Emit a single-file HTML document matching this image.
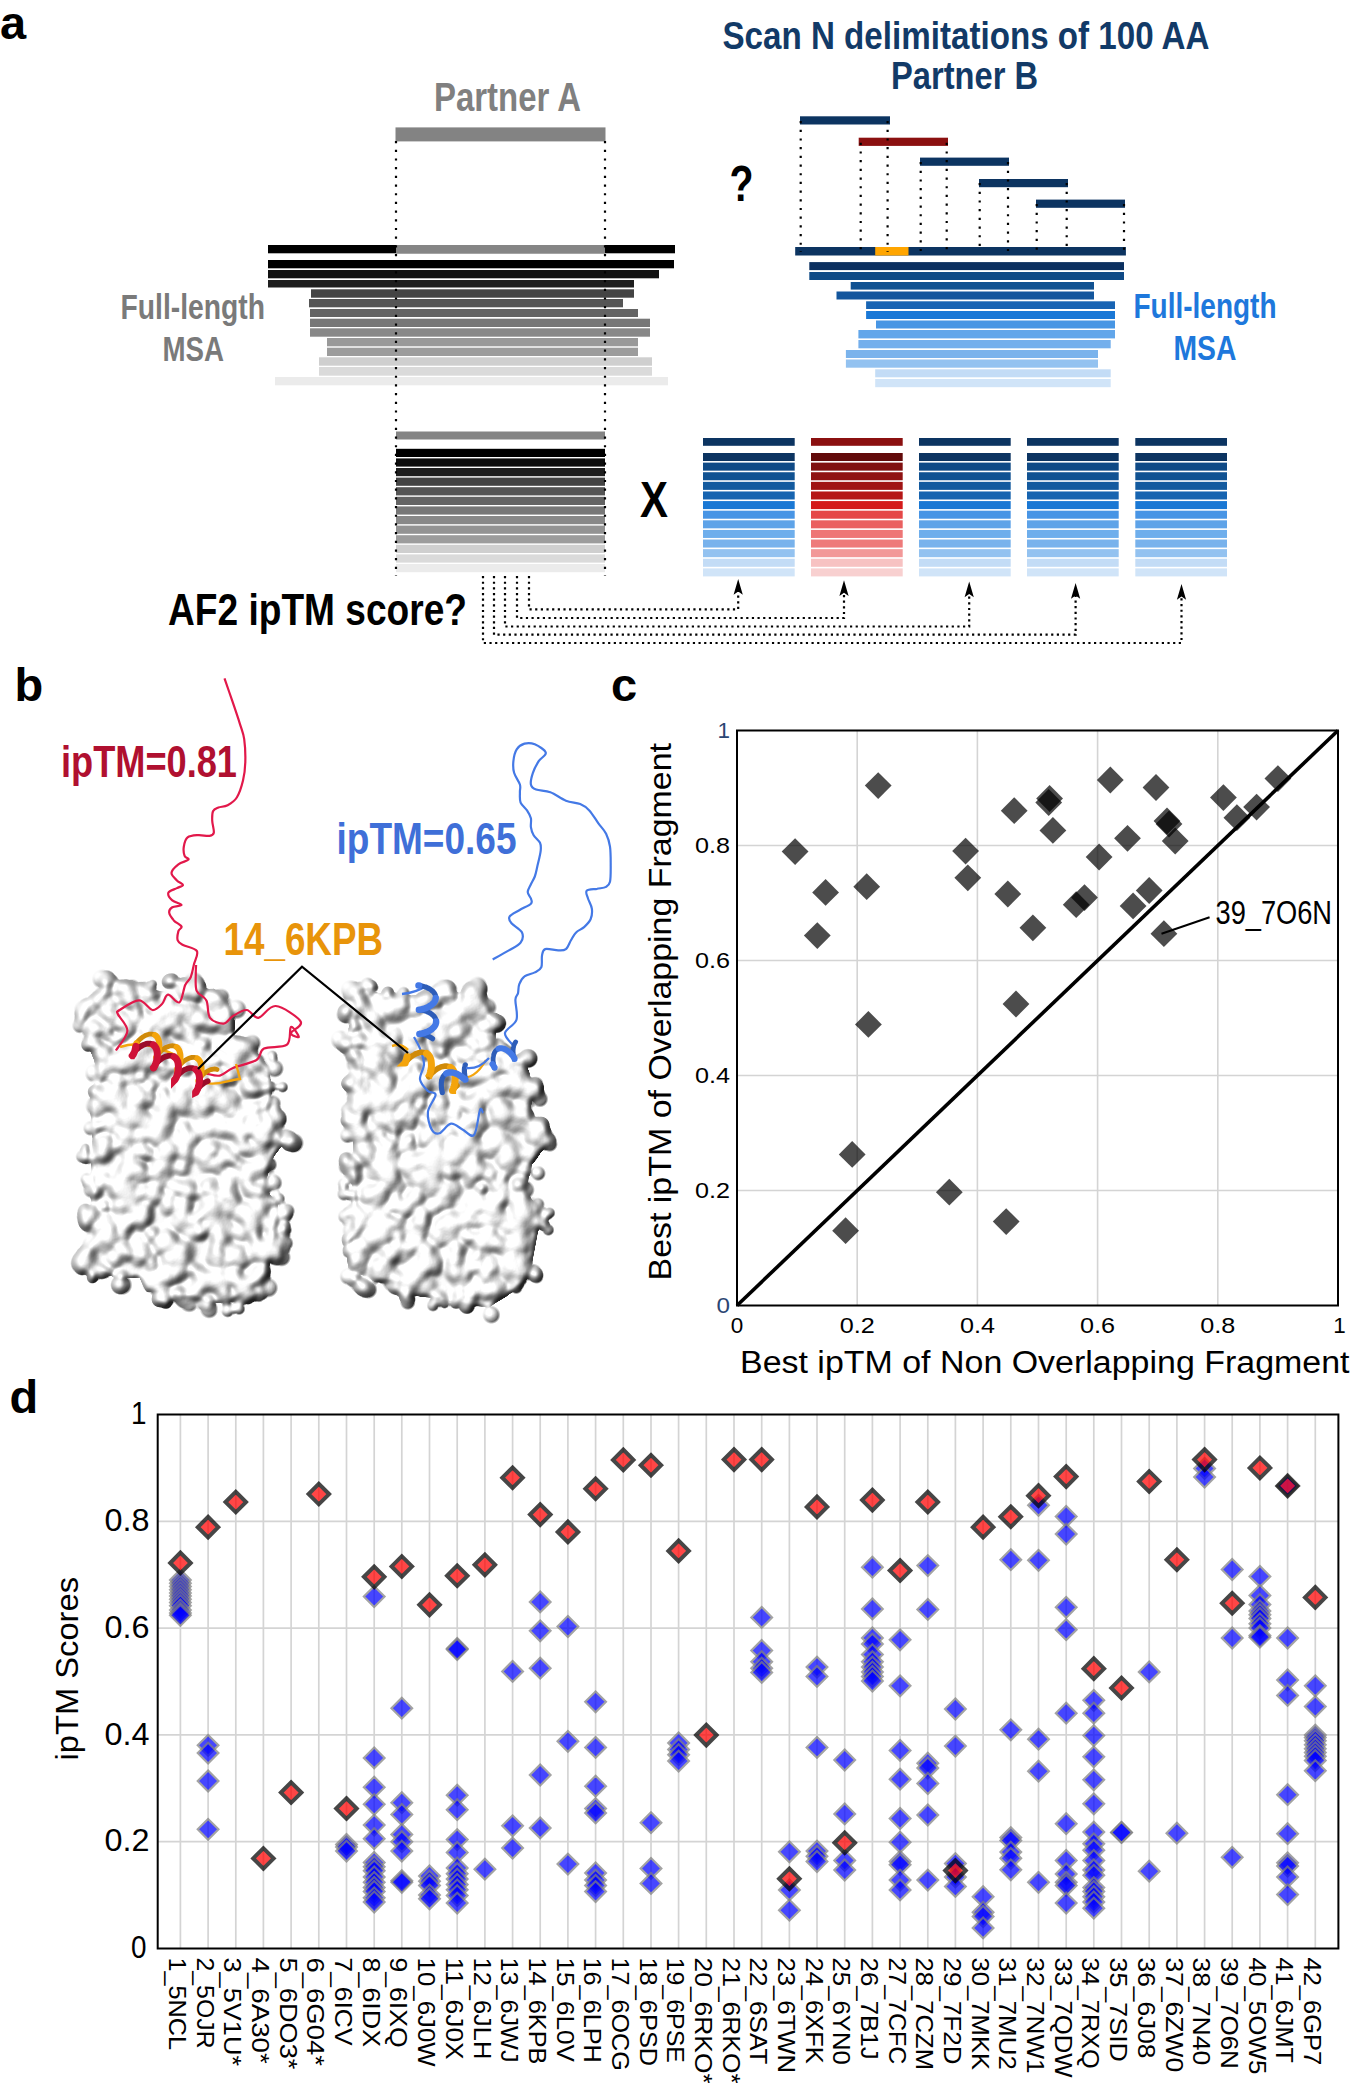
<!DOCTYPE html>
<html><head><meta charset="utf-8"><style>
html,body{margin:0;padding:0;background:#fff;overflow:hidden;}
svg{display:block;}
text{font-family:"Liberation Sans", sans-serif;}
</style></head><body>
<svg width="1350" height="2083" viewBox="0 0 1350 2083">
<rect width="1350" height="2083" fill="#fff"/>
<g font-family="Liberation Sans, sans-serif">
<text x="0" y="39" font-size="47" font-weight="bold" fill="#000">a</text>
<text x="434" y="111" font-size="40" font-weight="bold" fill="#808080" textLength="147" lengthAdjust="spacingAndGlyphs" text-anchor="start" >Partner A</text>
<rect x="395.5" y="127.4" width="210" height="14" fill="#838383"/>
<rect x="268" y="245" width="407" height="8.3" fill="#000"/>
<rect x="268" y="260" width="406" height="8.3" fill="#000"/>
<rect x="268" y="270" width="391" height="8.3" fill="#111"/>
<rect x="268" y="280" width="366" height="7.5" fill="#1e1e1e"/>
<rect x="311" y="289.3" width="323" height="8.4" fill="#444"/>
<rect x="309" y="299" width="314" height="8.3" fill="#555"/>
<rect x="310" y="309" width="328" height="8.0" fill="#646464"/>
<rect x="310" y="318.7" width="340" height="8.3" fill="#777"/>
<rect x="310" y="328.3" width="340" height="8.4" fill="#888"/>
<rect x="327" y="338" width="311" height="8.3" fill="#999"/>
<rect x="327" y="347.7" width="311" height="8.3" fill="#9c9c9c"/>
<rect x="319" y="357.3" width="333" height="8.4" fill="#cfcfcf"/>
<rect x="319" y="367" width="333" height="8.7" fill="#dadada"/>
<rect x="275" y="377" width="393" height="8.3" fill="#ebebeb"/>
<rect x="396" y="245" width="209" height="8.3" fill="#858585"/>
<text x="120.5" y="318.8" font-size="35" font-weight="bold" fill="#7a7a7a" textLength="144.5" lengthAdjust="spacingAndGlyphs" text-anchor="start" >Full-length</text>
<text x="162.5" y="360.7" font-size="35" font-weight="bold" fill="#7a7a7a" textLength="61.5" lengthAdjust="spacingAndGlyphs" text-anchor="start" >MSA</text>
<rect x="396" y="431.5" width="209" height="8" fill="#848484"/>
<rect x="396" y="448.80" width="209" height="8.20" fill="#000"/>
<rect x="396" y="458.40" width="209" height="8.20" fill="#0e0e0e"/>
<rect x="396" y="468.00" width="209" height="8.20" fill="#1f1f1f"/>
<rect x="396" y="477.60" width="209" height="8.20" fill="#444"/>
<rect x="396" y="487.20" width="209" height="8.20" fill="#555"/>
<rect x="396" y="496.80" width="209" height="8.20" fill="#646464"/>
<rect x="396" y="506.40" width="209" height="8.20" fill="#777"/>
<rect x="396" y="516.00" width="209" height="8.20" fill="#888"/>
<rect x="396" y="525.60" width="209" height="8.20" fill="#939393"/>
<rect x="396" y="535.20" width="209" height="8.20" fill="#9c9c9c"/>
<rect x="396" y="544.80" width="209" height="8.20" fill="#cfcfcf"/>
<rect x="396" y="554.40" width="209" height="8.20" fill="#dadada"/>
<rect x="396" y="564.00" width="209" height="8.20" fill="#ebebeb"/>
<line x1="396" y1="141" x2="396" y2="576" stroke="#000" stroke-width="2.2" stroke-dasharray="2.2 6.49"/>
<line x1="605" y1="141" x2="605" y2="576" stroke="#000" stroke-width="2.2" stroke-dasharray="2.2 6.49"/>
<text x="722.5" y="48.5" font-size="39" font-weight="bold" fill="#123a67" textLength="487" lengthAdjust="spacingAndGlyphs" text-anchor="start" >Scan N delimitations of 100 AA</text>
<text x="891" y="89.3" font-size="39" font-weight="bold" fill="#123a67" textLength="147" lengthAdjust="spacingAndGlyphs" text-anchor="start" >Partner B</text>
<text x="729.5" y="200.5" font-size="50" font-weight="bold" fill="#000" textLength="24" lengthAdjust="spacingAndGlyphs" text-anchor="start" >?</text>
<rect x="800" y="116.3" width="90" height="8.2" fill="#0c3461"/>
<rect x="858.7" y="137.7" width="89.3" height="8.2" fill="#8b1010"/>
<rect x="920" y="157.6" width="89" height="8.2" fill="#0c3461"/>
<rect x="979" y="179" width="89" height="8.2" fill="#0c3461"/>
<rect x="1036" y="199.6" width="89" height="8.2" fill="#0c3461"/>
<rect x="795.2" y="247" width="330.7" height="8.5" fill="#0c3461"/>
<rect x="875.2" y="247" width="33.3" height="8.5" fill="#ffa500"/>
<line x1="800.7" y1="121" x2="800.7" y2="252" stroke="#000" stroke-width="2.2" stroke-dasharray="2.2 6.49"/>
<line x1="887.6" y1="121" x2="887.6" y2="252" stroke="#000" stroke-width="2.2" stroke-dasharray="2.2 6.49"/>
<line x1="860.7" y1="142.7" x2="860.7" y2="252" stroke="#000" stroke-width="2.2" stroke-dasharray="2.2 6.49"/>
<line x1="946.7" y1="142.7" x2="946.7" y2="252" stroke="#000" stroke-width="2.2" stroke-dasharray="2.2 6.49"/>
<line x1="920.7" y1="162" x2="920.7" y2="252" stroke="#000" stroke-width="2.2" stroke-dasharray="2.2 6.49"/>
<line x1="1008" y1="162" x2="1008" y2="252" stroke="#000" stroke-width="2.2" stroke-dasharray="2.2 6.49"/>
<line x1="979.7" y1="183" x2="979.7" y2="252" stroke="#000" stroke-width="2.2" stroke-dasharray="2.2 6.49"/>
<line x1="1066.7" y1="183" x2="1066.7" y2="252" stroke="#000" stroke-width="2.2" stroke-dasharray="2.2 6.49"/>
<line x1="1036.7" y1="204" x2="1036.7" y2="252" stroke="#000" stroke-width="2.2" stroke-dasharray="2.2 6.49"/>
<line x1="1124" y1="204" x2="1124" y2="252" stroke="#000" stroke-width="2.2" stroke-dasharray="2.2 6.49"/>
<rect x="809.3" y="262.1" width="314.7" height="8.0" fill="#0b3060"/>
<rect x="809.3" y="272" width="314.7" height="8.0" fill="#0f4a86"/>
<rect x="850.7" y="282" width="243.3" height="7.6" fill="#115292"/>
<rect x="836.5" y="291.5" width="257.5" height="8.0" fill="#13569d"/>
<rect x="866.1" y="301.3" width="248.9" height="7.7" fill="#1864b3"/>
<rect x="866.1" y="311" width="248.9" height="8.0" fill="#1a78d6"/>
<rect x="876" y="320.5" width="239.0" height="8.0" fill="#4896e4"/>
<rect x="858.4" y="330" width="256.6" height="8.4" fill="#62a6ea"/>
<rect x="858.4" y="340" width="252.3" height="8.3" fill="#74afec"/>
<rect x="845.9" y="350" width="252.1" height="8.0" fill="#7ab3ec"/>
<rect x="845.9" y="359.5" width="252.1" height="8.2" fill="#93c2f0"/>
<rect x="875.2" y="369.3" width="235.5" height="8.0" fill="#c3dcf6"/>
<rect x="875.2" y="379" width="235.5" height="8.2" fill="#d0e4f8"/>
<text x="1133.5" y="318" font-size="35" font-weight="bold" fill="#1e78dc" textLength="143" lengthAdjust="spacingAndGlyphs" text-anchor="start" >Full-length</text>
<text x="1173.5" y="359.7" font-size="35" font-weight="bold" fill="#1e78dc" textLength="63" lengthAdjust="spacingAndGlyphs" text-anchor="start" >MSA</text>
<text x="640" y="517.2" font-size="50" font-weight="bold" fill="#000" textLength="28" lengthAdjust="spacingAndGlyphs" text-anchor="start" >X</text>
<rect x="703" y="438" width="91.7" height="7.8" fill="#0c3461"/>
<rect x="703" y="453.00" width="91.7" height="8.02" fill="#0c3461"/>
<rect x="703" y="462.62" width="91.7" height="8.02" fill="#0f4a86"/>
<rect x="703" y="472.23" width="91.7" height="8.02" fill="#115292"/>
<rect x="703" y="481.85" width="91.7" height="8.02" fill="#135a9f"/>
<rect x="703" y="491.46" width="91.7" height="8.02" fill="#1764b0"/>
<rect x="703" y="501.08" width="91.7" height="8.02" fill="#1a78d4"/>
<rect x="703" y="510.69" width="91.7" height="8.02" fill="#4895e5"/>
<rect x="703" y="520.31" width="91.7" height="8.02" fill="#5ea3e8"/>
<rect x="703" y="529.92" width="91.7" height="8.02" fill="#6eaeec"/>
<rect x="703" y="539.54" width="91.7" height="8.02" fill="#78b2ec"/>
<rect x="703" y="549.15" width="91.7" height="8.02" fill="#93c2f0"/>
<rect x="703" y="558.77" width="91.7" height="8.02" fill="#c3dcf6"/>
<rect x="703" y="568.38" width="91.7" height="8.02" fill="#d0e4f8"/>
<rect x="811" y="438" width="91.7" height="7.8" fill="#8b1010"/>
<rect x="811" y="453.00" width="91.7" height="8.02" fill="#620a0a"/>
<rect x="811" y="462.62" width="91.7" height="8.02" fill="#801010"/>
<rect x="811" y="472.23" width="91.7" height="8.02" fill="#8f1212"/>
<rect x="811" y="481.85" width="91.7" height="8.02" fill="#a01414"/>
<rect x="811" y="491.46" width="91.7" height="8.02" fill="#b51717"/>
<rect x="811" y="501.08" width="91.7" height="8.02" fill="#d41a1a"/>
<rect x="811" y="510.69" width="91.7" height="8.02" fill="#e54848"/>
<rect x="811" y="520.31" width="91.7" height="8.02" fill="#ea6060"/>
<rect x="811" y="529.92" width="91.7" height="8.02" fill="#ee7676"/>
<rect x="811" y="539.54" width="91.7" height="8.02" fill="#ee7a7a"/>
<rect x="811" y="549.15" width="91.7" height="8.02" fill="#f29898"/>
<rect x="811" y="558.77" width="91.7" height="8.02" fill="#f7c2c2"/>
<rect x="811" y="568.38" width="91.7" height="8.02" fill="#f8d0d0"/>
<rect x="919" y="438" width="91.7" height="7.8" fill="#0c3461"/>
<rect x="919" y="453.00" width="91.7" height="8.02" fill="#0c3461"/>
<rect x="919" y="462.62" width="91.7" height="8.02" fill="#0f4a86"/>
<rect x="919" y="472.23" width="91.7" height="8.02" fill="#115292"/>
<rect x="919" y="481.85" width="91.7" height="8.02" fill="#135a9f"/>
<rect x="919" y="491.46" width="91.7" height="8.02" fill="#1764b0"/>
<rect x="919" y="501.08" width="91.7" height="8.02" fill="#1a78d4"/>
<rect x="919" y="510.69" width="91.7" height="8.02" fill="#4895e5"/>
<rect x="919" y="520.31" width="91.7" height="8.02" fill="#5ea3e8"/>
<rect x="919" y="529.92" width="91.7" height="8.02" fill="#6eaeec"/>
<rect x="919" y="539.54" width="91.7" height="8.02" fill="#78b2ec"/>
<rect x="919" y="549.15" width="91.7" height="8.02" fill="#93c2f0"/>
<rect x="919" y="558.77" width="91.7" height="8.02" fill="#c3dcf6"/>
<rect x="919" y="568.38" width="91.7" height="8.02" fill="#d0e4f8"/>
<rect x="1027" y="438" width="91.7" height="7.8" fill="#0c3461"/>
<rect x="1027" y="453.00" width="91.7" height="8.02" fill="#0c3461"/>
<rect x="1027" y="462.62" width="91.7" height="8.02" fill="#0f4a86"/>
<rect x="1027" y="472.23" width="91.7" height="8.02" fill="#115292"/>
<rect x="1027" y="481.85" width="91.7" height="8.02" fill="#135a9f"/>
<rect x="1027" y="491.46" width="91.7" height="8.02" fill="#1764b0"/>
<rect x="1027" y="501.08" width="91.7" height="8.02" fill="#1a78d4"/>
<rect x="1027" y="510.69" width="91.7" height="8.02" fill="#4895e5"/>
<rect x="1027" y="520.31" width="91.7" height="8.02" fill="#5ea3e8"/>
<rect x="1027" y="529.92" width="91.7" height="8.02" fill="#6eaeec"/>
<rect x="1027" y="539.54" width="91.7" height="8.02" fill="#78b2ec"/>
<rect x="1027" y="549.15" width="91.7" height="8.02" fill="#93c2f0"/>
<rect x="1027" y="558.77" width="91.7" height="8.02" fill="#c3dcf6"/>
<rect x="1027" y="568.38" width="91.7" height="8.02" fill="#d0e4f8"/>
<rect x="1135.3" y="438" width="91.7" height="7.8" fill="#0c3461"/>
<rect x="1135.3" y="453.00" width="91.7" height="8.02" fill="#0c3461"/>
<rect x="1135.3" y="462.62" width="91.7" height="8.02" fill="#0f4a86"/>
<rect x="1135.3" y="472.23" width="91.7" height="8.02" fill="#115292"/>
<rect x="1135.3" y="481.85" width="91.7" height="8.02" fill="#135a9f"/>
<rect x="1135.3" y="491.46" width="91.7" height="8.02" fill="#1764b0"/>
<rect x="1135.3" y="501.08" width="91.7" height="8.02" fill="#1a78d4"/>
<rect x="1135.3" y="510.69" width="91.7" height="8.02" fill="#4895e5"/>
<rect x="1135.3" y="520.31" width="91.7" height="8.02" fill="#5ea3e8"/>
<rect x="1135.3" y="529.92" width="91.7" height="8.02" fill="#6eaeec"/>
<rect x="1135.3" y="539.54" width="91.7" height="8.02" fill="#78b2ec"/>
<rect x="1135.3" y="549.15" width="91.7" height="8.02" fill="#93c2f0"/>
<rect x="1135.3" y="558.77" width="91.7" height="8.02" fill="#c3dcf6"/>
<rect x="1135.3" y="568.38" width="91.7" height="8.02" fill="#d0e4f8"/>
<text x="168" y="625.4" font-size="45" font-weight="bold" fill="#000" textLength="299" lengthAdjust="spacingAndGlyphs" text-anchor="start" >AF2 ipTM score?</text>
<path d="M529,576 V609.4 H738.2 V591" fill="none" stroke="#000" stroke-width="2.2" stroke-dasharray="2.2 3.45"/>
<path d="M738.2,579 L742.8000000000001,594.7 L738.2,591.4 L733.6,594.7 Z" fill="#000"/>
<path d="M517,576 V618 H844 V592.3" fill="none" stroke="#000" stroke-width="2.2" stroke-dasharray="2.2 3.45"/>
<path d="M844,580.3 L848.6,596.0 L844,592.6999999999999 L839.4,596.0 Z" fill="#000"/>
<path d="M505,576 V626.5 H969.2 V593.5" fill="none" stroke="#000" stroke-width="2.2" stroke-dasharray="2.2 3.45"/>
<path d="M969.2,581.5 L973.8000000000001,597.2 L969.2,593.9 L964.6,597.2 Z" fill="#000"/>
<path d="M494,576 V634.7 H1075.6 V595" fill="none" stroke="#000" stroke-width="2.2" stroke-dasharray="2.2 3.45"/>
<path d="M1075.6,583 L1080.1999999999998,598.7 L1075.6,595.4 L1071.0,598.7 Z" fill="#000"/>
<path d="M483,576 V643 H1181.5 V596" fill="none" stroke="#000" stroke-width="2.2" stroke-dasharray="2.2 3.45"/>
<path d="M1181.5,584 L1186.1,599.7 L1181.5,596.4 L1176.9,599.7 Z" fill="#000"/>
</g>
<defs>
<radialGradient id="hgt"><stop offset="0" stop-color="#000" stop-opacity="0.55"/><stop offset="0.55" stop-color="#000" stop-opacity="0.38"/><stop offset="1" stop-color="#000" stop-opacity="0"/></radialGradient>
<filter id="surf" x="-5%" y="-5%" width="110%" height="110%" color-interpolation-filters="sRGB"><feGaussianBlur in="SourceAlpha" stdDeviation="2.2" result="ba"/><feDiffuseLighting in="ba" surfaceScale="13" diffuseConstant="1.04" lighting-color="#fff" result="lit"><feDistantLight azimuth="225" elevation="65"/></feDiffuseLighting><feComponentTransfer in="lit" result="lit2"><feFuncR type="linear" slope="0.92" intercept="0.13"/><feFuncG type="linear" slope="0.92" intercept="0.13"/><feFuncB type="linear" slope="0.92" intercept="0.13"/></feComponentTransfer><feComponentTransfer in="SourceAlpha" result="mask"><feFuncA type="linear" slope="6" intercept="-1.3"/></feComponentTransfer><feComposite in="lit2" in2="mask" operator="in"/></filter>
</defs>
<text x="14.5" y="700.5" font-size="47" font-weight="bold" fill="#000" font-family="Liberation Sans, sans-serif">b</text>
<g filter="url(#surf)">
<polygon points="94.3,994.2 108.2,986.9 137.5,992.3 161.8,990.4 189.7,988.5 214.0,988.5 227.5,1001.7 234.7,1021.4 234.7,1043.0 259.0,1054.3 268.0,1066.5 272.5,1088.2 268.0,1111.7 279.7,1133.3 283.3,1144.6 271.2,1160.5 264.4,1187.8 277.9,1203.8 277.9,1224.5 271.2,1260.2 264.4,1278.0 245.2,1293.1 227.5,1303.4 210.4,1302.0 175.9,1294.8 146.3,1291.2 139.3,1278.0 115.0,1278.0 87.1,1263.9 85.7,1251.3 94.3,1236.7 90.7,1205.7 90.7,1169.9 92.5,1133.3 90.7,1119.2 90.7,1088.2 97.9,1079.3 96.1,1066.5 85.7,1039.3 87.1,1025.2 94.3,1006.9" fill="#000" fill-opacity="0.42"/>
<circle cx="145.5" cy="1026.0" r="11.4" fill="url(#hgt)"/>
<circle cx="88.7" cy="1157.9" r="9.2" fill="url(#hgt)"/>
<circle cx="85.5" cy="1148.2" r="6.8" fill="url(#hgt)"/>
<circle cx="170.2" cy="998.2" r="7.2" fill="url(#hgt)"/>
<circle cx="168.2" cy="1257.7" r="7.4" fill="url(#hgt)"/>
<circle cx="122.8" cy="1189.3" r="13.6" fill="url(#hgt)"/>
<circle cx="202.6" cy="1110.2" r="13.8" fill="url(#hgt)"/>
<circle cx="82.9" cy="1268.5" r="8.7" fill="url(#hgt)"/>
<circle cx="104.9" cy="1014.7" r="8.8" fill="url(#hgt)"/>
<circle cx="203.6" cy="1193.3" r="9.3" fill="url(#hgt)"/>
<circle cx="196.0" cy="995.8" r="6.9" fill="url(#hgt)"/>
<circle cx="118.9" cy="1207.5" r="9.7" fill="url(#hgt)"/>
<circle cx="143.3" cy="1175.0" r="9.9" fill="url(#hgt)"/>
<circle cx="140.0" cy="1246.5" r="11.7" fill="url(#hgt)"/>
<circle cx="127.5" cy="1171.2" r="10.4" fill="url(#hgt)"/>
<circle cx="269.8" cy="1224.3" r="8.7" fill="url(#hgt)"/>
<circle cx="166.7" cy="1233.8" r="7.6" fill="url(#hgt)"/>
<circle cx="182.7" cy="987.7" r="11.5" fill="url(#hgt)"/>
<circle cx="244.9" cy="1170.7" r="13.1" fill="url(#hgt)"/>
<circle cx="143.2" cy="1212.6" r="11.0" fill="url(#hgt)"/>
<circle cx="203.2" cy="1130.6" r="12.8" fill="url(#hgt)"/>
<circle cx="285.5" cy="1136.8" r="11.5" fill="url(#hgt)"/>
<circle cx="86.1" cy="1214.7" r="11.4" fill="url(#hgt)"/>
<circle cx="136.6" cy="1106.5" r="11.5" fill="url(#hgt)"/>
<circle cx="110.3" cy="1014.4" r="6.9" fill="url(#hgt)"/>
<circle cx="128.3" cy="1108.3" r="13.0" fill="url(#hgt)"/>
<circle cx="90.6" cy="1128.2" r="10.6" fill="url(#hgt)"/>
<circle cx="271.7" cy="1255.1" r="13.0" fill="url(#hgt)"/>
<circle cx="135.2" cy="1116.6" r="9.2" fill="url(#hgt)"/>
<circle cx="106.4" cy="1034.7" r="8.2" fill="url(#hgt)"/>
<circle cx="125.0" cy="1140.5" r="10.9" fill="url(#hgt)"/>
<circle cx="166.9" cy="1100.8" r="10.7" fill="url(#hgt)"/>
<circle cx="287.4" cy="1210.9" r="10.4" fill="url(#hgt)"/>
<circle cx="211.7" cy="1206.0" r="6.9" fill="url(#hgt)"/>
<circle cx="275.3" cy="1241.6" r="13.1" fill="url(#hgt)"/>
<circle cx="252.4" cy="1108.8" r="9.5" fill="url(#hgt)"/>
<circle cx="95.8" cy="1191.7" r="7.0" fill="url(#hgt)"/>
<circle cx="87.6" cy="1045.8" r="7.7" fill="url(#hgt)"/>
<circle cx="149.1" cy="992.3" r="6.5" fill="url(#hgt)"/>
<circle cx="106.5" cy="1009.1" r="9.2" fill="url(#hgt)"/>
<circle cx="210.9" cy="1025.2" r="8.4" fill="url(#hgt)"/>
<circle cx="150.8" cy="1099.1" r="7.4" fill="url(#hgt)"/>
<circle cx="177.5" cy="1140.1" r="7.1" fill="url(#hgt)"/>
<circle cx="95.5" cy="1091.7" r="8.5" fill="url(#hgt)"/>
<circle cx="191.6" cy="1024.5" r="10.6" fill="url(#hgt)"/>
<circle cx="229.5" cy="1063.8" r="9.3" fill="url(#hgt)"/>
<circle cx="110.1" cy="1238.8" r="10.5" fill="url(#hgt)"/>
<circle cx="248.2" cy="1087.3" r="8.2" fill="url(#hgt)"/>
<circle cx="264.8" cy="1250.5" r="12.6" fill="url(#hgt)"/>
<circle cx="239.3" cy="1052.0" r="10.4" fill="url(#hgt)"/>
<circle cx="152.6" cy="984.2" r="6.7" fill="url(#hgt)"/>
<circle cx="135.4" cy="1063.1" r="11.7" fill="url(#hgt)"/>
<circle cx="122.1" cy="1052.0" r="8.0" fill="url(#hgt)"/>
<circle cx="118.5" cy="1188.2" r="13.3" fill="url(#hgt)"/>
<circle cx="262.0" cy="1138.6" r="11.4" fill="url(#hgt)"/>
<circle cx="221.4" cy="1286.1" r="12.4" fill="url(#hgt)"/>
<circle cx="241.6" cy="1138.1" r="7.8" fill="url(#hgt)"/>
<circle cx="250.4" cy="1088.3" r="12.5" fill="url(#hgt)"/>
<circle cx="163.0" cy="1298.8" r="11.9" fill="url(#hgt)"/>
<circle cx="110.8" cy="1017.8" r="7.6" fill="url(#hgt)"/>
<circle cx="276.5" cy="1250.7" r="7.6" fill="url(#hgt)"/>
<circle cx="220.7" cy="1094.4" r="10.6" fill="url(#hgt)"/>
<circle cx="101.9" cy="979.2" r="13.8" fill="url(#hgt)"/>
<circle cx="219.0" cy="1154.8" r="13.5" fill="url(#hgt)"/>
<circle cx="170.3" cy="1273.0" r="12.7" fill="url(#hgt)"/>
<circle cx="120.0" cy="1060.6" r="8.7" fill="url(#hgt)"/>
<circle cx="126.7" cy="1175.3" r="8.4" fill="url(#hgt)"/>
<circle cx="166.9" cy="1019.2" r="13.3" fill="url(#hgt)"/>
<circle cx="152.2" cy="1131.3" r="10.9" fill="url(#hgt)"/>
<circle cx="276.4" cy="1118.4" r="13.4" fill="url(#hgt)"/>
<circle cx="185.6" cy="1156.6" r="10.4" fill="url(#hgt)"/>
<circle cx="179.2" cy="1222.8" r="10.7" fill="url(#hgt)"/>
<circle cx="145.9" cy="1151.9" r="10.7" fill="url(#hgt)"/>
<circle cx="198.8" cy="1059.5" r="8.6" fill="url(#hgt)"/>
<circle cx="246.6" cy="1148.3" r="10.7" fill="url(#hgt)"/>
<circle cx="243.9" cy="1287.0" r="9.8" fill="url(#hgt)"/>
<circle cx="210.6" cy="1147.6" r="10.3" fill="url(#hgt)"/>
<circle cx="228.7" cy="1129.3" r="10.5" fill="url(#hgt)"/>
<circle cx="180.2" cy="1297.0" r="11.7" fill="url(#hgt)"/>
<circle cx="131.0" cy="1166.0" r="13.6" fill="url(#hgt)"/>
<circle cx="99.8" cy="1125.8" r="7.0" fill="url(#hgt)"/>
<circle cx="126.7" cy="999.4" r="11.5" fill="url(#hgt)"/>
<circle cx="249.3" cy="1281.7" r="7.7" fill="url(#hgt)"/>
<circle cx="234.0" cy="1200.6" r="7.6" fill="url(#hgt)"/>
<circle cx="162.2" cy="1141.3" r="13.9" fill="url(#hgt)"/>
<circle cx="169.8" cy="1151.0" r="9.0" fill="url(#hgt)"/>
<circle cx="116.6" cy="1083.5" r="11.9" fill="url(#hgt)"/>
<circle cx="171.8" cy="980.5" r="9.0" fill="url(#hgt)"/>
<circle cx="213.2" cy="1149.9" r="7.0" fill="url(#hgt)"/>
<circle cx="132.3" cy="987.9" r="12.3" fill="url(#hgt)"/>
<circle cx="133.4" cy="1018.7" r="9.7" fill="url(#hgt)"/>
<circle cx="278.0" cy="1255.0" r="8.4" fill="url(#hgt)"/>
<circle cx="201.1" cy="1214.3" r="7.2" fill="url(#hgt)"/>
<circle cx="85.4" cy="1210.1" r="9.7" fill="url(#hgt)"/>
<circle cx="215.5" cy="1249.0" r="7.1" fill="url(#hgt)"/>
<circle cx="267.0" cy="1129.8" r="9.0" fill="url(#hgt)"/>
<circle cx="197.2" cy="1291.9" r="8.5" fill="url(#hgt)"/>
<circle cx="101.6" cy="1154.9" r="8.3" fill="url(#hgt)"/>
<circle cx="97.1" cy="1029.6" r="6.9" fill="url(#hgt)"/>
<circle cx="117.9" cy="1081.2" r="8.8" fill="url(#hgt)"/>
<circle cx="243.7" cy="1073.7" r="10.3" fill="url(#hgt)"/>
<circle cx="112.5" cy="1093.2" r="6.6" fill="url(#hgt)"/>
<circle cx="237.8" cy="1163.1" r="7.9" fill="url(#hgt)"/>
<circle cx="179.5" cy="1294.6" r="7.3" fill="url(#hgt)"/>
<circle cx="257.1" cy="1122.4" r="10.2" fill="url(#hgt)"/>
<circle cx="260.7" cy="1109.0" r="10.3" fill="url(#hgt)"/>
<circle cx="227.6" cy="1311.0" r="9.1" fill="url(#hgt)"/>
<circle cx="260.2" cy="1216.5" r="11.3" fill="url(#hgt)"/>
<circle cx="163.7" cy="1093.4" r="6.9" fill="url(#hgt)"/>
<circle cx="101.7" cy="998.5" r="12.1" fill="url(#hgt)"/>
<circle cx="130.1" cy="1030.2" r="7.1" fill="url(#hgt)"/>
<circle cx="262.2" cy="1272.6" r="11.5" fill="url(#hgt)"/>
<circle cx="136.0" cy="1057.3" r="8.7" fill="url(#hgt)"/>
<circle cx="176.1" cy="1028.3" r="9.8" fill="url(#hgt)"/>
<circle cx="142.2" cy="1096.5" r="6.5" fill="url(#hgt)"/>
<circle cx="158.5" cy="1137.0" r="10.3" fill="url(#hgt)"/>
<circle cx="117.7" cy="1147.3" r="6.5" fill="url(#hgt)"/>
<circle cx="132.0" cy="1005.1" r="9.5" fill="url(#hgt)"/>
<circle cx="141.0" cy="1054.1" r="10.9" fill="url(#hgt)"/>
<circle cx="191.8" cy="1231.5" r="11.4" fill="url(#hgt)"/>
<circle cx="233.9" cy="1275.6" r="9.4" fill="url(#hgt)"/>
<circle cx="106.1" cy="1222.5" r="11.3" fill="url(#hgt)"/>
<circle cx="82.3" cy="1260.6" r="13.2" fill="url(#hgt)"/>
<circle cx="213.9" cy="1225.8" r="12.6" fill="url(#hgt)"/>
<circle cx="103.8" cy="1153.8" r="10.3" fill="url(#hgt)"/>
<circle cx="260.8" cy="1250.1" r="12.7" fill="url(#hgt)"/>
<circle cx="204.2" cy="1280.3" r="11.6" fill="url(#hgt)"/>
<circle cx="228.8" cy="1053.1" r="6.7" fill="url(#hgt)"/>
<circle cx="102.4" cy="1097.9" r="7.3" fill="url(#hgt)"/>
<circle cx="261.0" cy="1165.7" r="11.2" fill="url(#hgt)"/>
<circle cx="213.7" cy="1207.6" r="10.2" fill="url(#hgt)"/>
<circle cx="241.2" cy="1146.7" r="10.5" fill="url(#hgt)"/>
<circle cx="221.1" cy="996.9" r="12.0" fill="url(#hgt)"/>
<circle cx="129.3" cy="999.8" r="8.5" fill="url(#hgt)"/>
<circle cx="236.9" cy="1044.6" r="12.0" fill="url(#hgt)"/>
<circle cx="292.5" cy="1143.6" r="9.4" fill="url(#hgt)"/>
<circle cx="180.5" cy="1208.6" r="12.3" fill="url(#hgt)"/>
<circle cx="211.6" cy="1194.6" r="7.1" fill="url(#hgt)"/>
<circle cx="105.7" cy="1061.3" r="12.1" fill="url(#hgt)"/>
<circle cx="141.1" cy="1168.9" r="6.6" fill="url(#hgt)"/>
<circle cx="224.0" cy="1211.5" r="11.6" fill="url(#hgt)"/>
<circle cx="138.0" cy="1151.3" r="10.0" fill="url(#hgt)"/>
<circle cx="177.6" cy="1014.9" r="13.2" fill="url(#hgt)"/>
<circle cx="175.9" cy="1255.3" r="13.8" fill="url(#hgt)"/>
<circle cx="173.8" cy="1066.4" r="8.1" fill="url(#hgt)"/>
<circle cx="203.6" cy="1022.9" r="10.4" fill="url(#hgt)"/>
<circle cx="257.4" cy="1148.6" r="13.2" fill="url(#hgt)"/>
<circle cx="231.1" cy="1053.6" r="13.2" fill="url(#hgt)"/>
<circle cx="182.1" cy="982.8" r="6.5" fill="url(#hgt)"/>
<circle cx="183.3" cy="1128.8" r="8.8" fill="url(#hgt)"/>
<circle cx="104.1" cy="1092.2" r="8.9" fill="url(#hgt)"/>
<circle cx="241.8" cy="1261.9" r="7.4" fill="url(#hgt)"/>
<circle cx="281.4" cy="1218.7" r="13.3" fill="url(#hgt)"/>
<circle cx="137.8" cy="1101.9" r="9.4" fill="url(#hgt)"/>
<circle cx="153.8" cy="1121.0" r="8.6" fill="url(#hgt)"/>
<circle cx="83.3" cy="1009.2" r="12.8" fill="url(#hgt)"/>
<circle cx="128.6" cy="1065.4" r="10.3" fill="url(#hgt)"/>
<circle cx="115.2" cy="1102.2" r="13.7" fill="url(#hgt)"/>
<circle cx="271.9" cy="1252.6" r="11.2" fill="url(#hgt)"/>
<circle cx="196.3" cy="1220.9" r="6.9" fill="url(#hgt)"/>
<circle cx="237.6" cy="1128.8" r="12.1" fill="url(#hgt)"/>
<circle cx="217.8" cy="1072.4" r="6.9" fill="url(#hgt)"/>
<circle cx="178.9" cy="1092.1" r="8.7" fill="url(#hgt)"/>
<circle cx="239.1" cy="1308.9" r="8.5" fill="url(#hgt)"/>
<circle cx="220.4" cy="1077.4" r="10.7" fill="url(#hgt)"/>
<circle cx="161.4" cy="1031.6" r="7.7" fill="url(#hgt)"/>
<circle cx="119.3" cy="1284.8" r="10.2" fill="url(#hgt)"/>
<circle cx="122.0" cy="1284.9" r="14.0" fill="url(#hgt)"/>
<circle cx="173.9" cy="1022.1" r="7.9" fill="url(#hgt)"/>
<circle cx="92.9" cy="1091.5" r="7.2" fill="url(#hgt)"/>
<circle cx="126.3" cy="1062.8" r="10.8" fill="url(#hgt)"/>
<circle cx="272.6" cy="1231.2" r="9.6" fill="url(#hgt)"/>
<circle cx="165.8" cy="1153.9" r="9.3" fill="url(#hgt)"/>
<circle cx="148.7" cy="995.6" r="8.6" fill="url(#hgt)"/>
<circle cx="186.0" cy="1190.1" r="13.0" fill="url(#hgt)"/>
<circle cx="121.1" cy="1067.2" r="8.4" fill="url(#hgt)"/>
<circle cx="162.6" cy="1127.1" r="13.7" fill="url(#hgt)"/>
<circle cx="263.9" cy="1273.4" r="6.7" fill="url(#hgt)"/>
<circle cx="274.5" cy="1136.5" r="10.9" fill="url(#hgt)"/>
<circle cx="281.5" cy="1257.2" r="12.9" fill="url(#hgt)"/>
<circle cx="97.0" cy="1027.2" r="10.4" fill="url(#hgt)"/>
<circle cx="226.3" cy="1296.9" r="11.9" fill="url(#hgt)"/>
<circle cx="218.4" cy="1236.4" r="9.9" fill="url(#hgt)"/>
<circle cx="196.8" cy="987.9" r="12.4" fill="url(#hgt)"/>
<circle cx="218.0" cy="1078.4" r="7.5" fill="url(#hgt)"/>
<circle cx="129.2" cy="1192.4" r="11.7" fill="url(#hgt)"/>
<circle cx="97.7" cy="998.4" r="10.4" fill="url(#hgt)"/>
<circle cx="203.9" cy="1107.3" r="8.2" fill="url(#hgt)"/>
<circle cx="140.4" cy="1132.2" r="13.7" fill="url(#hgt)"/>
<circle cx="217.8" cy="1277.2" r="10.1" fill="url(#hgt)"/>
<circle cx="125.4" cy="1059.0" r="13.7" fill="url(#hgt)"/>
<circle cx="231.4" cy="1079.6" r="6.7" fill="url(#hgt)"/>
<circle cx="184.8" cy="1205.4" r="9.7" fill="url(#hgt)"/>
<circle cx="130.4" cy="1203.0" r="13.4" fill="url(#hgt)"/>
<circle cx="123.6" cy="986.0" r="9.0" fill="url(#hgt)"/>
<circle cx="167.3" cy="1208.2" r="8.0" fill="url(#hgt)"/>
<circle cx="252.2" cy="1227.6" r="10.3" fill="url(#hgt)"/>
<circle cx="142.7" cy="1255.3" r="8.2" fill="url(#hgt)"/>
<circle cx="122.4" cy="1234.9" r="8.7" fill="url(#hgt)"/>
<circle cx="287.2" cy="1144.2" r="7.9" fill="url(#hgt)"/>
<circle cx="122.8" cy="1117.2" r="11.5" fill="url(#hgt)"/>
<circle cx="161.2" cy="1047.3" r="13.8" fill="url(#hgt)"/>
<circle cx="104.4" cy="992.1" r="7.0" fill="url(#hgt)"/>
<circle cx="161.1" cy="1282.1" r="13.1" fill="url(#hgt)"/>
<circle cx="282.6" cy="1087.1" r="7.9" fill="url(#hgt)"/>
<circle cx="283.5" cy="1230.1" r="6.7" fill="url(#hgt)"/>
<circle cx="222.3" cy="1104.1" r="9.3" fill="url(#hgt)"/>
<circle cx="147.2" cy="1032.3" r="6.5" fill="url(#hgt)"/>
<circle cx="135.5" cy="1094.7" r="13.7" fill="url(#hgt)"/>
<circle cx="119.2" cy="1096.5" r="12.7" fill="url(#hgt)"/>
<circle cx="257.8" cy="1122.5" r="6.9" fill="url(#hgt)"/>
<circle cx="179.2" cy="1102.0" r="13.4" fill="url(#hgt)"/>
<circle cx="115.9" cy="1099.1" r="13.2" fill="url(#hgt)"/>
<circle cx="255.5" cy="1237.0" r="6.8" fill="url(#hgt)"/>
<circle cx="241.0" cy="1282.2" r="9.0" fill="url(#hgt)"/>
<circle cx="211.6" cy="1064.1" r="11.9" fill="url(#hgt)"/>
<circle cx="143.8" cy="1068.8" r="6.5" fill="url(#hgt)"/>
<circle cx="242.9" cy="1288.4" r="11.3" fill="url(#hgt)"/>
<circle cx="125.2" cy="1137.1" r="13.7" fill="url(#hgt)"/>
<circle cx="129.0" cy="1121.6" r="10.2" fill="url(#hgt)"/>
<circle cx="253.5" cy="1227.4" r="12.7" fill="url(#hgt)"/>
<circle cx="246.7" cy="1182.4" r="9.0" fill="url(#hgt)"/>
<circle cx="144.5" cy="1098.3" r="12.4" fill="url(#hgt)"/>
<circle cx="90.2" cy="1041.9" r="12.1" fill="url(#hgt)"/>
<circle cx="128.2" cy="996.5" r="6.8" fill="url(#hgt)"/>
<circle cx="197.1" cy="1085.9" r="13.9" fill="url(#hgt)"/>
<circle cx="132.2" cy="1003.1" r="7.2" fill="url(#hgt)"/>
<circle cx="184.9" cy="1217.5" r="9.9" fill="url(#hgt)"/>
<circle cx="125.2" cy="1117.2" r="11.2" fill="url(#hgt)"/>
<circle cx="224.5" cy="1230.6" r="12.9" fill="url(#hgt)"/>
<circle cx="222.3" cy="1015.8" r="12.8" fill="url(#hgt)"/>
<circle cx="138.7" cy="1168.6" r="9.3" fill="url(#hgt)"/>
<circle cx="238.9" cy="1042.6" r="8.4" fill="url(#hgt)"/>
<circle cx="127.7" cy="1026.8" r="13.1" fill="url(#hgt)"/>
<circle cx="202.9" cy="1086.1" r="9.5" fill="url(#hgt)"/>
<circle cx="124.6" cy="1251.4" r="11.4" fill="url(#hgt)"/>
<circle cx="179.5" cy="1255.0" r="12.8" fill="url(#hgt)"/>
<circle cx="138.7" cy="1015.2" r="7.9" fill="url(#hgt)"/>
<circle cx="267.8" cy="1128.2" r="8.4" fill="url(#hgt)"/>
<circle cx="247.9" cy="1298.4" r="7.3" fill="url(#hgt)"/>
<circle cx="206.9" cy="1186.8" r="8.1" fill="url(#hgt)"/>
<circle cx="155.6" cy="1022.7" r="8.0" fill="url(#hgt)"/>
<circle cx="129.9" cy="1179.7" r="11.4" fill="url(#hgt)"/>
<circle cx="146.2" cy="1206.8" r="7.9" fill="url(#hgt)"/>
<circle cx="142.8" cy="1044.0" r="12.5" fill="url(#hgt)"/>
<circle cx="196.0" cy="996.0" r="7.3" fill="url(#hgt)"/>
<circle cx="161.6" cy="1162.8" r="11.3" fill="url(#hgt)"/>
<circle cx="93.0" cy="1030.4" r="11.7" fill="url(#hgt)"/>
<circle cx="164.8" cy="1071.4" r="8.8" fill="url(#hgt)"/>
<circle cx="200.2" cy="1096.7" r="9.6" fill="url(#hgt)"/>
<circle cx="154.5" cy="1041.9" r="12.0" fill="url(#hgt)"/>
<circle cx="275.8" cy="1119.5" r="12.7" fill="url(#hgt)"/>
<circle cx="164.0" cy="1276.8" r="10.0" fill="url(#hgt)"/>
<circle cx="109.1" cy="979.4" r="10.6" fill="url(#hgt)"/>
<circle cx="216.9" cy="1286.1" r="7.2" fill="url(#hgt)"/>
<circle cx="212.8" cy="1101.4" r="10.3" fill="url(#hgt)"/>
<circle cx="105.3" cy="1071.4" r="10.4" fill="url(#hgt)"/>
<circle cx="183.1" cy="1250.1" r="13.8" fill="url(#hgt)"/>
<circle cx="116.9" cy="1017.7" r="13.6" fill="url(#hgt)"/>
<circle cx="292.5" cy="1139.7" r="6.9" fill="url(#hgt)"/>
<circle cx="249.7" cy="1050.4" r="9.5" fill="url(#hgt)"/>
<circle cx="263.3" cy="1258.5" r="7.9" fill="url(#hgt)"/>
<circle cx="121.6" cy="1111.3" r="10.4" fill="url(#hgt)"/>
<circle cx="158.9" cy="1016.5" r="8.4" fill="url(#hgt)"/>
<circle cx="235.9" cy="1281.8" r="6.8" fill="url(#hgt)"/>
<circle cx="199.3" cy="1233.9" r="6.8" fill="url(#hgt)"/>
<circle cx="207.7" cy="1162.8" r="11.2" fill="url(#hgt)"/>
<circle cx="141.5" cy="1118.3" r="10.9" fill="url(#hgt)"/>
<circle cx="168.4" cy="1200.1" r="9.9" fill="url(#hgt)"/>
<circle cx="171.3" cy="982.3" r="11.1" fill="url(#hgt)"/>
<circle cx="182.8" cy="1054.9" r="12.2" fill="url(#hgt)"/>
<circle cx="248.4" cy="1131.4" r="7.8" fill="url(#hgt)"/>
<circle cx="179.2" cy="1011.0" r="7.5" fill="url(#hgt)"/>
<circle cx="169.5" cy="1005.7" r="9.8" fill="url(#hgt)"/>
<circle cx="187.5" cy="988.3" r="11.3" fill="url(#hgt)"/>
<circle cx="91.0" cy="1225.7" r="12.3" fill="url(#hgt)"/>
<circle cx="187.8" cy="992.9" r="10.3" fill="url(#hgt)"/>
<circle cx="157.6" cy="1300.2" r="7.5" fill="url(#hgt)"/>
<circle cx="237.6" cy="1253.6" r="8.0" fill="url(#hgt)"/>
<circle cx="293.9" cy="1142.9" r="13.7" fill="url(#hgt)"/>
<circle cx="250.3" cy="1293.2" r="7.0" fill="url(#hgt)"/>
<circle cx="151.6" cy="1233.4" r="7.7" fill="url(#hgt)"/>
<circle cx="274.7" cy="1068.5" r="12.6" fill="url(#hgt)"/>
<circle cx="104.8" cy="1146.4" r="13.4" fill="url(#hgt)"/>
<circle cx="119.4" cy="1064.4" r="10.3" fill="url(#hgt)"/>
<circle cx="144.4" cy="986.9" r="7.9" fill="url(#hgt)"/>
<circle cx="225.7" cy="1281.2" r="7.8" fill="url(#hgt)"/>
<circle cx="192.1" cy="1192.4" r="9.2" fill="url(#hgt)"/>
<circle cx="269.3" cy="1164.6" r="10.9" fill="url(#hgt)"/>
<circle cx="161.3" cy="1247.7" r="8.5" fill="url(#hgt)"/>
<circle cx="153.7" cy="1236.3" r="9.8" fill="url(#hgt)"/>
<circle cx="112.3" cy="1229.1" r="6.9" fill="url(#hgt)"/>
<circle cx="257.4" cy="1061.2" r="11.3" fill="url(#hgt)"/>
<circle cx="222.1" cy="1081.4" r="6.5" fill="url(#hgt)"/>
<circle cx="80.0" cy="1025.5" r="11.1" fill="url(#hgt)"/>
<circle cx="169.9" cy="1150.0" r="13.2" fill="url(#hgt)"/>
<circle cx="102.2" cy="1052.2" r="11.4" fill="url(#hgt)"/>
<circle cx="152.5" cy="1010.8" r="9.2" fill="url(#hgt)"/>
<circle cx="123.0" cy="1174.3" r="10.9" fill="url(#hgt)"/>
<circle cx="118.5" cy="1188.1" r="10.1" fill="url(#hgt)"/>
<circle cx="127.4" cy="1025.5" r="7.2" fill="url(#hgt)"/>
<circle cx="216.4" cy="1272.9" r="12.4" fill="url(#hgt)"/>
<circle cx="163.1" cy="1064.9" r="6.6" fill="url(#hgt)"/>
<circle cx="217.9" cy="1167.0" r="9.1" fill="url(#hgt)"/>
<circle cx="218.0" cy="1126.4" r="13.5" fill="url(#hgt)"/>
<circle cx="237.9" cy="1059.5" r="13.3" fill="url(#hgt)"/>
<circle cx="82.3" cy="1156.5" r="9.5" fill="url(#hgt)"/>
<circle cx="126.0" cy="994.3" r="12.3" fill="url(#hgt)"/>
<circle cx="117.4" cy="1182.7" r="10.3" fill="url(#hgt)"/>
<circle cx="217.1" cy="1253.0" r="7.8" fill="url(#hgt)"/>
<circle cx="142.2" cy="1077.2" r="6.9" fill="url(#hgt)"/>
<circle cx="273.0" cy="1242.6" r="11.9" fill="url(#hgt)"/>
<circle cx="240.5" cy="1133.7" r="12.1" fill="url(#hgt)"/>
<circle cx="174.5" cy="1051.7" r="7.3" fill="url(#hgt)"/>
<circle cx="124.8" cy="987.6" r="9.0" fill="url(#hgt)"/>
<circle cx="241.5" cy="1212.5" r="12.8" fill="url(#hgt)"/>
<circle cx="233.0" cy="1065.5" r="10.7" fill="url(#hgt)"/>
<circle cx="170.8" cy="1244.5" r="10.4" fill="url(#hgt)"/>
<circle cx="132.3" cy="1194.3" r="13.7" fill="url(#hgt)"/>
<circle cx="121.4" cy="1275.9" r="6.6" fill="url(#hgt)"/>
<circle cx="131.1" cy="1055.2" r="12.1" fill="url(#hgt)"/>
<circle cx="285.5" cy="1230.0" r="9.0" fill="url(#hgt)"/>
<circle cx="271.0" cy="1086.9" r="8.3" fill="url(#hgt)"/>
<circle cx="228.7" cy="1202.3" r="13.8" fill="url(#hgt)"/>
<circle cx="178.3" cy="1262.1" r="11.7" fill="url(#hgt)"/>
<circle cx="265.9" cy="1124.1" r="11.9" fill="url(#hgt)"/>
<circle cx="201.1" cy="1079.8" r="8.1" fill="url(#hgt)"/>
<circle cx="212.9" cy="1001.0" r="13.3" fill="url(#hgt)"/>
<circle cx="105.0" cy="983.5" r="7.3" fill="url(#hgt)"/>
<circle cx="104.4" cy="984.1" r="6.8" fill="url(#hgt)"/>
<circle cx="228.7" cy="1191.5" r="11.7" fill="url(#hgt)"/>
<circle cx="205.6" cy="1098.8" r="12.6" fill="url(#hgt)"/>
<circle cx="257.3" cy="1279.7" r="7.0" fill="url(#hgt)"/>
<circle cx="268.2" cy="1287.7" r="13.6" fill="url(#hgt)"/>
<circle cx="96.6" cy="1044.8" r="7.3" fill="url(#hgt)"/>
<circle cx="80.2" cy="1264.8" r="12.6" fill="url(#hgt)"/>
<circle cx="215.5" cy="1257.0" r="11.2" fill="url(#hgt)"/>
<circle cx="137.2" cy="1008.5" r="7.2" fill="url(#hgt)"/>
<circle cx="243.3" cy="1044.6" r="8.9" fill="url(#hgt)"/>
<circle cx="168.0" cy="981.5" r="8.4" fill="url(#hgt)"/>
<circle cx="136.2" cy="1219.6" r="9.3" fill="url(#hgt)"/>
<circle cx="186.0" cy="1266.1" r="11.1" fill="url(#hgt)"/>
<circle cx="170.9" cy="1239.2" r="9.1" fill="url(#hgt)"/>
<circle cx="231.4" cy="1158.6" r="8.1" fill="url(#hgt)"/>
<circle cx="183.3" cy="1247.4" r="7.9" fill="url(#hgt)"/>
<circle cx="184.0" cy="1093.3" r="12.7" fill="url(#hgt)"/>
<circle cx="136.4" cy="1047.9" r="11.7" fill="url(#hgt)"/>
<circle cx="184.8" cy="1012.0" r="11.3" fill="url(#hgt)"/>
<circle cx="90.6" cy="1244.3" r="11.7" fill="url(#hgt)"/>
<circle cx="249.9" cy="1189.5" r="9.2" fill="url(#hgt)"/>
<circle cx="162.9" cy="1109.5" r="13.2" fill="url(#hgt)"/>
<circle cx="91.8" cy="1278.8" r="6.7" fill="url(#hgt)"/>
<circle cx="118.9" cy="1064.5" r="13.3" fill="url(#hgt)"/>
<circle cx="185.5" cy="1104.3" r="13.1" fill="url(#hgt)"/>
<circle cx="125.1" cy="1132.3" r="10.5" fill="url(#hgt)"/>
<circle cx="242.6" cy="1232.3" r="11.3" fill="url(#hgt)"/>
<circle cx="151.0" cy="1086.2" r="7.7" fill="url(#hgt)"/>
<circle cx="262.6" cy="1201.2" r="12.1" fill="url(#hgt)"/>
<circle cx="110.7" cy="1124.7" r="12.3" fill="url(#hgt)"/>
<circle cx="203.1" cy="1017.5" r="10.0" fill="url(#hgt)"/>
<circle cx="272.1" cy="1055.8" r="7.9" fill="url(#hgt)"/>
<circle cx="140.4" cy="1215.3" r="12.8" fill="url(#hgt)"/>
<circle cx="107.3" cy="1027.8" r="8.4" fill="url(#hgt)"/>
<circle cx="146.1" cy="1153.3" r="7.7" fill="url(#hgt)"/>
<circle cx="146.4" cy="1039.2" r="13.8" fill="url(#hgt)"/>
<circle cx="236.8" cy="1009.2" r="13.7" fill="url(#hgt)"/>
<circle cx="95.3" cy="1106.0" r="13.9" fill="url(#hgt)"/>
<circle cx="251.7" cy="1225.6" r="9.8" fill="url(#hgt)"/>
<circle cx="116.7" cy="1192.9" r="7.3" fill="url(#hgt)"/>
<circle cx="119.0" cy="1107.4" r="6.8" fill="url(#hgt)"/>
<circle cx="162.4" cy="1245.4" r="11.7" fill="url(#hgt)"/>
<circle cx="185.3" cy="1191.0" r="10.0" fill="url(#hgt)"/>
<circle cx="104.4" cy="1181.2" r="9.5" fill="url(#hgt)"/>
<circle cx="239.6" cy="1285.5" r="9.7" fill="url(#hgt)"/>
<circle cx="201.9" cy="1231.0" r="9.7" fill="url(#hgt)"/>
<circle cx="124.0" cy="1221.8" r="13.1" fill="url(#hgt)"/>
<circle cx="247.0" cy="1214.2" r="12.9" fill="url(#hgt)"/>
<circle cx="225.7" cy="1194.2" r="9.9" fill="url(#hgt)"/>
<circle cx="143.0" cy="1189.6" r="7.2" fill="url(#hgt)"/>
<circle cx="167.1" cy="1242.4" r="11.8" fill="url(#hgt)"/>
<circle cx="214.4" cy="1060.0" r="9.7" fill="url(#hgt)"/>
<circle cx="175.1" cy="1187.3" r="9.6" fill="url(#hgt)"/>
<circle cx="224.7" cy="1293.1" r="7.9" fill="url(#hgt)"/>
<circle cx="220.1" cy="1241.0" r="9.4" fill="url(#hgt)"/>
<circle cx="108.7" cy="1242.2" r="13.6" fill="url(#hgt)"/>
<circle cx="189.5" cy="1008.9" r="10.8" fill="url(#hgt)"/>
<circle cx="194.5" cy="1220.1" r="10.3" fill="url(#hgt)"/>
<circle cx="216.6" cy="1258.4" r="10.4" fill="url(#hgt)"/>
<circle cx="165.0" cy="1299.2" r="8.1" fill="url(#hgt)"/>
<circle cx="226.8" cy="1108.8" r="12.2" fill="url(#hgt)"/>
<circle cx="152.6" cy="993.7" r="8.6" fill="url(#hgt)"/>
<circle cx="166.8" cy="1118.4" r="11.7" fill="url(#hgt)"/>
<circle cx="151.8" cy="1065.2" r="8.2" fill="url(#hgt)"/>
<circle cx="239.7" cy="1296.4" r="10.5" fill="url(#hgt)"/>
<circle cx="121.8" cy="1249.0" r="9.4" fill="url(#hgt)"/>
<circle cx="120.2" cy="1018.6" r="12.3" fill="url(#hgt)"/>
<circle cx="255.0" cy="1191.7" r="10.0" fill="url(#hgt)"/>
<circle cx="199.2" cy="1051.7" r="13.7" fill="url(#hgt)"/>
<circle cx="152.1" cy="1193.2" r="12.6" fill="url(#hgt)"/>
<circle cx="256.5" cy="1134.7" r="8.7" fill="url(#hgt)"/>
<circle cx="196.1" cy="1017.2" r="12.8" fill="url(#hgt)"/>
<circle cx="152.4" cy="1265.8" r="8.5" fill="url(#hgt)"/>
<circle cx="157.3" cy="1061.2" r="9.7" fill="url(#hgt)"/>
<circle cx="235.2" cy="1070.7" r="8.3" fill="url(#hgt)"/>
<circle cx="140.5" cy="1138.6" r="9.7" fill="url(#hgt)"/>
<circle cx="216.2" cy="1200.2" r="9.2" fill="url(#hgt)"/>
<circle cx="85.3" cy="1258.0" r="13.3" fill="url(#hgt)"/>
<circle cx="259.9" cy="1191.3" r="6.6" fill="url(#hgt)"/>
<circle cx="220.4" cy="1060.0" r="7.3" fill="url(#hgt)"/>
<circle cx="104.6" cy="1054.4" r="12.3" fill="url(#hgt)"/>
<circle cx="150.6" cy="1026.6" r="13.3" fill="url(#hgt)"/>
<circle cx="273.4" cy="1182.8" r="12.4" fill="url(#hgt)"/>
<circle cx="223.2" cy="1280.6" r="12.4" fill="url(#hgt)"/>
<circle cx="228.7" cy="1156.2" r="12.1" fill="url(#hgt)"/>
<circle cx="171.3" cy="1276.8" r="10.7" fill="url(#hgt)"/>
<circle cx="132.1" cy="1054.6" r="7.5" fill="url(#hgt)"/>
<circle cx="183.6" cy="994.3" r="10.0" fill="url(#hgt)"/>
<circle cx="105.0" cy="1142.7" r="10.2" fill="url(#hgt)"/>
<circle cx="194.1" cy="1270.0" r="6.5" fill="url(#hgt)"/>
<circle cx="262.1" cy="1134.7" r="10.7" fill="url(#hgt)"/>
<circle cx="222.5" cy="1262.4" r="9.3" fill="url(#hgt)"/>
<circle cx="166.9" cy="1303.5" r="7.1" fill="url(#hgt)"/>
<circle cx="216.1" cy="1192.3" r="6.7" fill="url(#hgt)"/>
<circle cx="209.9" cy="1208.2" r="13.5" fill="url(#hgt)"/>
<circle cx="187.6" cy="1140.4" r="13.2" fill="url(#hgt)"/>
<circle cx="213.5" cy="1090.3" r="13.0" fill="url(#hgt)"/>
<circle cx="155.0" cy="1136.9" r="10.4" fill="url(#hgt)"/>
<circle cx="246.2" cy="1046.5" r="9.8" fill="url(#hgt)"/>
<circle cx="167.7" cy="1164.2" r="12.7" fill="url(#hgt)"/>
<circle cx="138.5" cy="1258.0" r="9.5" fill="url(#hgt)"/>
<circle cx="186.0" cy="1067.4" r="10.3" fill="url(#hgt)"/>
<circle cx="251.1" cy="1087.7" r="8.9" fill="url(#hgt)"/>
<circle cx="139.9" cy="1175.3" r="11.3" fill="url(#hgt)"/>
<circle cx="235.4" cy="1277.8" r="10.6" fill="url(#hgt)"/>
<circle cx="220.8" cy="1244.7" r="13.3" fill="url(#hgt)"/>
<circle cx="210.4" cy="1185.6" r="11.2" fill="url(#hgt)"/>
<circle cx="229.5" cy="1178.7" r="11.6" fill="url(#hgt)"/>
<circle cx="120.3" cy="1202.9" r="9.9" fill="url(#hgt)"/>
<circle cx="113.3" cy="987.0" r="12.3" fill="url(#hgt)"/>
<circle cx="278.6" cy="1199.0" r="9.3" fill="url(#hgt)"/>
<circle cx="258.0" cy="1243.8" r="10.7" fill="url(#hgt)"/>
<circle cx="130.6" cy="1077.8" r="9.7" fill="url(#hgt)"/>
<circle cx="144.2" cy="1121.9" r="11.3" fill="url(#hgt)"/>
<circle cx="200.4" cy="987.8" r="7.4" fill="url(#hgt)"/>
<circle cx="255.2" cy="1171.5" r="13.4" fill="url(#hgt)"/>
<circle cx="159.7" cy="1177.2" r="13.5" fill="url(#hgt)"/>
<circle cx="165.4" cy="1009.3" r="11.3" fill="url(#hgt)"/>
<circle cx="120.3" cy="1026.3" r="6.6" fill="url(#hgt)"/>
<circle cx="92.3" cy="1272.3" r="7.5" fill="url(#hgt)"/>
<circle cx="127.1" cy="1225.7" r="7.9" fill="url(#hgt)"/>
<circle cx="233.4" cy="1267.5" r="12.0" fill="url(#hgt)"/>
<circle cx="91.4" cy="1189.7" r="11.8" fill="url(#hgt)"/>
<circle cx="176.3" cy="1293.8" r="8.4" fill="url(#hgt)"/>
<circle cx="219.2" cy="1254.4" r="7.1" fill="url(#hgt)"/>
<circle cx="142.6" cy="1224.3" r="7.7" fill="url(#hgt)"/>
<circle cx="266.6" cy="1141.0" r="6.9" fill="url(#hgt)"/>
<circle cx="155.3" cy="1171.3" r="9.8" fill="url(#hgt)"/>
<circle cx="225.1" cy="1024.0" r="12.5" fill="url(#hgt)"/>
<circle cx="154.4" cy="1195.3" r="11.2" fill="url(#hgt)"/>
<circle cx="166.7" cy="1106.5" r="12.4" fill="url(#hgt)"/>
<circle cx="285.6" cy="1243.2" r="10.8" fill="url(#hgt)"/>
<circle cx="138.4" cy="995.1" r="13.8" fill="url(#hgt)"/>
<circle cx="231.1" cy="1257.9" r="9.0" fill="url(#hgt)"/>
<circle cx="209.1" cy="1309.3" r="12.7" fill="url(#hgt)"/>
<circle cx="208.0" cy="1080.1" r="9.7" fill="url(#hgt)"/>
<circle cx="272.8" cy="1103.4" r="11.6" fill="url(#hgt)"/>
<circle cx="208.2" cy="1281.4" r="12.6" fill="url(#hgt)"/>
<circle cx="131.7" cy="1119.1" r="10.9" fill="url(#hgt)"/>
<circle cx="256.5" cy="1278.4" r="6.8" fill="url(#hgt)"/>
<circle cx="260.4" cy="1252.5" r="13.0" fill="url(#hgt)"/>
<circle cx="201.4" cy="1068.1" r="12.9" fill="url(#hgt)"/>
<circle cx="254.5" cy="1208.9" r="13.4" fill="url(#hgt)"/>
<circle cx="150.7" cy="1003.5" r="10.7" fill="url(#hgt)"/>
<circle cx="252.3" cy="1043.0" r="12.1" fill="url(#hgt)"/>
<circle cx="209.3" cy="1206.5" r="10.0" fill="url(#hgt)"/>
<circle cx="119.0" cy="1061.6" r="12.1" fill="url(#hgt)"/>
<circle cx="251.0" cy="1131.8" r="7.2" fill="url(#hgt)"/>
<circle cx="254.4" cy="1238.9" r="8.2" fill="url(#hgt)"/>
<circle cx="203.2" cy="1281.7" r="13.1" fill="url(#hgt)"/>
<circle cx="190.1" cy="1137.6" r="10.9" fill="url(#hgt)"/>
<circle cx="115.1" cy="1040.2" r="7.9" fill="url(#hgt)"/>
<circle cx="230.6" cy="1098.6" r="10.7" fill="url(#hgt)"/>
<circle cx="163.2" cy="1151.6" r="7.6" fill="url(#hgt)"/>
<circle cx="156.8" cy="1010.7" r="11.2" fill="url(#hgt)"/>
<circle cx="207.1" cy="1092.5" r="10.4" fill="url(#hgt)"/>
<circle cx="182.1" cy="1168.7" r="8.5" fill="url(#hgt)"/>
<circle cx="248.2" cy="1120.3" r="13.6" fill="url(#hgt)"/>
<circle cx="245.5" cy="1254.9" r="13.7" fill="url(#hgt)"/>
<circle cx="129.7" cy="987.3" r="8.0" fill="url(#hgt)"/>
<circle cx="113.2" cy="1003.0" r="6.9" fill="url(#hgt)"/>
<circle cx="198.1" cy="1272.7" r="9.9" fill="url(#hgt)"/>
<circle cx="86.9" cy="1179.3" r="9.5" fill="url(#hgt)"/>
<circle cx="130.4" cy="1167.7" r="11.3" fill="url(#hgt)"/>
<circle cx="161.1" cy="1127.9" r="7.7" fill="url(#hgt)"/>
<circle cx="122.4" cy="987.5" r="8.4" fill="url(#hgt)"/>
<circle cx="151.8" cy="1283.7" r="13.3" fill="url(#hgt)"/>
<circle cx="249.8" cy="1217.5" r="11.4" fill="url(#hgt)"/>
<circle cx="105.1" cy="1233.0" r="13.5" fill="url(#hgt)"/>
<circle cx="225.1" cy="1076.7" r="10.9" fill="url(#hgt)"/>
<circle cx="145.5" cy="1062.4" r="7.4" fill="url(#hgt)"/>
<circle cx="181.0" cy="1032.1" r="8.3" fill="url(#hgt)"/>
<circle cx="104.7" cy="1206.5" r="6.6" fill="url(#hgt)"/>
<circle cx="234.2" cy="1041.2" r="6.8" fill="url(#hgt)"/>
<circle cx="173.3" cy="1007.5" r="13.5" fill="url(#hgt)"/>
<circle cx="262.4" cy="1189.6" r="9.9" fill="url(#hgt)"/>
<circle cx="149.1" cy="1256.4" r="10.1" fill="url(#hgt)"/>
<circle cx="214.1" cy="1023.2" r="8.2" fill="url(#hgt)"/>
<circle cx="85.2" cy="1218.9" r="10.7" fill="url(#hgt)"/>
<circle cx="105.0" cy="1272.7" r="8.5" fill="url(#hgt)"/>
<circle cx="165.3" cy="1027.7" r="8.5" fill="url(#hgt)"/>
<circle cx="261.8" cy="1088.9" r="7.8" fill="url(#hgt)"/>
<circle cx="183.2" cy="1083.3" r="13.3" fill="url(#hgt)"/>
<circle cx="223.2" cy="1046.7" r="10.1" fill="url(#hgt)"/>
<circle cx="137.0" cy="1062.6" r="8.0" fill="url(#hgt)"/>
<circle cx="94.4" cy="1073.5" r="13.2" fill="url(#hgt)"/>
<circle cx="85.4" cy="1223.3" r="8.7" fill="url(#hgt)"/>
<circle cx="254.5" cy="1091.1" r="7.6" fill="url(#hgt)"/>
<circle cx="191.2" cy="1038.0" r="9.8" fill="url(#hgt)"/>
<circle cx="201.3" cy="1021.6" r="7.9" fill="url(#hgt)"/>
<circle cx="246.2" cy="1218.2" r="8.0" fill="url(#hgt)"/>
<circle cx="90.3" cy="1004.3" r="11.1" fill="url(#hgt)"/>
<circle cx="184.2" cy="1068.2" r="8.0" fill="url(#hgt)"/>
<circle cx="210.6" cy="1216.8" r="12.6" fill="url(#hgt)"/>
<circle cx="203.9" cy="1043.6" r="7.0" fill="url(#hgt)"/>
<circle cx="237.7" cy="1114.2" r="11.9" fill="url(#hgt)"/>
<circle cx="84.9" cy="1252.1" r="9.0" fill="url(#hgt)"/>
<circle cx="262.3" cy="1270.6" r="10.2" fill="url(#hgt)"/>
<circle cx="179.9" cy="1273.1" r="8.5" fill="url(#hgt)"/>
<circle cx="114.4" cy="1259.3" r="9.3" fill="url(#hgt)"/>
<circle cx="109.3" cy="1101.5" r="11.0" fill="url(#hgt)"/>
<circle cx="173.0" cy="1151.0" r="7.4" fill="url(#hgt)"/>
<circle cx="233.6" cy="1254.1" r="13.0" fill="url(#hgt)"/>
<circle cx="144.8" cy="1218.0" r="9.4" fill="url(#hgt)"/>
<circle cx="184.0" cy="1150.2" r="10.5" fill="url(#hgt)"/>
<circle cx="193.6" cy="981.4" r="13.8" fill="url(#hgt)"/>
<circle cx="122.9" cy="1036.8" r="7.3" fill="url(#hgt)"/>
<circle cx="128.9" cy="1254.3" r="6.7" fill="url(#hgt)"/>
<circle cx="94.2" cy="1213.8" r="8.0" fill="url(#hgt)"/>
<circle cx="202.5" cy="1153.5" r="11.8" fill="url(#hgt)"/>
<circle cx="95.6" cy="1272.3" r="11.9" fill="url(#hgt)"/>
<circle cx="82.6" cy="1016.5" r="10.2" fill="url(#hgt)"/>
<circle cx="185.4" cy="1070.1" r="7.4" fill="url(#hgt)"/>
<circle cx="163.9" cy="1021.2" r="10.9" fill="url(#hgt)"/>
<circle cx="201.6" cy="1230.2" r="7.7" fill="url(#hgt)"/>
<circle cx="258.7" cy="1295.6" r="9.4" fill="url(#hgt)"/>
<circle cx="167.3" cy="1262.1" r="10.4" fill="url(#hgt)"/>
<circle cx="161.7" cy="1296.9" r="12.3" fill="url(#hgt)"/>
<circle cx="148.8" cy="1056.7" r="9.0" fill="url(#hgt)"/>
<circle cx="253.9" cy="1287.1" r="12.6" fill="url(#hgt)"/>
<circle cx="189.1" cy="1302.6" r="13.5" fill="url(#hgt)"/>
<circle cx="128.6" cy="1119.0" r="11.2" fill="url(#hgt)"/>
<circle cx="154.6" cy="1156.2" r="7.0" fill="url(#hgt)"/>
<circle cx="170.1" cy="1147.3" r="6.7" fill="url(#hgt)"/>
<circle cx="247.6" cy="1295.4" r="11.2" fill="url(#hgt)"/>
<circle cx="255.0" cy="1277.4" r="13.1" fill="url(#hgt)"/>
<circle cx="132.4" cy="1206.8" r="8.6" fill="url(#hgt)"/>
<circle cx="194.7" cy="1291.1" r="11.2" fill="url(#hgt)"/>
<circle cx="128.9" cy="1152.6" r="9.8" fill="url(#hgt)"/>
<circle cx="141.3" cy="1196.2" r="7.4" fill="url(#hgt)"/>
<circle cx="206.5" cy="1302.0" r="10.4" fill="url(#hgt)"/>
</g>
<g filter="url(#surf)">
<polygon points="355.3,998.2 369.2,990.9 398.5,996.3 422.8,994.4 450.7,992.5 475.0,992.5 488.5,1005.7 495.7,1025.4 495.7,1047.0 520.0,1058.3 529.0,1070.5 533.5,1092.2 529.0,1115.7 540.7,1137.3 544.3,1148.6 532.2,1164.5 525.4,1191.8 538.9,1207.8 538.9,1228.5 532.2,1264.2 525.4,1282.0 506.2,1297.1 488.5,1307.4 471.4,1306.0 436.9,1298.8 407.3,1295.2 400.3,1282.0 376.0,1282.0 348.1,1267.9 346.7,1255.3 355.3,1240.7 351.7,1209.7 351.7,1173.9 353.5,1137.3 351.7,1123.2 351.7,1092.2 358.9,1083.3 357.1,1070.5 346.7,1043.3 348.1,1029.2 355.3,1010.9" fill="#000" fill-opacity="0.42"/>
<circle cx="435.5" cy="1170.1" r="13.4" fill="url(#hgt)"/>
<circle cx="438.5" cy="1152.3" r="10.9" fill="url(#hgt)"/>
<circle cx="375.1" cy="1153.7" r="11.2" fill="url(#hgt)"/>
<circle cx="401.8" cy="1009.4" r="12.6" fill="url(#hgt)"/>
<circle cx="480.9" cy="1189.3" r="7.7" fill="url(#hgt)"/>
<circle cx="346.8" cy="1043.5" r="8.3" fill="url(#hgt)"/>
<circle cx="432.8" cy="1267.0" r="10.4" fill="url(#hgt)"/>
<circle cx="477.8" cy="1149.6" r="11.5" fill="url(#hgt)"/>
<circle cx="436.6" cy="1073.6" r="14.0" fill="url(#hgt)"/>
<circle cx="493.1" cy="1086.3" r="8.2" fill="url(#hgt)"/>
<circle cx="398.6" cy="1002.4" r="12.2" fill="url(#hgt)"/>
<circle cx="423.7" cy="1268.4" r="9.4" fill="url(#hgt)"/>
<circle cx="538.8" cy="1139.4" r="13.9" fill="url(#hgt)"/>
<circle cx="423.1" cy="1003.3" r="11.2" fill="url(#hgt)"/>
<circle cx="509.0" cy="1070.8" r="7.2" fill="url(#hgt)"/>
<circle cx="389.0" cy="1012.9" r="6.9" fill="url(#hgt)"/>
<circle cx="459.6" cy="1131.6" r="7.9" fill="url(#hgt)"/>
<circle cx="498.5" cy="1023.2" r="11.3" fill="url(#hgt)"/>
<circle cx="359.7" cy="1122.5" r="8.1" fill="url(#hgt)"/>
<circle cx="514.6" cy="1082.5" r="13.1" fill="url(#hgt)"/>
<circle cx="380.9" cy="1113.4" r="12.9" fill="url(#hgt)"/>
<circle cx="478.2" cy="1012.7" r="13.9" fill="url(#hgt)"/>
<circle cx="381.5" cy="1066.8" r="12.3" fill="url(#hgt)"/>
<circle cx="407.6" cy="1079.9" r="7.1" fill="url(#hgt)"/>
<circle cx="353.7" cy="1178.0" r="8.3" fill="url(#hgt)"/>
<circle cx="469.0" cy="1105.7" r="9.9" fill="url(#hgt)"/>
<circle cx="549.8" cy="1144.1" r="10.8" fill="url(#hgt)"/>
<circle cx="368.2" cy="1289.6" r="12.6" fill="url(#hgt)"/>
<circle cx="389.7" cy="1043.3" r="12.0" fill="url(#hgt)"/>
<circle cx="469.6" cy="1122.7" r="7.3" fill="url(#hgt)"/>
<circle cx="387.2" cy="1219.8" r="8.4" fill="url(#hgt)"/>
<circle cx="519.2" cy="1182.7" r="8.7" fill="url(#hgt)"/>
<circle cx="373.0" cy="1225.2" r="7.0" fill="url(#hgt)"/>
<circle cx="384.9" cy="1170.0" r="12.9" fill="url(#hgt)"/>
<circle cx="472.0" cy="1074.3" r="13.4" fill="url(#hgt)"/>
<circle cx="394.1" cy="1131.0" r="7.0" fill="url(#hgt)"/>
<circle cx="373.2" cy="1104.7" r="10.8" fill="url(#hgt)"/>
<circle cx="363.1" cy="1102.4" r="13.2" fill="url(#hgt)"/>
<circle cx="489.3" cy="1178.6" r="7.6" fill="url(#hgt)"/>
<circle cx="538.7" cy="1218.5" r="13.7" fill="url(#hgt)"/>
<circle cx="442.2" cy="1228.6" r="8.9" fill="url(#hgt)"/>
<circle cx="456.6" cy="1230.9" r="13.3" fill="url(#hgt)"/>
<circle cx="499.7" cy="1219.5" r="12.4" fill="url(#hgt)"/>
<circle cx="539.8" cy="1098.9" r="11.6" fill="url(#hgt)"/>
<circle cx="536.6" cy="1276.8" r="9.6" fill="url(#hgt)"/>
<circle cx="511.7" cy="1274.2" r="10.8" fill="url(#hgt)"/>
<circle cx="474.4" cy="1109.3" r="10.9" fill="url(#hgt)"/>
<circle cx="470.8" cy="1005.8" r="11.3" fill="url(#hgt)"/>
<circle cx="497.7" cy="1111.4" r="12.0" fill="url(#hgt)"/>
<circle cx="464.5" cy="1129.3" r="12.8" fill="url(#hgt)"/>
<circle cx="352.3" cy="1235.4" r="6.7" fill="url(#hgt)"/>
<circle cx="469.0" cy="1143.1" r="8.2" fill="url(#hgt)"/>
<circle cx="490.9" cy="1148.7" r="11.1" fill="url(#hgt)"/>
<circle cx="486.4" cy="1047.7" r="7.8" fill="url(#hgt)"/>
<circle cx="537.7" cy="1204.5" r="9.8" fill="url(#hgt)"/>
<circle cx="534.6" cy="1090.3" r="11.5" fill="url(#hgt)"/>
<circle cx="378.2" cy="1126.0" r="12.5" fill="url(#hgt)"/>
<circle cx="420.1" cy="1178.1" r="8.9" fill="url(#hgt)"/>
<circle cx="364.1" cy="1148.4" r="12.8" fill="url(#hgt)"/>
<circle cx="524.9" cy="1222.0" r="13.6" fill="url(#hgt)"/>
<circle cx="395.8" cy="1036.3" r="9.9" fill="url(#hgt)"/>
<circle cx="395.5" cy="1051.7" r="9.6" fill="url(#hgt)"/>
<circle cx="474.6" cy="1147.6" r="8.9" fill="url(#hgt)"/>
<circle cx="435.5" cy="1003.9" r="6.7" fill="url(#hgt)"/>
<circle cx="493.3" cy="1173.8" r="8.8" fill="url(#hgt)"/>
<circle cx="364.1" cy="1134.2" r="6.7" fill="url(#hgt)"/>
<circle cx="520.6" cy="1059.7" r="7.6" fill="url(#hgt)"/>
<circle cx="344.0" cy="1193.9" r="9.8" fill="url(#hgt)"/>
<circle cx="475.5" cy="1202.8" r="12.6" fill="url(#hgt)"/>
<circle cx="549.6" cy="1212.9" r="8.0" fill="url(#hgt)"/>
<circle cx="440.6" cy="1039.5" r="6.6" fill="url(#hgt)"/>
<circle cx="439.9" cy="1223.0" r="7.8" fill="url(#hgt)"/>
<circle cx="394.8" cy="1096.8" r="11.7" fill="url(#hgt)"/>
<circle cx="450.8" cy="1188.9" r="12.2" fill="url(#hgt)"/>
<circle cx="422.2" cy="1249.7" r="13.3" fill="url(#hgt)"/>
<circle cx="496.4" cy="1022.8" r="9.9" fill="url(#hgt)"/>
<circle cx="474.5" cy="1290.1" r="9.3" fill="url(#hgt)"/>
<circle cx="461.7" cy="1279.6" r="12.5" fill="url(#hgt)"/>
<circle cx="546.4" cy="1137.2" r="11.4" fill="url(#hgt)"/>
<circle cx="379.6" cy="1225.7" r="12.6" fill="url(#hgt)"/>
<circle cx="478.1" cy="1224.2" r="8.1" fill="url(#hgt)"/>
<circle cx="511.8" cy="1088.1" r="13.3" fill="url(#hgt)"/>
<circle cx="526.5" cy="1097.7" r="7.1" fill="url(#hgt)"/>
<circle cx="432.9" cy="1166.9" r="12.3" fill="url(#hgt)"/>
<circle cx="443.4" cy="988.0" r="12.6" fill="url(#hgt)"/>
<circle cx="347.9" cy="1252.4" r="7.8" fill="url(#hgt)"/>
<circle cx="409.0" cy="1248.3" r="7.6" fill="url(#hgt)"/>
<circle cx="366.9" cy="1155.3" r="11.9" fill="url(#hgt)"/>
<circle cx="522.9" cy="1214.5" r="13.6" fill="url(#hgt)"/>
<circle cx="444.5" cy="1303.6" r="7.1" fill="url(#hgt)"/>
<circle cx="383.4" cy="1158.8" r="8.7" fill="url(#hgt)"/>
<circle cx="497.8" cy="1197.2" r="10.4" fill="url(#hgt)"/>
<circle cx="523.7" cy="1170.2" r="8.8" fill="url(#hgt)"/>
<circle cx="419.4" cy="1268.0" r="13.3" fill="url(#hgt)"/>
<circle cx="380.4" cy="1269.9" r="13.8" fill="url(#hgt)"/>
<circle cx="451.7" cy="1174.7" r="8.0" fill="url(#hgt)"/>
<circle cx="454.3" cy="1150.7" r="11.0" fill="url(#hgt)"/>
<circle cx="449.8" cy="1115.6" r="12.5" fill="url(#hgt)"/>
<circle cx="460.4" cy="1146.6" r="11.7" fill="url(#hgt)"/>
<circle cx="348.3" cy="1162.9" r="9.6" fill="url(#hgt)"/>
<circle cx="394.1" cy="1140.5" r="7.5" fill="url(#hgt)"/>
<circle cx="431.2" cy="1257.8" r="13.3" fill="url(#hgt)"/>
<circle cx="440.9" cy="1087.0" r="7.9" fill="url(#hgt)"/>
<circle cx="472.8" cy="1295.4" r="7.5" fill="url(#hgt)"/>
<circle cx="377.2" cy="1056.2" r="11.7" fill="url(#hgt)"/>
<circle cx="406.1" cy="1100.1" r="11.1" fill="url(#hgt)"/>
<circle cx="357.1" cy="1228.8" r="7.4" fill="url(#hgt)"/>
<circle cx="448.6" cy="1064.2" r="8.0" fill="url(#hgt)"/>
<circle cx="453.0" cy="1128.0" r="9.3" fill="url(#hgt)"/>
<circle cx="426.7" cy="1159.7" r="7.7" fill="url(#hgt)"/>
<circle cx="379.5" cy="1194.7" r="11.3" fill="url(#hgt)"/>
<circle cx="452.9" cy="1270.0" r="11.1" fill="url(#hgt)"/>
<circle cx="526.7" cy="1058.0" r="12.1" fill="url(#hgt)"/>
<circle cx="516.3" cy="1287.6" r="8.9" fill="url(#hgt)"/>
<circle cx="404.5" cy="1294.5" r="8.1" fill="url(#hgt)"/>
<circle cx="363.6" cy="1060.3" r="11.9" fill="url(#hgt)"/>
<circle cx="391.9" cy="1011.5" r="12.7" fill="url(#hgt)"/>
<circle cx="428.5" cy="1249.0" r="7.4" fill="url(#hgt)"/>
<circle cx="424.3" cy="1213.1" r="6.6" fill="url(#hgt)"/>
<circle cx="378.7" cy="1212.2" r="13.3" fill="url(#hgt)"/>
<circle cx="447.5" cy="1238.1" r="10.3" fill="url(#hgt)"/>
<circle cx="488.1" cy="1043.1" r="7.0" fill="url(#hgt)"/>
<circle cx="357.4" cy="991.1" r="10.6" fill="url(#hgt)"/>
<circle cx="449.5" cy="1173.2" r="7.6" fill="url(#hgt)"/>
<circle cx="375.0" cy="1048.2" r="12.8" fill="url(#hgt)"/>
<circle cx="354.9" cy="999.5" r="13.6" fill="url(#hgt)"/>
<circle cx="437.6" cy="1240.4" r="9.0" fill="url(#hgt)"/>
<circle cx="438.7" cy="1154.9" r="9.7" fill="url(#hgt)"/>
<circle cx="491.6" cy="1267.6" r="7.9" fill="url(#hgt)"/>
<circle cx="435.8" cy="1231.7" r="9.5" fill="url(#hgt)"/>
<circle cx="377.4" cy="1034.9" r="10.3" fill="url(#hgt)"/>
<circle cx="514.3" cy="1219.8" r="13.0" fill="url(#hgt)"/>
<circle cx="475.4" cy="1116.9" r="11.0" fill="url(#hgt)"/>
<circle cx="515.0" cy="1066.8" r="13.3" fill="url(#hgt)"/>
<circle cx="501.3" cy="1244.9" r="12.6" fill="url(#hgt)"/>
<circle cx="424.9" cy="1285.5" r="13.1" fill="url(#hgt)"/>
<circle cx="490.1" cy="1241.2" r="12.2" fill="url(#hgt)"/>
<circle cx="424.9" cy="1225.9" r="7.0" fill="url(#hgt)"/>
<circle cx="410.5" cy="1139.0" r="6.6" fill="url(#hgt)"/>
<circle cx="413.6" cy="1197.2" r="11.2" fill="url(#hgt)"/>
<circle cx="483.7" cy="1094.1" r="11.4" fill="url(#hgt)"/>
<circle cx="461.9" cy="1161.0" r="9.4" fill="url(#hgt)"/>
<circle cx="491.6" cy="1239.3" r="13.9" fill="url(#hgt)"/>
<circle cx="500.1" cy="1066.2" r="9.5" fill="url(#hgt)"/>
<circle cx="344.8" cy="1045.3" r="9.3" fill="url(#hgt)"/>
<circle cx="355.6" cy="1064.3" r="13.3" fill="url(#hgt)"/>
<circle cx="457.5" cy="1152.3" r="13.8" fill="url(#hgt)"/>
<circle cx="477.3" cy="1255.7" r="7.1" fill="url(#hgt)"/>
<circle cx="468.2" cy="1238.5" r="6.8" fill="url(#hgt)"/>
<circle cx="439.8" cy="1036.3" r="10.2" fill="url(#hgt)"/>
<circle cx="471.3" cy="998.4" r="13.6" fill="url(#hgt)"/>
<circle cx="428.3" cy="1158.8" r="11.0" fill="url(#hgt)"/>
<circle cx="415.9" cy="1076.2" r="11.4" fill="url(#hgt)"/>
<circle cx="459.9" cy="1075.5" r="11.9" fill="url(#hgt)"/>
<circle cx="388.7" cy="993.0" r="7.7" fill="url(#hgt)"/>
<circle cx="503.6" cy="1111.9" r="13.2" fill="url(#hgt)"/>
<circle cx="430.3" cy="1142.0" r="13.8" fill="url(#hgt)"/>
<circle cx="388.4" cy="1157.7" r="13.5" fill="url(#hgt)"/>
<circle cx="496.4" cy="1138.8" r="13.8" fill="url(#hgt)"/>
<circle cx="517.6" cy="1185.2" r="7.4" fill="url(#hgt)"/>
<circle cx="474.2" cy="1134.5" r="8.0" fill="url(#hgt)"/>
<circle cx="345.1" cy="1159.3" r="7.4" fill="url(#hgt)"/>
<circle cx="433.3" cy="1207.2" r="9.9" fill="url(#hgt)"/>
<circle cx="392.5" cy="1177.8" r="9.6" fill="url(#hgt)"/>
<circle cx="508.9" cy="1160.2" r="14.0" fill="url(#hgt)"/>
<circle cx="548.3" cy="1229.9" r="8.3" fill="url(#hgt)"/>
<circle cx="359.1" cy="1284.2" r="12.4" fill="url(#hgt)"/>
<circle cx="474.4" cy="1101.4" r="8.5" fill="url(#hgt)"/>
<circle cx="487.9" cy="1171.9" r="10.9" fill="url(#hgt)"/>
<circle cx="476.2" cy="1236.5" r="7.9" fill="url(#hgt)"/>
<circle cx="394.5" cy="1124.0" r="11.2" fill="url(#hgt)"/>
<circle cx="356.5" cy="1163.9" r="7.0" fill="url(#hgt)"/>
<circle cx="352.9" cy="1210.1" r="10.6" fill="url(#hgt)"/>
<circle cx="475.8" cy="1106.2" r="10.1" fill="url(#hgt)"/>
<circle cx="380.9" cy="1096.1" r="12.1" fill="url(#hgt)"/>
<circle cx="360.4" cy="1255.6" r="11.2" fill="url(#hgt)"/>
<circle cx="506.8" cy="1051.4" r="9.7" fill="url(#hgt)"/>
<circle cx="391.6" cy="1255.8" r="9.3" fill="url(#hgt)"/>
<circle cx="406.8" cy="1166.3" r="12.1" fill="url(#hgt)"/>
<circle cx="541.1" cy="1124.9" r="9.3" fill="url(#hgt)"/>
<circle cx="355.3" cy="1278.2" r="7.1" fill="url(#hgt)"/>
<circle cx="352.1" cy="1171.7" r="10.1" fill="url(#hgt)"/>
<circle cx="488.0" cy="1080.7" r="12.3" fill="url(#hgt)"/>
<circle cx="350.6" cy="1051.4" r="11.5" fill="url(#hgt)"/>
<circle cx="351.8" cy="1082.4" r="11.9" fill="url(#hgt)"/>
<circle cx="490.0" cy="1075.3" r="7.6" fill="url(#hgt)"/>
<circle cx="414.1" cy="1227.1" r="9.2" fill="url(#hgt)"/>
<circle cx="359.9" cy="1221.4" r="10.8" fill="url(#hgt)"/>
<circle cx="539.5" cy="1128.4" r="12.5" fill="url(#hgt)"/>
<circle cx="402.2" cy="1087.1" r="9.5" fill="url(#hgt)"/>
<circle cx="389.4" cy="1102.3" r="9.2" fill="url(#hgt)"/>
<circle cx="415.4" cy="1113.9" r="9.4" fill="url(#hgt)"/>
<circle cx="377.4" cy="1171.5" r="12.5" fill="url(#hgt)"/>
<circle cx="455.4" cy="1264.9" r="10.7" fill="url(#hgt)"/>
<circle cx="373.2" cy="1238.4" r="13.1" fill="url(#hgt)"/>
<circle cx="449.7" cy="1164.8" r="10.8" fill="url(#hgt)"/>
<circle cx="456.8" cy="1248.4" r="7.1" fill="url(#hgt)"/>
<circle cx="351.8" cy="1230.9" r="13.2" fill="url(#hgt)"/>
<circle cx="352.5" cy="1195.6" r="7.6" fill="url(#hgt)"/>
<circle cx="501.7" cy="1200.7" r="8.3" fill="url(#hgt)"/>
<circle cx="383.1" cy="1240.6" r="10.4" fill="url(#hgt)"/>
<circle cx="505.9" cy="1113.5" r="9.0" fill="url(#hgt)"/>
<circle cx="444.8" cy="1162.4" r="11.9" fill="url(#hgt)"/>
<circle cx="493.2" cy="1291.9" r="9.6" fill="url(#hgt)"/>
<circle cx="519.8" cy="1206.8" r="12.9" fill="url(#hgt)"/>
<circle cx="515.2" cy="1264.1" r="13.2" fill="url(#hgt)"/>
<circle cx="451.6" cy="1221.6" r="12.5" fill="url(#hgt)"/>
<circle cx="428.5" cy="1122.4" r="7.6" fill="url(#hgt)"/>
<circle cx="418.1" cy="1035.8" r="8.0" fill="url(#hgt)"/>
<circle cx="429.3" cy="1078.4" r="13.8" fill="url(#hgt)"/>
<circle cx="346.8" cy="1084.0" r="7.4" fill="url(#hgt)"/>
<circle cx="479.6" cy="1244.2" r="7.8" fill="url(#hgt)"/>
<circle cx="347.5" cy="1135.5" r="10.9" fill="url(#hgt)"/>
<circle cx="357.9" cy="1041.5" r="8.1" fill="url(#hgt)"/>
<circle cx="386.5" cy="1224.1" r="11.0" fill="url(#hgt)"/>
<circle cx="383.9" cy="1041.7" r="8.6" fill="url(#hgt)"/>
<circle cx="372.3" cy="1237.9" r="8.8" fill="url(#hgt)"/>
<circle cx="457.1" cy="1258.3" r="10.1" fill="url(#hgt)"/>
<circle cx="392.2" cy="1282.4" r="13.4" fill="url(#hgt)"/>
<circle cx="410.6" cy="1165.9" r="13.7" fill="url(#hgt)"/>
<circle cx="442.3" cy="1054.0" r="6.9" fill="url(#hgt)"/>
<circle cx="420.3" cy="1159.1" r="10.4" fill="url(#hgt)"/>
<circle cx="481.7" cy="1059.7" r="6.6" fill="url(#hgt)"/>
<circle cx="440.0" cy="1105.6" r="12.5" fill="url(#hgt)"/>
<circle cx="494.3" cy="1186.0" r="7.7" fill="url(#hgt)"/>
<circle cx="368.8" cy="1088.6" r="8.4" fill="url(#hgt)"/>
<circle cx="529.5" cy="1155.2" r="11.3" fill="url(#hgt)"/>
<circle cx="454.0" cy="1029.9" r="12.3" fill="url(#hgt)"/>
<circle cx="524.3" cy="1260.0" r="7.1" fill="url(#hgt)"/>
<circle cx="394.3" cy="1223.9" r="7.2" fill="url(#hgt)"/>
<circle cx="441.7" cy="1138.9" r="13.7" fill="url(#hgt)"/>
<circle cx="465.7" cy="1272.1" r="8.8" fill="url(#hgt)"/>
<circle cx="511.5" cy="1121.2" r="13.4" fill="url(#hgt)"/>
<circle cx="353.9" cy="1261.5" r="8.1" fill="url(#hgt)"/>
<circle cx="456.0" cy="1158.4" r="7.7" fill="url(#hgt)"/>
<circle cx="521.1" cy="1085.0" r="8.8" fill="url(#hgt)"/>
<circle cx="350.6" cy="1083.1" r="10.0" fill="url(#hgt)"/>
<circle cx="494.7" cy="1101.6" r="11.7" fill="url(#hgt)"/>
<circle cx="357.3" cy="1113.4" r="10.0" fill="url(#hgt)"/>
<circle cx="418.5" cy="1221.6" r="8.3" fill="url(#hgt)"/>
<circle cx="460.7" cy="1135.3" r="6.6" fill="url(#hgt)"/>
<circle cx="380.0" cy="1189.4" r="8.7" fill="url(#hgt)"/>
<circle cx="418.2" cy="1163.3" r="8.7" fill="url(#hgt)"/>
<circle cx="409.5" cy="1112.7" r="11.5" fill="url(#hgt)"/>
<circle cx="391.3" cy="1046.8" r="12.0" fill="url(#hgt)"/>
<circle cx="407.7" cy="1302.2" r="10.7" fill="url(#hgt)"/>
<circle cx="496.7" cy="1092.0" r="12.7" fill="url(#hgt)"/>
<circle cx="354.2" cy="1026.6" r="7.2" fill="url(#hgt)"/>
<circle cx="486.3" cy="1221.0" r="7.8" fill="url(#hgt)"/>
<circle cx="424.2" cy="1265.1" r="10.9" fill="url(#hgt)"/>
<circle cx="353.7" cy="1055.9" r="7.7" fill="url(#hgt)"/>
<circle cx="361.4" cy="1117.7" r="7.0" fill="url(#hgt)"/>
<circle cx="541.1" cy="1124.6" r="10.3" fill="url(#hgt)"/>
<circle cx="479.4" cy="1241.1" r="12.7" fill="url(#hgt)"/>
<circle cx="420.5" cy="1091.9" r="9.6" fill="url(#hgt)"/>
<circle cx="491.3" cy="1314.8" r="12.4" fill="url(#hgt)"/>
<circle cx="482.3" cy="1186.9" r="6.6" fill="url(#hgt)"/>
<circle cx="408.1" cy="1095.6" r="11.4" fill="url(#hgt)"/>
<circle cx="357.4" cy="1107.7" r="10.3" fill="url(#hgt)"/>
<circle cx="511.3" cy="1261.1" r="11.1" fill="url(#hgt)"/>
<circle cx="369.1" cy="1241.0" r="13.3" fill="url(#hgt)"/>
<circle cx="457.1" cy="1099.1" r="10.3" fill="url(#hgt)"/>
<circle cx="365.4" cy="1222.8" r="13.9" fill="url(#hgt)"/>
<circle cx="449.8" cy="1223.5" r="12.8" fill="url(#hgt)"/>
<circle cx="474.9" cy="1046.1" r="7.1" fill="url(#hgt)"/>
<circle cx="388.6" cy="1175.9" r="11.7" fill="url(#hgt)"/>
<circle cx="407.7" cy="1296.7" r="9.2" fill="url(#hgt)"/>
<circle cx="437.9" cy="1020.8" r="13.8" fill="url(#hgt)"/>
<circle cx="364.0" cy="1288.1" r="10.6" fill="url(#hgt)"/>
<circle cx="459.9" cy="1170.3" r="8.5" fill="url(#hgt)"/>
<circle cx="517.8" cy="1184.4" r="7.4" fill="url(#hgt)"/>
<circle cx="519.4" cy="1077.2" r="13.2" fill="url(#hgt)"/>
<circle cx="387.7" cy="1174.9" r="12.7" fill="url(#hgt)"/>
<circle cx="375.3" cy="1166.1" r="7.1" fill="url(#hgt)"/>
<circle cx="340.6" cy="1040.0" r="13.9" fill="url(#hgt)"/>
<circle cx="402.8" cy="1208.3" r="12.0" fill="url(#hgt)"/>
<circle cx="419.5" cy="1181.1" r="12.5" fill="url(#hgt)"/>
<circle cx="439.0" cy="1027.3" r="9.4" fill="url(#hgt)"/>
<circle cx="461.9" cy="1037.8" r="10.4" fill="url(#hgt)"/>
<circle cx="392.9" cy="1173.0" r="9.0" fill="url(#hgt)"/>
<circle cx="478.2" cy="991.3" r="11.5" fill="url(#hgt)"/>
<circle cx="468.8" cy="1139.3" r="9.6" fill="url(#hgt)"/>
<circle cx="474.1" cy="1214.5" r="12.2" fill="url(#hgt)"/>
<circle cx="503.0" cy="1144.8" r="14.0" fill="url(#hgt)"/>
<circle cx="522.5" cy="1271.3" r="9.6" fill="url(#hgt)"/>
<circle cx="431.3" cy="1172.3" r="13.3" fill="url(#hgt)"/>
<circle cx="452.1" cy="1158.2" r="9.7" fill="url(#hgt)"/>
<circle cx="537.4" cy="1088.2" r="6.9" fill="url(#hgt)"/>
<circle cx="497.1" cy="1286.8" r="12.0" fill="url(#hgt)"/>
<circle cx="468.2" cy="1236.0" r="8.8" fill="url(#hgt)"/>
<circle cx="467.3" cy="1002.2" r="7.4" fill="url(#hgt)"/>
<circle cx="434.2" cy="1150.6" r="9.5" fill="url(#hgt)"/>
<circle cx="345.1" cy="1216.4" r="10.4" fill="url(#hgt)"/>
<circle cx="387.4" cy="1083.3" r="9.5" fill="url(#hgt)"/>
<circle cx="386.6" cy="1001.8" r="13.3" fill="url(#hgt)"/>
<circle cx="528.9" cy="1122.7" r="12.5" fill="url(#hgt)"/>
<circle cx="383.4" cy="1234.2" r="10.8" fill="url(#hgt)"/>
<circle cx="454.7" cy="1304.2" r="6.5" fill="url(#hgt)"/>
<circle cx="388.4" cy="1080.9" r="8.9" fill="url(#hgt)"/>
<circle cx="517.4" cy="1114.4" r="9.2" fill="url(#hgt)"/>
<circle cx="465.5" cy="994.0" r="6.7" fill="url(#hgt)"/>
<circle cx="536.1" cy="1083.8" r="10.2" fill="url(#hgt)"/>
<circle cx="440.0" cy="1049.1" r="8.7" fill="url(#hgt)"/>
<circle cx="377.5" cy="1265.5" r="9.2" fill="url(#hgt)"/>
<circle cx="440.0" cy="1037.2" r="13.1" fill="url(#hgt)"/>
<circle cx="476.1" cy="1043.9" r="13.1" fill="url(#hgt)"/>
<circle cx="344.7" cy="1014.7" r="11.9" fill="url(#hgt)"/>
<circle cx="404.0" cy="1286.8" r="13.0" fill="url(#hgt)"/>
<circle cx="494.3" cy="1024.5" r="11.7" fill="url(#hgt)"/>
<circle cx="545.0" cy="1130.9" r="7.1" fill="url(#hgt)"/>
<circle cx="383.8" cy="1083.6" r="11.8" fill="url(#hgt)"/>
<circle cx="377.7" cy="1040.3" r="8.3" fill="url(#hgt)"/>
<circle cx="483.3" cy="1249.2" r="9.3" fill="url(#hgt)"/>
<circle cx="482.7" cy="1281.4" r="10.9" fill="url(#hgt)"/>
<circle cx="385.1" cy="1081.4" r="13.5" fill="url(#hgt)"/>
<circle cx="483.9" cy="1073.2" r="11.3" fill="url(#hgt)"/>
<circle cx="432.7" cy="1159.3" r="10.5" fill="url(#hgt)"/>
<circle cx="343.6" cy="1183.8" r="8.6" fill="url(#hgt)"/>
<circle cx="390.0" cy="1253.6" r="7.2" fill="url(#hgt)"/>
<circle cx="397.7" cy="1237.3" r="8.3" fill="url(#hgt)"/>
<circle cx="396.4" cy="1166.1" r="7.9" fill="url(#hgt)"/>
<circle cx="502.7" cy="1110.1" r="13.5" fill="url(#hgt)"/>
<circle cx="446.2" cy="1040.0" r="10.7" fill="url(#hgt)"/>
<circle cx="478.9" cy="1101.5" r="11.4" fill="url(#hgt)"/>
<circle cx="510.0" cy="1155.4" r="10.3" fill="url(#hgt)"/>
<circle cx="524.1" cy="1212.8" r="10.4" fill="url(#hgt)"/>
<circle cx="470.6" cy="1059.0" r="9.8" fill="url(#hgt)"/>
<circle cx="507.8" cy="1247.9" r="12.4" fill="url(#hgt)"/>
<circle cx="386.6" cy="1145.9" r="8.2" fill="url(#hgt)"/>
<circle cx="464.3" cy="1149.3" r="6.8" fill="url(#hgt)"/>
<circle cx="468.0" cy="1223.2" r="10.8" fill="url(#hgt)"/>
<circle cx="367.6" cy="984.4" r="10.2" fill="url(#hgt)"/>
<circle cx="431.5" cy="1129.7" r="8.5" fill="url(#hgt)"/>
<circle cx="538.1" cy="1173.3" r="10.6" fill="url(#hgt)"/>
<circle cx="512.0" cy="1059.9" r="7.6" fill="url(#hgt)"/>
<circle cx="403.6" cy="992.8" r="8.9" fill="url(#hgt)"/>
<circle cx="473.5" cy="1158.4" r="8.5" fill="url(#hgt)"/>
<circle cx="466.2" cy="1008.6" r="12.7" fill="url(#hgt)"/>
<circle cx="372.1" cy="1065.6" r="7.7" fill="url(#hgt)"/>
<circle cx="489.2" cy="1263.1" r="12.4" fill="url(#hgt)"/>
<circle cx="347.2" cy="1119.0" r="9.2" fill="url(#hgt)"/>
<circle cx="366.0" cy="1134.3" r="12.1" fill="url(#hgt)"/>
<circle cx="422.0" cy="1080.4" r="9.7" fill="url(#hgt)"/>
<circle cx="350.7" cy="990.0" r="14.0" fill="url(#hgt)"/>
<circle cx="505.6" cy="1229.9" r="8.2" fill="url(#hgt)"/>
<circle cx="390.5" cy="1167.4" r="8.3" fill="url(#hgt)"/>
<circle cx="437.5" cy="1297.9" r="9.2" fill="url(#hgt)"/>
<circle cx="471.2" cy="991.9" r="9.5" fill="url(#hgt)"/>
<circle cx="480.0" cy="998.4" r="9.1" fill="url(#hgt)"/>
<circle cx="490.1" cy="1274.5" r="10.9" fill="url(#hgt)"/>
<circle cx="533.4" cy="1136.8" r="9.4" fill="url(#hgt)"/>
<circle cx="523.6" cy="1108.9" r="12.4" fill="url(#hgt)"/>
<circle cx="382.0" cy="1097.4" r="7.9" fill="url(#hgt)"/>
<circle cx="457.4" cy="1034.5" r="8.0" fill="url(#hgt)"/>
<circle cx="381.8" cy="1138.6" r="8.8" fill="url(#hgt)"/>
<circle cx="486.6" cy="1274.0" r="8.0" fill="url(#hgt)"/>
<circle cx="419.8" cy="1003.2" r="11.7" fill="url(#hgt)"/>
<circle cx="415.3" cy="1072.4" r="6.6" fill="url(#hgt)"/>
<circle cx="374.5" cy="1068.2" r="9.4" fill="url(#hgt)"/>
<circle cx="541.8" cy="1223.4" r="8.5" fill="url(#hgt)"/>
<circle cx="414.9" cy="1030.9" r="13.5" fill="url(#hgt)"/>
<circle cx="414.6" cy="1240.7" r="11.9" fill="url(#hgt)"/>
<circle cx="406.1" cy="1110.0" r="7.1" fill="url(#hgt)"/>
<circle cx="532.5" cy="1089.8" r="12.3" fill="url(#hgt)"/>
<circle cx="450.6" cy="997.1" r="9.5" fill="url(#hgt)"/>
<circle cx="387.2" cy="992.3" r="7.6" fill="url(#hgt)"/>
<circle cx="467.7" cy="989.2" r="8.8" fill="url(#hgt)"/>
<circle cx="429.1" cy="1164.7" r="7.5" fill="url(#hgt)"/>
<circle cx="492.8" cy="1067.5" r="11.9" fill="url(#hgt)"/>
<circle cx="483.7" cy="1028.7" r="8.0" fill="url(#hgt)"/>
<circle cx="396.6" cy="1222.6" r="9.5" fill="url(#hgt)"/>
<circle cx="420.6" cy="1275.1" r="8.2" fill="url(#hgt)"/>
<circle cx="399.3" cy="1096.5" r="8.1" fill="url(#hgt)"/>
<circle cx="475.6" cy="1172.2" r="12.6" fill="url(#hgt)"/>
<circle cx="484.7" cy="1293.3" r="8.1" fill="url(#hgt)"/>
<circle cx="488.9" cy="1206.7" r="13.7" fill="url(#hgt)"/>
<circle cx="529.3" cy="1058.7" r="11.2" fill="url(#hgt)"/>
<circle cx="353.7" cy="1124.9" r="9.4" fill="url(#hgt)"/>
<circle cx="347.0" cy="1109.7" r="9.0" fill="url(#hgt)"/>
<circle cx="445.5" cy="1074.2" r="7.7" fill="url(#hgt)"/>
<circle cx="424.2" cy="1141.2" r="7.8" fill="url(#hgt)"/>
<circle cx="483.5" cy="1060.5" r="7.2" fill="url(#hgt)"/>
<circle cx="410.5" cy="1123.0" r="7.6" fill="url(#hgt)"/>
<circle cx="464.8" cy="1218.7" r="10.6" fill="url(#hgt)"/>
<circle cx="421.7" cy="1103.1" r="7.0" fill="url(#hgt)"/>
<circle cx="424.6" cy="997.0" r="10.2" fill="url(#hgt)"/>
<circle cx="465.6" cy="1139.0" r="8.9" fill="url(#hgt)"/>
<circle cx="411.7" cy="1283.9" r="10.7" fill="url(#hgt)"/>
<circle cx="392.5" cy="1207.2" r="7.9" fill="url(#hgt)"/>
<circle cx="439.3" cy="1189.1" r="13.7" fill="url(#hgt)"/>
<circle cx="415.2" cy="1175.8" r="13.6" fill="url(#hgt)"/>
<circle cx="507.4" cy="1193.3" r="11.2" fill="url(#hgt)"/>
<circle cx="426.1" cy="1120.7" r="8.6" fill="url(#hgt)"/>
<circle cx="520.6" cy="1279.8" r="9.4" fill="url(#hgt)"/>
<circle cx="364.0" cy="1152.1" r="8.8" fill="url(#hgt)"/>
<circle cx="367.2" cy="1044.3" r="8.2" fill="url(#hgt)"/>
<circle cx="486.8" cy="1058.7" r="6.5" fill="url(#hgt)"/>
<circle cx="456.1" cy="1113.3" r="8.3" fill="url(#hgt)"/>
<circle cx="444.8" cy="1201.1" r="10.6" fill="url(#hgt)"/>
<circle cx="474.3" cy="1170.5" r="12.7" fill="url(#hgt)"/>
<circle cx="411.6" cy="1282.0" r="8.9" fill="url(#hgt)"/>
<circle cx="494.9" cy="1216.6" r="11.6" fill="url(#hgt)"/>
<circle cx="369.4" cy="1191.3" r="10.2" fill="url(#hgt)"/>
<circle cx="460.6" cy="1104.9" r="8.6" fill="url(#hgt)"/>
<circle cx="502.4" cy="1161.3" r="8.3" fill="url(#hgt)"/>
<circle cx="389.6" cy="1089.7" r="7.8" fill="url(#hgt)"/>
<circle cx="449.3" cy="1021.5" r="7.0" fill="url(#hgt)"/>
<circle cx="348.9" cy="1013.3" r="11.8" fill="url(#hgt)"/>
<circle cx="358.8" cy="1133.1" r="12.3" fill="url(#hgt)"/>
<circle cx="441.8" cy="1034.0" r="13.0" fill="url(#hgt)"/>
<circle cx="390.7" cy="1152.2" r="12.5" fill="url(#hgt)"/>
<circle cx="421.9" cy="1223.7" r="8.4" fill="url(#hgt)"/>
<circle cx="494.9" cy="1090.3" r="9.0" fill="url(#hgt)"/>
<circle cx="504.7" cy="1267.1" r="12.7" fill="url(#hgt)"/>
<circle cx="461.4" cy="1122.4" r="11.8" fill="url(#hgt)"/>
<circle cx="473.9" cy="1263.1" r="12.5" fill="url(#hgt)"/>
<circle cx="361.6" cy="1107.5" r="11.5" fill="url(#hgt)"/>
<circle cx="385.5" cy="1041.6" r="6.6" fill="url(#hgt)"/>
<circle cx="465.5" cy="1300.8" r="13.8" fill="url(#hgt)"/>
<circle cx="363.6" cy="1213.9" r="9.6" fill="url(#hgt)"/>
<circle cx="475.9" cy="1114.3" r="13.5" fill="url(#hgt)"/>
<circle cx="494.3" cy="1018.9" r="6.8" fill="url(#hgt)"/>
<circle cx="397.9" cy="1228.9" r="14.0" fill="url(#hgt)"/>
<circle cx="360.5" cy="1091.4" r="6.7" fill="url(#hgt)"/>
<circle cx="455.8" cy="1143.8" r="9.3" fill="url(#hgt)"/>
<circle cx="403.2" cy="1252.6" r="12.8" fill="url(#hgt)"/>
<circle cx="397.4" cy="1112.5" r="11.1" fill="url(#hgt)"/>
<circle cx="421.2" cy="1216.2" r="10.6" fill="url(#hgt)"/>
<circle cx="372.9" cy="1015.0" r="13.5" fill="url(#hgt)"/>
<circle cx="390.1" cy="1145.6" r="7.4" fill="url(#hgt)"/>
<circle cx="461.1" cy="1027.5" r="11.2" fill="url(#hgt)"/>
<circle cx="395.2" cy="1056.3" r="10.1" fill="url(#hgt)"/>
<circle cx="415.9" cy="1067.3" r="6.9" fill="url(#hgt)"/>
<circle cx="403.2" cy="1005.2" r="7.9" fill="url(#hgt)"/>
<circle cx="379.0" cy="1275.5" r="10.1" fill="url(#hgt)"/>
<circle cx="426.9" cy="1254.9" r="9.5" fill="url(#hgt)"/>
<circle cx="346.4" cy="1167.0" r="11.4" fill="url(#hgt)"/>
<circle cx="474.0" cy="1073.3" r="13.5" fill="url(#hgt)"/>
<circle cx="433.4" cy="1264.0" r="11.9" fill="url(#hgt)"/>
<circle cx="373.1" cy="987.5" r="7.8" fill="url(#hgt)"/>
<circle cx="360.2" cy="1003.9" r="9.2" fill="url(#hgt)"/>
<circle cx="503.4" cy="1084.5" r="10.4" fill="url(#hgt)"/>
<circle cx="452.3" cy="1255.9" r="12.4" fill="url(#hgt)"/>
<circle cx="499.3" cy="1115.1" r="12.5" fill="url(#hgt)"/>
<circle cx="520.1" cy="1241.4" r="13.9" fill="url(#hgt)"/>
<circle cx="424.2" cy="1220.0" r="8.4" fill="url(#hgt)"/>
<circle cx="463.5" cy="1056.2" r="9.4" fill="url(#hgt)"/>
<circle cx="416.7" cy="1203.4" r="12.6" fill="url(#hgt)"/>
<circle cx="415.7" cy="1197.0" r="9.2" fill="url(#hgt)"/>
<circle cx="396.4" cy="1288.5" r="8.9" fill="url(#hgt)"/>
<circle cx="354.6" cy="1093.0" r="12.1" fill="url(#hgt)"/>
<circle cx="381.1" cy="1233.0" r="10.6" fill="url(#hgt)"/>
<circle cx="486.9" cy="1039.1" r="7.3" fill="url(#hgt)"/>
<circle cx="365.6" cy="1098.4" r="9.7" fill="url(#hgt)"/>
<circle cx="424.4" cy="1088.5" r="10.5" fill="url(#hgt)"/>
<circle cx="532.0" cy="1088.3" r="12.2" fill="url(#hgt)"/>
<circle cx="382.9" cy="1118.2" r="11.8" fill="url(#hgt)"/>
<circle cx="373.5" cy="1072.0" r="11.6" fill="url(#hgt)"/>
<circle cx="374.8" cy="1100.7" r="13.9" fill="url(#hgt)"/>
<circle cx="366.8" cy="1195.8" r="9.3" fill="url(#hgt)"/>
<circle cx="478.7" cy="1051.1" r="11.1" fill="url(#hgt)"/>
<circle cx="533.6" cy="1271.8" r="11.2" fill="url(#hgt)"/>
<circle cx="447.3" cy="1172.9" r="7.4" fill="url(#hgt)"/>
<circle cx="522.3" cy="1214.7" r="9.9" fill="url(#hgt)"/>
<circle cx="483.5" cy="1122.0" r="9.4" fill="url(#hgt)"/>
<circle cx="385.3" cy="1184.1" r="10.8" fill="url(#hgt)"/>
<circle cx="449.6" cy="989.3" r="11.2" fill="url(#hgt)"/>
<circle cx="434.2" cy="1181.6" r="11.0" fill="url(#hgt)"/>
<circle cx="499.9" cy="1085.6" r="12.0" fill="url(#hgt)"/>
<circle cx="386.2" cy="1266.2" r="11.4" fill="url(#hgt)"/>
<circle cx="513.4" cy="1153.6" r="14.0" fill="url(#hgt)"/>
<circle cx="348.0" cy="1276.5" r="11.8" fill="url(#hgt)"/>
<circle cx="390.0" cy="1254.9" r="9.9" fill="url(#hgt)"/>
<circle cx="454.4" cy="1274.9" r="8.0" fill="url(#hgt)"/>
<circle cx="396.5" cy="1198.9" r="7.1" fill="url(#hgt)"/>
<circle cx="458.6" cy="1248.0" r="10.2" fill="url(#hgt)"/>
<circle cx="388.0" cy="1252.4" r="12.9" fill="url(#hgt)"/>
<circle cx="507.3" cy="1166.5" r="13.3" fill="url(#hgt)"/>
<circle cx="415.9" cy="1012.7" r="6.8" fill="url(#hgt)"/>
<circle cx="411.4" cy="1274.7" r="12.8" fill="url(#hgt)"/>
<circle cx="359.9" cy="1040.6" r="9.4" fill="url(#hgt)"/>
<circle cx="525.0" cy="1189.8" r="13.3" fill="url(#hgt)"/>
<circle cx="380.0" cy="1193.9" r="13.1" fill="url(#hgt)"/>
<circle cx="497.6" cy="1045.8" r="11.5" fill="url(#hgt)"/>
<circle cx="410.0" cy="1086.4" r="11.2" fill="url(#hgt)"/>
<circle cx="396.2" cy="1185.0" r="11.7" fill="url(#hgt)"/>
<circle cx="374.2" cy="1022.2" r="11.7" fill="url(#hgt)"/>
<circle cx="438.6" cy="1022.5" r="7.4" fill="url(#hgt)"/>
<circle cx="414.1" cy="1045.5" r="14.0" fill="url(#hgt)"/>
<circle cx="489.4" cy="1230.6" r="9.2" fill="url(#hgt)"/>
<circle cx="403.4" cy="1118.2" r="7.6" fill="url(#hgt)"/>
<circle cx="475.8" cy="1123.9" r="12.7" fill="url(#hgt)"/>
<circle cx="425.7" cy="1134.8" r="10.3" fill="url(#hgt)"/>
<circle cx="492.1" cy="1058.9" r="10.8" fill="url(#hgt)"/>
<circle cx="397.7" cy="1277.4" r="8.6" fill="url(#hgt)"/>
<circle cx="526.2" cy="1210.2" r="9.9" fill="url(#hgt)"/>
<circle cx="501.1" cy="1184.4" r="9.9" fill="url(#hgt)"/>
<circle cx="347.9" cy="1121.9" r="8.6" fill="url(#hgt)"/>
<circle cx="432.9" cy="1305.4" r="8.7" fill="url(#hgt)"/>
<circle cx="490.2" cy="1208.6" r="8.3" fill="url(#hgt)"/>
<circle cx="426.2" cy="1023.6" r="13.2" fill="url(#hgt)"/>
<circle cx="390.2" cy="1122.5" r="9.1" fill="url(#hgt)"/>
<circle cx="518.5" cy="1269.7" r="10.9" fill="url(#hgt)"/>
<circle cx="456.6" cy="1012.4" r="13.2" fill="url(#hgt)"/>
<circle cx="353.3" cy="1102.9" r="9.3" fill="url(#hgt)"/>
<circle cx="496.5" cy="1207.6" r="9.1" fill="url(#hgt)"/>
<circle cx="439.2" cy="1102.3" r="10.0" fill="url(#hgt)"/>
<circle cx="404.7" cy="1208.2" r="11.0" fill="url(#hgt)"/>
<circle cx="520.3" cy="1201.0" r="11.8" fill="url(#hgt)"/>
<circle cx="437.7" cy="1115.8" r="11.4" fill="url(#hgt)"/>
<circle cx="380.6" cy="1105.1" r="7.6" fill="url(#hgt)"/>
<circle cx="422.4" cy="1232.5" r="7.1" fill="url(#hgt)"/>
<circle cx="371.0" cy="1200.7" r="11.2" fill="url(#hgt)"/>
<circle cx="500.8" cy="1065.1" r="12.6" fill="url(#hgt)"/>
<circle cx="498.3" cy="1244.2" r="7.4" fill="url(#hgt)"/>
<circle cx="412.6" cy="1161.9" r="10.5" fill="url(#hgt)"/>
<circle cx="358.5" cy="1248.8" r="8.8" fill="url(#hgt)"/>
<circle cx="447.9" cy="1021.0" r="10.8" fill="url(#hgt)"/>
<circle cx="362.7" cy="1008.6" r="10.3" fill="url(#hgt)"/>
<circle cx="399.7" cy="1244.7" r="8.4" fill="url(#hgt)"/>
<circle cx="426.8" cy="996.9" r="8.1" fill="url(#hgt)"/>
<circle cx="435.3" cy="1169.6" r="9.9" fill="url(#hgt)"/>
<circle cx="425.1" cy="1188.1" r="13.0" fill="url(#hgt)"/>
<circle cx="518.0" cy="1230.0" r="11.8" fill="url(#hgt)"/>
<circle cx="368.7" cy="1160.3" r="6.7" fill="url(#hgt)"/>
<circle cx="358.3" cy="1081.4" r="13.7" fill="url(#hgt)"/>
<circle cx="478.5" cy="1268.8" r="6.8" fill="url(#hgt)"/>
<circle cx="427.3" cy="1005.2" r="8.5" fill="url(#hgt)"/>
<circle cx="407.6" cy="1145.9" r="11.4" fill="url(#hgt)"/>
<circle cx="461.5" cy="1150.0" r="13.3" fill="url(#hgt)"/>
<circle cx="422.4" cy="1080.9" r="12.0" fill="url(#hgt)"/>
<circle cx="391.7" cy="1104.4" r="9.7" fill="url(#hgt)"/>
<circle cx="441.0" cy="1101.2" r="9.7" fill="url(#hgt)"/>
<circle cx="435.1" cy="995.3" r="12.8" fill="url(#hgt)"/>
<circle cx="347.3" cy="1159.2" r="10.6" fill="url(#hgt)"/>
<circle cx="423.6" cy="1054.6" r="7.2" fill="url(#hgt)"/>
<circle cx="417.3" cy="1086.0" r="10.1" fill="url(#hgt)"/>
<circle cx="385.4" cy="1235.1" r="10.2" fill="url(#hgt)"/>
<circle cx="467.3" cy="1307.6" r="9.2" fill="url(#hgt)"/>
<circle cx="468.3" cy="1104.7" r="8.8" fill="url(#hgt)"/>
<circle cx="470.8" cy="1180.3" r="8.9" fill="url(#hgt)"/>
<circle cx="445.7" cy="1155.2" r="12.2" fill="url(#hgt)"/>
<circle cx="345.4" cy="1010.1" r="8.4" fill="url(#hgt)"/>
<circle cx="394.3" cy="1251.0" r="9.7" fill="url(#hgt)"/>
<circle cx="527.4" cy="1116.2" r="8.6" fill="url(#hgt)"/>
<circle cx="486.8" cy="1007.6" r="13.9" fill="url(#hgt)"/>
<circle cx="521.0" cy="1090.8" r="8.9" fill="url(#hgt)"/>
<circle cx="518.2" cy="1248.5" r="11.3" fill="url(#hgt)"/>
<circle cx="346.2" cy="1240.0" r="6.9" fill="url(#hgt)"/>
<circle cx="474.3" cy="1167.5" r="13.5" fill="url(#hgt)"/>
<circle cx="477.5" cy="986.0" r="13.5" fill="url(#hgt)"/>
<circle cx="503.2" cy="1177.0" r="6.5" fill="url(#hgt)"/>
<circle cx="499.6" cy="1121.7" r="11.6" fill="url(#hgt)"/>
<circle cx="350.3" cy="1246.1" r="9.8" fill="url(#hgt)"/>
<circle cx="503.0" cy="1107.8" r="9.9" fill="url(#hgt)"/>
<circle cx="432.0" cy="1018.7" r="8.9" fill="url(#hgt)"/>
<circle cx="359.5" cy="1264.1" r="11.5" fill="url(#hgt)"/>
<circle cx="457.1" cy="1017.1" r="7.4" fill="url(#hgt)"/>
<circle cx="459.8" cy="1294.4" r="8.1" fill="url(#hgt)"/>
<circle cx="427.0" cy="1162.1" r="12.8" fill="url(#hgt)"/>
</g>
<path d="M224.5,678.4 C225.8,682.1 229.6,693.1 232.2,700.7 C234.8,708.3 237.9,717.4 239.9,723.8 C241.9,730.2 243.3,732.7 244.2,739.1 C245.1,745.5 245.5,755.3 245.3,762.2 C245.1,769.1 244.4,774.7 243.0,780.6 C241.6,786.5 239.4,793.4 236.8,797.5 C234.2,801.6 230.7,803.5 227.6,805.2 C224.5,806.9 220.8,806.5 218.4,807.5 C216.0,808.5 214.0,809.1 213.0,811.3 C212.0,813.5 212.1,816.9 212.2,820.5 C212.3,824.1 214.3,830.2 213.8,832.8 C213.3,835.4 211.8,835.5 209.2,835.9 C206.6,836.3 202.0,834.9 198.4,835.1 C194.8,835.4 190.0,835.5 187.6,837.4 C185.2,839.3 184.3,843.6 183.8,846.7 C183.3,849.8 183.8,853.7 184.6,855.9 C185.4,858.1 189.4,858.3 188.4,859.7 C187.4,861.1 181.2,862.1 178.4,864.3 C175.6,866.5 171.8,870.1 171.5,872.8 C171.2,875.5 175.0,878.4 176.9,880.4 C178.8,882.4 183.0,883.7 183.0,885.0 C183.0,886.3 179.3,886.8 176.9,888.1 C174.5,889.4 169.2,890.7 168.4,892.7 C167.6,894.8 170.1,898.4 172.3,900.4 C174.5,902.4 181.5,903.9 181.5,905.0 C181.5,906.1 174.4,906.0 172.3,907.3 C170.2,908.6 168.9,910.5 169.2,912.7 C169.4,914.9 171.8,918.1 173.8,920.4 C175.9,922.7 180.7,924.7 181.5,926.5 C182.3,928.3 179.0,928.8 178.4,931.1 C177.8,933.4 176.9,938.1 177.7,940.4 C178.5,942.7 179.8,943.2 183.0,945.0 C186.2,946.8 195.1,947.8 196.9,951.1 C198.7,954.4 194.8,960.5 193.8,964.9 C192.8,969.2 192.1,973.9 190.7,977.2 C189.3,980.6 187.1,980.8 185.2,985.0 C183.3,989.2 182.3,1000.8 179.4,1002.4 C176.5,1004.0 170.9,994.4 168.0,994.7 C165.1,995.0 164.6,1001.5 162.0,1004.0 C159.4,1006.5 156.2,1010.6 152.4,1010.0 C148.6,1009.4 144.4,1000.4 139.0,1000.4 C133.6,1000.4 123.2,1007.7 119.7,1010.0 C116.2,1012.3 116.5,1010.5 117.8,1014.0 C119.1,1017.5 127.7,1024.9 127.4,1031.0 C127.1,1037.1 117.8,1047.2 115.9,1050.5" fill="none" stroke="#e2184a" stroke-width="2.2" stroke-linejoin="round"/>
<path d="M196.1,964.9 C196.1,966.3 195.7,969.2 195.8,973.5 C195.9,977.8 194.9,986.3 196.7,990.8 C198.5,995.3 204.2,995.9 206.4,1000.4 C208.6,1004.9 207.1,1013.9 210.0,1017.8 C212.9,1021.7 219.9,1023.9 223.7,1023.6 C227.5,1023.3 229.2,1018.3 233.0,1016.0 C236.8,1013.7 242.6,1009.7 246.8,1010.0 C251.0,1010.3 253.6,1018.5 258.4,1017.8 C263.2,1017.1 268.6,1005.4 275.7,1006.0 C282.8,1006.6 298.1,1017.1 300.7,1021.6 C303.2,1026.1 291.3,1030.4 291.0,1033.0 C290.7,1035.6 298.8,1038.0 298.8,1037.0 C298.8,1036.0 293.0,1025.7 291.0,1027.0 C289.0,1028.3 291.5,1041.1 287.0,1044.7 C282.5,1048.3 269.1,1046.0 264.0,1048.6 C258.9,1051.1 261.7,1056.8 256.5,1060.0 C251.3,1063.2 239.1,1065.4 233.0,1068.0 C226.9,1070.6 224.3,1074.7 219.9,1075.6 C215.5,1076.5 208.7,1073.9 206.4,1073.6" fill="none" stroke="#e2184a" stroke-width="2.2" stroke-linejoin="round"/>
<path d="M120,1047 C140,1040 160,1048 175,1055" fill="none" stroke="#f4a40c" stroke-width="2.5"/>
<path d="M135.0,1045.7 L135.0,1045.5 L135.2,1045.2 L135.4,1044.7 L135.8,1044.0 L136.3,1043.3 L136.9,1042.5 L137.7,1041.6 L138.5,1040.7 L139.5,1039.7 L140.5,1038.8 L141.6,1037.9 L142.8,1037.0 L144.1,1036.2 L145.3,1035.5 L146.6,1035.0 L148.0,1034.5 L149.3,1034.2 L150.5,1034.1 L151.8,1034.1 L152.9,1034.3 L154.0,1034.6 L155.1,1035.1" fill="none" stroke="#d08a08" stroke-width="4.8" stroke-linecap="round"/>
<path d="M156.1,1057.4 L156.1,1057.3 L156.2,1057.0 L156.4,1056.6 L156.8,1056.0 L157.2,1055.3 L157.8,1054.5 L158.5,1053.7 L159.2,1052.8 L160.1,1051.8 L161.1,1050.9 L162.2,1050.0 L163.4,1049.1 L164.6,1048.2 L165.9,1047.5 L167.2,1046.9 L168.5,1046.4 L169.8,1046.0 L171.1,1045.8 L172.3,1045.7 L173.5,1045.8 L174.7,1046.1 L175.7,1046.6 L176.7,1047.2" fill="none" stroke="#d08a08" stroke-width="4.8" stroke-linecap="round"/>
<path d="M177.2,1069.0 L177.3,1068.8 L177.4,1068.4 L177.7,1067.9 L178.1,1067.3 L178.6,1066.6 L179.2,1065.7 L180.0,1064.8 L180.8,1063.9 L181.8,1063.0 L182.8,1062.0 L184.0,1061.1 L185.2,1060.3 L186.4,1059.5 L187.7,1058.8 L189.0,1058.2 L190.3,1057.8 L191.6,1057.5 L192.9,1057.4 L194.1,1057.4 L195.3,1057.6 L196.4,1058.0 L197.4,1058.5" fill="none" stroke="#d08a08" stroke-width="4.8" stroke-linecap="round"/>
<path d="M198.3,1080.7 L198.3,1080.6 L198.5,1080.3 L198.7,1079.8 L199.0,1079.3 L199.5,1078.6 L200.1,1077.8 L200.8,1076.9 L201.6,1076.0 L202.5,1075.1 L203.5,1074.1 L204.6,1073.2 L205.7,1072.3 L207.0,1071.5 L208.2,1070.8 L209.5,1070.1 L210.9,1069.6 L212.2,1069.3 L213.4,1069.1 L214.7,1069.0 L215.9,1069.2 L217.0,1069.5" fill="none" stroke="#d08a08" stroke-width="4.8" stroke-linecap="round"/>
<path d="M136.3,1043.4 L136.0,1044.2 L135.6,1044.8 L135.4,1045.3 L135.2,1045.6 L135.0,1045.7 L135.0,1045.7" fill="none" stroke="#f4a40c" stroke-width="6.0" stroke-linecap="round"/>
<path d="M155.1,1035.1 L156.0,1035.8 L156.8,1036.7 L157.5,1037.7 L158.1,1038.8 L158.6,1040.0 L158.9,1041.3 L159.2,1042.7 L159.3,1044.2 L159.3,1045.6 L159.3,1047.1 L159.1,1048.6 L158.9,1050.0 L158.6,1051.3 L158.3,1052.5 L157.9,1053.7 L157.6,1054.7 L157.2,1055.5 L156.9,1056.2 L156.6,1056.8 L156.4,1057.2 L156.2,1057.4 L156.1,1057.4" fill="none" stroke="#f4a40c" stroke-width="6.0" stroke-linecap="round"/>
<path d="M176.7,1047.2 L177.6,1047.9 L178.3,1048.9 L179.0,1049.9 L179.5,1051.1 L179.9,1052.4 L180.2,1053.8 L180.4,1055.2 L180.5,1056.7 L180.4,1058.1 L180.3,1059.6 L180.1,1061.0 L179.9,1062.4 L179.6,1063.7 L179.2,1064.8 L178.9,1065.9 L178.5,1066.8 L178.1,1067.6 L177.8,1068.2 L177.6,1068.7 L177.4,1069.0 L177.2,1069.1 L177.2,1069.0" fill="none" stroke="#f4a40c" stroke-width="6.0" stroke-linecap="round"/>
<path d="M197.4,1058.5 L198.3,1059.2 L199.1,1060.1 L199.8,1061.1 L200.4,1062.2 L200.9,1063.5 L201.2,1064.8 L201.4,1066.2 L201.5,1067.7 L201.6,1069.1 L201.5,1070.6 L201.3,1072.0 L201.1,1073.4 L200.8,1074.8 L200.5,1076.0 L200.1,1077.1 L199.8,1078.1 L199.4,1079.0 L199.1,1079.6 L198.8,1080.2 L198.6,1080.5 L198.4,1080.7 L198.3,1080.7" fill="none" stroke="#f4a40c" stroke-width="6.0" stroke-linecap="round"/>
<path d="M206,1083 C218,1086 228,1080 240,1079 L236,1064" fill="none" stroke="#f4a40c" stroke-width="2.3"/>
<path d="M132.2,1055.6 L132.3,1055.3 L132.5,1054.9 L132.8,1054.3 L133.3,1053.6 L133.8,1052.8 L134.5,1051.9 L135.3,1051.0 L136.2,1050.0 L137.3,1049.0 L138.4,1048.1 L139.6,1047.1 L140.9,1046.3 L142.2,1045.5 L143.5,1044.8 L144.9,1044.3 L146.3,1043.8 L147.6,1043.6 L148.9,1043.5 L150.2,1043.6 L151.4,1043.9 L152.5,1044.3 L153.5,1044.9" fill="none" stroke="#9c0c2a" stroke-width="5.6" stroke-linecap="round"/>
<path d="M153.4,1067.9 L153.4,1067.7 L153.5,1067.3 L153.8,1066.8 L154.2,1066.2 L154.7,1065.4 L155.3,1064.6 L156.1,1063.7 L156.9,1062.7 L157.9,1061.7 L159.0,1060.7 L160.2,1059.8 L161.4,1058.9 L162.7,1058.0 L164.1,1057.3 L165.4,1056.7 L166.8,1056.2 L168.2,1055.9 L169.5,1055.8 L170.8,1055.8 L172.0,1056.0 L173.1,1056.3 L174.2,1056.9" fill="none" stroke="#9c0c2a" stroke-width="5.6" stroke-linecap="round"/>
<path d="M174.5,1080.0 L174.6,1079.7 L174.8,1079.3 L175.1,1078.7 L175.5,1078.0 L176.1,1077.2 L176.8,1076.3 L177.6,1075.3 L178.6,1074.4 L179.6,1073.4 L180.8,1072.4 L182.0,1071.5 L183.2,1070.6 L184.6,1069.8 L185.9,1069.2 L187.3,1068.6 L188.7,1068.3 L190.0,1068.0 L191.3,1068.0 L192.6,1068.1 L193.7,1068.4 L194.8,1068.8 L195.8,1069.5" fill="none" stroke="#9c0c2a" stroke-width="5.6" stroke-linecap="round"/>
<path d="M195.6,1092.3 L195.6,1092.1 L195.8,1091.7 L196.0,1091.2 L196.4,1090.5 L197.0,1089.8 L197.6,1088.9 L198.4,1088.0 L199.3,1087.0 L200.3,1086.0 L201.3,1085.1 L202.5,1084.1 L203.8,1083.2 L205.1,1082.4 L206.4,1081.7 L207.8,1081.1" fill="none" stroke="#9c0c2a" stroke-width="5.6" stroke-linecap="round"/>
<path d="M135.9,1046.3 L135.6,1047.7 L135.3,1049.1 L134.9,1050.4 L134.5,1051.6 L134.1,1052.7 L133.7,1053.6 L133.3,1054.4 L132.9,1055.0 L132.6,1055.4 L132.4,1055.7 L132.3,1055.7 L132.2,1055.6" fill="none" stroke="#cf1238" stroke-width="7.0" stroke-linecap="round"/>
<path d="M153.5,1044.9 L154.4,1045.7 L155.2,1046.7 L155.9,1047.8 L156.4,1049.0 L156.8,1050.3 L157.1,1051.7 L157.3,1053.2 L157.3,1054.7 L157.3,1056.3 L157.1,1057.8 L156.9,1059.3 L156.6,1060.7 L156.2,1062.1 L155.8,1063.3 L155.4,1064.5 L155.0,1065.5 L154.6,1066.3 L154.2,1067.0 L153.9,1067.5 L153.6,1067.8 L153.4,1067.9 L153.4,1067.9" fill="none" stroke="#cf1238" stroke-width="7.0" stroke-linecap="round"/>
<path d="M174.2,1056.9 L175.1,1057.6 L176.0,1058.5 L176.7,1059.5 L177.3,1060.7 L177.8,1061.9 L178.1,1063.3 L178.3,1064.8 L178.4,1066.3 L178.4,1067.8 L178.3,1069.4 L178.1,1070.9 L177.8,1072.3 L177.5,1073.7 L177.1,1075.0 L176.7,1076.2 L176.3,1077.3 L175.8,1078.2 L175.5,1078.9 L175.1,1079.5 L174.8,1079.9 L174.6,1080.1 L174.5,1080.2 L174.5,1080.0" fill="none" stroke="#cf1238" stroke-width="7.0" stroke-linecap="round"/>
<path d="M195.8,1069.5 L196.7,1070.3 L197.5,1071.2 L198.1,1072.3 L198.7,1073.6 L199.1,1074.9 L199.3,1076.3 L199.5,1077.8 L199.5,1079.4 L199.5,1080.9 L199.3,1082.4 L199.1,1083.9 L198.7,1085.3 L198.4,1086.7 L198.0,1087.9 L197.6,1089.0 L197.1,1090.0 L196.7,1090.8 L196.4,1091.5 L196.1,1092.0 L195.8,1092.3 L195.6,1092.4 L195.6,1092.3" fill="none" stroke="#cf1238" stroke-width="7.0" stroke-linecap="round"/>
<path d="M492.7,959.5 C495.4,958.0 504.2,953.2 508.9,950.4 C513.5,947.6 518.4,945.6 520.6,942.6 C522.8,939.6 523.4,935.5 521.9,932.3 C520.4,929.1 513.6,925.8 511.5,923.2 C509.4,920.6 508.2,918.9 509.5,916.7 C510.8,914.5 515.7,912.4 519.3,910.2 C522.9,908.0 529.0,905.7 530.9,903.7 C532.8,901.8 531.4,900.4 530.9,898.5 C530.4,896.6 527.7,894.5 527.7,892.1 C527.7,889.7 529.7,886.9 530.9,884.3 C532.1,881.7 533.7,879.5 534.8,876.5 C535.9,873.5 536.4,870.4 537.4,866.1 C538.4,861.8 540.3,854.5 540.7,850.6 C541.1,846.7 541.2,845.4 540.0,842.8 C538.8,840.2 535.0,837.6 533.5,835.0 C532.0,832.4 531.3,830.0 530.9,827.2 C530.5,824.4 531.5,821.0 530.9,818.2 C530.2,815.4 528.7,813.0 527.0,810.4 C525.3,807.8 521.8,805.6 520.6,802.6 C519.4,799.6 520.0,795.2 519.9,792.2 C519.8,789.2 520.9,787.7 519.9,784.5 C518.9,781.3 515.2,776.7 514.1,772.8 C513.0,768.9 513.0,765.0 513.4,761.1 C513.8,757.2 514.9,752.3 516.7,749.4 C518.6,746.5 521.5,744.5 524.5,743.6 C527.5,742.8 531.2,742.8 534.8,744.3 C538.3,745.8 545.1,749.9 545.8,752.7 C546.4,755.5 540.9,757.8 538.7,761.1 C536.6,764.5 534.2,768.9 532.9,772.8 C531.6,776.7 530.4,781.7 530.9,784.5 C531.4,787.3 532.9,788.3 536.1,789.6 C539.4,790.9 545.4,790.4 550.4,792.2 C555.4,794.1 560.9,798.7 565.9,800.7 C570.9,802.7 576.3,802.4 580.2,804.0 C584.1,805.6 586.3,807.2 589.3,810.4 C592.3,813.6 595.6,819.5 598.4,823.4 C601.2,827.3 604.2,829.8 606.1,833.7 C608.0,837.6 609.2,841.3 610.0,846.7 C610.8,852.1 610.7,860.3 610.7,866.1 C610.7,871.9 610.8,878.2 610.0,881.7 C609.2,885.2 608.2,885.7 606.1,886.9 C604.0,888.1 600.3,888.1 597.1,888.8 C593.9,889.4 588.2,889.2 586.7,890.8 C585.2,892.4 587.1,895.5 588.0,898.5 C588.9,901.5 591.5,905.4 591.9,908.9 C592.3,912.4 591.9,916.3 590.6,919.3 C589.3,922.3 586.5,924.9 584.1,927.1 C581.7,929.3 578.5,930.1 576.3,932.3 C574.1,934.4 572.8,937.2 571.1,940.0 C569.4,942.8 568.0,947.4 565.9,949.1 C563.8,950.8 561.7,950.4 558.2,950.4 C554.8,950.4 547.9,948.2 545.2,949.1 C542.5,950.0 542.6,952.6 542.0,955.6 C541.4,958.6 542.5,964.5 541.3,967.3 C540.1,970.1 537.6,970.9 534.8,972.4 C532.0,973.9 527.1,974.3 524.5,976.3 C521.9,978.2 520.4,981.3 519.3,984.1 C518.2,986.9 518.6,990.6 518.0,993.2 C517.4,995.8 515.6,995.3 515.4,999.7 C515.1,1004.1 518.2,1014.2 516.5,1019.7 C514.8,1025.2 505.6,1028.8 505.0,1033.0 C504.4,1037.2 511.3,1042.8 512.6,1044.7" fill="none" stroke="#4479e6" stroke-width="2.2" stroke-linejoin="round"/>
<path d="M414.0,1037.0 C415.0,1038.9 418.3,1044.1 420.0,1048.6 C421.7,1053.1 424.0,1058.9 424.0,1064.0 C424.0,1069.1 419.4,1074.9 420.0,1079.4 C420.6,1083.9 425.3,1088.4 427.9,1091.0 C430.5,1093.6 435.6,1091.3 435.6,1094.8 C435.6,1098.3 428.5,1106.2 427.9,1112.0 C427.2,1117.8 429.8,1126.0 431.7,1129.5 C433.6,1133.0 436.2,1134.3 439.4,1133.3 C442.6,1132.3 447.1,1124.3 451.0,1123.7 C454.9,1123.1 458.7,1127.6 462.5,1129.5 C466.3,1131.4 471.1,1138.2 474.0,1135.0 C476.9,1131.8 478.5,1113.7 480.0,1110.0 C481.5,1106.3 482.5,1112.5 483.0,1113.0" fill="none" stroke="#4479e6" stroke-width="2.2" stroke-linejoin="round"/>
<path d="M402,994 C412,993 420,990 426,986" fill="none" stroke="#4479e6" stroke-width="2.5"/>
<path d="M418.5,985.6 L418.6,985.6 L418.7,985.6 L418.9,985.6 L419.1,985.6 L419.5,985.6 L419.9,985.7 L420.3,985.7 L420.9,985.8 L421.5,985.9 L422.1,986.1 L422.8,986.2 L423.5,986.4 L424.2,986.6 L425.0,986.9 L425.8,987.1 L426.6,987.4 L427.4,987.8 L428.2,988.2 L429.0,988.6 L429.8,989.0 L430.5,989.5 L431.2,990.0 L431.9,990.6 L432.6,991.1 L433.2,991.7 L433.7,992.3 L434.2,993.0 L434.6,993.6 L435.0,994.3 L435.3,995.0 L435.5,995.7 L435.7,996.4 L435.7,997.2 L435.7,997.9" fill="none" stroke="#2e5db8" stroke-width="5.2" stroke-linecap="round"/>
<path d="M418.9,1009.7 L419.0,1009.7 L419.2,1009.7 L419.4,1009.8 L419.7,1009.8 L420.0,1009.8 L420.4,1009.9 L420.9,1009.9 L421.5,1010.0 L422.1,1010.1 L422.7,1010.3 L423.4,1010.4 L424.1,1010.6 L424.9,1010.8 L425.7,1011.1 L426.5,1011.4 L427.3,1011.7 L428.1,1012.1 L428.9,1012.5 L429.7,1012.9 L430.4,1013.3 L431.2,1013.8 L431.9,1014.4 L432.6,1014.9 L433.2,1015.5 L433.8,1016.1 L434.3,1016.7 L434.8,1017.4 L435.2,1018.0 L435.5,1018.7 L435.8,1019.4 L436.0,1020.1 L436.1,1020.9 L436.1,1021.6" fill="none" stroke="#2e5db8" stroke-width="5.2" stroke-linecap="round"/>
<path d="M419.4,1033.9 L419.5,1033.9 L419.6,1033.9 L419.9,1033.9 L420.2,1034.0 L420.6,1034.0 L421.0,1034.1 L421.5,1034.1 L422.1,1034.2 L422.7,1034.3 L423.4,1034.5 L424.1,1034.7 L424.8,1034.9 L425.6,1035.1 L426.3,1035.4 L427.1,1035.7 L427.9,1036.0 L428.8,1036.4 L429.6,1036.8 L430.3,1037.2 L431.1,1037.7 L431.8,1038.2 L432.5,1038.7" fill="none" stroke="#2e5db8" stroke-width="5.2" stroke-linecap="round"/>
<path d="M419.1,985.5 L418.8,985.5 L418.7,985.6 L418.6,985.6 L418.5,985.6" fill="none" stroke="#4479e6" stroke-width="6.5" stroke-linecap="round"/>
<path d="M435.7,997.9 L435.6,998.6 L435.5,999.3 L435.3,1000.0 L435.0,1000.7 L434.6,1001.4 L434.2,1002.1 L433.7,1002.8 L433.1,1003.4 L432.5,1004.0 L431.9,1004.6 L431.2,1005.1 L430.5,1005.6 L429.7,1006.1 L428.9,1006.6 L428.1,1007.0 L427.4,1007.4 L426.6,1007.8 L425.8,1008.1 L425.0,1008.4 L424.2,1008.6 L423.5,1008.9 L422.8,1009.0 L422.2,1009.2 L421.6,1009.3 L421.0,1009.5 L420.5,1009.5 L420.1,1009.6 L419.7,1009.7 L419.4,1009.7 L419.2,1009.7 L419.0,1009.7 L419.0,1009.7 L418.9,1009.7" fill="none" stroke="#4479e6" stroke-width="6.5" stroke-linecap="round"/>
<path d="M436.1,1021.6 L436.1,1022.3 L436.0,1023.0 L435.8,1023.7 L435.6,1024.4 L435.3,1025.1 L434.9,1025.8 L434.4,1026.5 L433.9,1027.1 L433.3,1027.8 L432.7,1028.3 L432.1,1028.9 L431.4,1029.5 L430.6,1030.0 L429.9,1030.4 L429.1,1030.9 L428.3,1031.3 L427.5,1031.7 L426.7,1032.0 L425.9,1032.3 L425.2,1032.6 L424.4,1032.9 L423.7,1033.1 L423.0,1033.3 L422.4,1033.4 L421.8,1033.6 L421.3,1033.7 L420.8,1033.7 L420.4,1033.8 L420.0,1033.8 L419.8,1033.9 L419.6,1033.9 L419.4,1033.9 L419.4,1033.9 L419.4,1033.9" fill="none" stroke="#4479e6" stroke-width="6.5" stroke-linecap="round"/>
<path d="M392,1046 C398,1044 404,1046 408,1050" fill="none" stroke="#f4a40c" stroke-width="2.5"/>
<path d="M405.1,1063.0 L405.1,1062.9 L405.2,1062.8 L405.4,1062.6 L405.5,1062.3 L405.8,1062.0 L406.1,1061.6 L406.5,1061.2 L406.9,1060.7 L407.3,1060.2 L407.8,1059.7 L408.4,1059.1 L409.0,1058.5 L409.7,1057.9 L410.4,1057.3 L411.1,1056.7 L411.9,1056.2 L412.7,1055.6 L413.6,1055.1 L414.5,1054.6 L415.3,1054.1 L416.2,1053.7 L417.2,1053.3 L418.1,1053.0 L419.0,1052.7 L419.9,1052.5 L420.8,1052.4 L421.7,1052.3 L422.6,1052.3 L423.5,1052.4 L424.3,1052.6 L425.1,1052.8 L425.8,1053.1 L426.6,1053.5" fill="none" stroke="#d08a08" stroke-width="5.6" stroke-linecap="round"/>
<path d="M428.8,1076.7 L428.9,1076.6 L429.0,1076.5 L429.2,1076.3 L429.4,1076.0 L429.6,1075.6 L430.0,1075.2 L430.3,1074.8 L430.8,1074.3 L431.2,1073.8 L431.8,1073.2 L432.4,1072.7 L433.0,1072.1 L433.7,1071.5 L434.4,1070.9 L435.1,1070.3 L435.9,1069.7 L436.8,1069.2 L437.6,1068.6 L438.5,1068.1 L439.4,1067.7 L440.3,1067.3 L441.2,1066.9 L442.1,1066.6 L443.1,1066.4 L444.0,1066.2 L444.9,1066.1 L445.8,1066.1 L446.7,1066.1 L447.5,1066.2 L448.3,1066.4 L449.1,1066.7 L449.8,1067.0 L450.5,1067.4" fill="none" stroke="#d08a08" stroke-width="5.6" stroke-linecap="round"/>
<path d="M452.5,1090.5 L452.6,1090.5 L452.7,1090.3 L452.8,1090.2 L453.0,1089.9 L453.2,1089.6 L453.5,1089.2 L453.8,1088.8 L454.2,1088.4 L454.7,1087.9 L455.2,1087.3 L455.7,1086.8 L456.3,1086.2 L457.0,1085.6" fill="none" stroke="#d08a08" stroke-width="5.6" stroke-linecap="round"/>
<path d="M407.1,1056.5 L406.9,1057.3 L406.7,1058.2 L406.5,1058.9 L406.3,1059.6 L406.1,1060.3 L405.9,1060.9 L405.7,1061.4 L405.5,1061.9 L405.4,1062.2 L405.2,1062.5 L405.1,1062.8 L405.1,1062.9 L405.0,1063.0 L405.1,1063.0" fill="none" stroke="#f4a40c" stroke-width="7.0" stroke-linecap="round"/>
<path d="M426.6,1053.5 L427.2,1054.0 L427.9,1054.5 L428.5,1055.1 L429.0,1055.8 L429.5,1056.5 L429.9,1057.2 L430.3,1058.1 L430.6,1058.9 L430.9,1059.9 L431.1,1060.8 L431.2,1061.8 L431.3,1062.8 L431.4,1063.8 L431.4,1064.8 L431.4,1065.8 L431.4,1066.8 L431.3,1067.7 L431.1,1068.7 L431.0,1069.6 L430.8,1070.5 L430.6,1071.4 L430.4,1072.2 L430.2,1072.9 L430.0,1073.6 L429.8,1074.3 L429.6,1074.8 L429.4,1075.3 L429.2,1075.7 L429.1,1076.1 L429.0,1076.4 L428.9,1076.6 L428.8,1076.7 L428.8,1076.8 L428.8,1076.7" fill="none" stroke="#f4a40c" stroke-width="7.0" stroke-linecap="round"/>
<path d="M450.5,1067.4 L451.2,1067.9 L451.8,1068.4 L452.4,1069.1 L452.9,1069.7 L453.4,1070.5 L453.8,1071.3 L454.1,1072.1 L454.4,1073.0 L454.7,1073.9 L454.9,1074.9 L455.0,1075.8 L455.1,1076.8 L455.2,1077.8 L455.2,1078.8 L455.1,1079.8 L455.1,1080.8 L455.0,1081.8 L454.8,1082.8 L454.7,1083.7 L454.5,1084.6 L454.3,1085.4 L454.1,1086.2 L453.9,1086.9 L453.7,1087.6 L453.5,1088.2 L453.3,1088.7 L453.1,1089.2 L452.9,1089.6 L452.8,1089.9 L452.7,1090.2 L452.6,1090.4 L452.6,1090.5 L452.5,1090.5" fill="none" stroke="#f4a40c" stroke-width="7.0" stroke-linecap="round"/>
<path d="M458,1078 C470,1079 478,1074 486,1060" fill="none" stroke="#f4a40c" stroke-width="2.3"/>
<path d="M442.3,1092.6 L442.3,1092.4 L442.2,1092.2 L442.2,1092.0 L442.1,1091.8 L442.1,1091.5 L442.0,1091.3 L442.0,1091.0 L441.9,1090.7 L441.9,1090.4 L441.8,1090.1 L441.8,1089.7 L441.7,1089.4 L441.6,1089.0 L441.6,1088.7 L441.5,1088.3 L441.5,1087.9 L441.4,1087.5 L441.4,1087.1 L441.4,1086.7 L441.3,1086.2 L441.3,1085.8 L441.3,1085.4 L441.3,1084.9 L441.3,1084.5 L441.3,1084.0 L441.3,1083.6 L441.3,1083.1 L441.4,1082.7 L441.4,1082.2 L441.5,1081.8 L441.5,1081.3 L441.6,1080.9 L441.7,1080.5 L441.8,1080.0 L441.9,1079.6 L442.1,1079.2 L442.2,1078.7 L442.3,1078.3 L442.5,1077.9 L442.7,1077.5 L442.9,1077.2 L443.1,1076.8 L443.3,1076.4 L443.5,1076.1 L443.7,1075.8 L444.0,1075.4 L444.3,1075.1 L444.5,1074.8 L444.8,1074.6 L445.1,1074.3 L445.4,1074.1 L445.7,1073.8 L446.1,1073.6 L446.4,1073.4" fill="none" stroke="#2e5db8" stroke-width="5.2" stroke-linecap="round"/>
<path d="M465.4,1079.5 L465.4,1079.5 L465.4,1079.4 L465.4,1079.4 L465.4,1079.3 L465.4,1079.2 L465.4,1079.0 L465.4,1078.9 L465.4,1078.7 L465.4,1078.6 L465.3,1078.4 L465.3,1078.2 L465.2,1077.9 L465.2,1077.7 L465.1,1077.4 L465.1,1077.2 L465.0,1076.9 L465.0,1076.6 L464.9,1076.3 L464.8,1075.9 L464.8,1075.6 L464.7,1075.2 L464.7,1074.9 L464.6,1074.5 L464.6,1074.1 L464.5,1073.7 L464.5,1073.3 L464.4,1072.9 L464.4,1072.4 L464.4,1072.0 L464.4,1071.6 L464.4,1071.1 L464.4,1070.7 L464.4,1070.2 L464.4,1069.8 L464.4,1069.3 L464.5,1068.9 L464.5,1068.4 L464.6,1068.0 L464.6,1067.5 L464.7,1067.1 L464.8,1066.6 L464.9,1066.2 L465.0,1065.8 L465.1,1065.3 L465.3,1064.9" fill="none" stroke="#2e5db8" stroke-width="5.2" stroke-linecap="round"/>
<path d="M446.4,1073.4 L446.7,1073.2 L447.1,1073.1 L447.5,1072.9 L447.8,1072.8 L448.2,1072.7 L448.6,1072.6 L449.0,1072.5 L449.4,1072.5 L449.8,1072.4 L450.2,1072.4 L450.7,1072.4 L451.1,1072.4 L451.5,1072.4 L451.9,1072.5 L452.4,1072.5 L452.8,1072.6 L453.2,1072.7 L453.7,1072.8 L454.1,1072.9 L454.5,1073.0 L455.0,1073.2 L455.4,1073.3 L455.8,1073.5 L456.2,1073.7 L456.7,1073.8 L457.1,1074.0 L457.5,1074.2 L457.9,1074.4 L458.3,1074.6 L458.7,1074.8 L459.0,1075.1 L459.4,1075.3 L459.8,1075.5 L460.1,1075.7 L460.5,1076.0 L460.8,1076.2 L461.1,1076.4 L461.5,1076.6 L461.8,1076.9 L462.0,1077.1 L462.3,1077.3 L462.6,1077.5 L462.9,1077.7 L463.1,1077.9 L463.3,1078.1 L463.5,1078.3 L463.8,1078.4 L463.9,1078.6 L464.1,1078.8 L464.3,1078.9 L464.5,1079.0 L464.6,1079.1 L464.7,1079.2 L464.9,1079.3 L465.0,1079.4 L465.1,1079.5 L465.1,1079.5 L465.2,1079.5 L465.3,1079.5 L465.3,1079.5 L465.4,1079.5" fill="none" stroke="#4479e6" stroke-width="6.5" stroke-linecap="round"/>
<path d="M494.6,1067.8 L494.6,1067.8 L494.5,1067.7 L494.5,1067.6 L494.4,1067.5 L494.4,1067.3 L494.3,1067.2 L494.2,1066.9 L494.2,1066.7 L494.1,1066.4 L494.0,1066.1 L493.9,1065.8 L493.8,1065.5 L493.7,1065.1 L493.6,1064.7 L493.5,1064.3 L493.5,1063.8 L493.4,1063.4 L493.3,1062.9 L493.3,1062.4 L493.2,1061.9 L493.2,1061.4 L493.1,1060.9 L493.1,1060.3 L493.1,1059.8 L493.1,1059.2 L493.1,1058.7 L493.2,1058.1 L493.2,1057.6 L493.3,1057.0 L493.4,1056.5 L493.5,1055.9 L493.6,1055.4 L493.7,1054.8 L493.8,1054.3 L494.0,1053.8 L494.2,1053.3 L494.4,1052.8 L494.6,1052.4 L494.9,1051.9 L495.1,1051.5 L495.4,1051.1 L495.7,1050.7 L496.0,1050.4 L496.3,1050.1 L496.7,1049.8 L497.0,1049.5 L497.4,1049.2 L497.8,1049.0 L498.2,1048.8 L498.6,1048.6" fill="none" stroke="#2e5db8" stroke-width="4.8" stroke-linecap="round"/>
<path d="M514.6,1059.1 L514.6,1059.0 L514.5,1059.0 L514.5,1058.9 L514.4,1058.7 L514.4,1058.6 L514.3,1058.4 L514.2,1058.2 L514.2,1057.9 L514.1,1057.7 L514.0,1057.4 L513.9,1057.1 L513.8,1056.7 L513.7,1056.3 L513.6,1055.9 L513.5,1055.5 L513.5,1055.1 L513.4,1054.6 L513.3,1054.2 L513.3,1053.7 L513.2,1053.2 L513.2,1052.6 L513.1,1052.1 L513.1,1051.6 L513.1,1051.0 L513.1,1050.5 L513.1,1049.9 L513.2,1049.4 L513.2,1048.8 L513.3,1048.3 L513.4,1047.7 L513.5,1047.2 L513.6,1046.6 L513.7,1046.1 L513.8,1045.6 L514.0,1045.1 L514.2,1044.6 L514.4,1044.1 L514.6,1043.6 L514.9,1043.2 L515.1,1042.8 L515.4,1042.4 L515.7,1042.0" fill="none" stroke="#2e5db8" stroke-width="4.8" stroke-linecap="round"/>
<path d="M492.4,1064.2 L492.7,1064.6 L493.0,1064.9 L493.2,1065.3 L493.4,1065.6 L493.6,1065.9 L493.8,1066.2 L493.9,1066.5 L494.1,1066.7 L494.2,1066.9 L494.3,1067.1 L494.4,1067.3 L494.5,1067.5 L494.5,1067.6 L494.6,1067.7 L494.6,1067.8 L494.6,1067.8 L494.6,1067.8 L494.6,1067.8" fill="none" stroke="#4479e6" stroke-width="6.0" stroke-linecap="round"/>
<path d="M498.6,1048.6 L499.0,1048.5 L499.5,1048.4 L499.9,1048.3 L500.4,1048.3 L500.8,1048.3 L501.3,1048.3 L501.8,1048.3 L502.2,1048.4 L502.7,1048.5 L503.2,1048.6 L503.7,1048.7 L504.2,1048.9 L504.7,1049.1 L505.2,1049.3 L505.7,1049.6 L506.1,1049.8 L506.6,1050.1 L507.1,1050.4 L507.5,1050.7 L508.0,1051.1 L508.4,1051.4 L508.9,1051.8 L509.3,1052.1 L509.7,1052.5 L510.1,1052.9 L510.5,1053.2 L510.8,1053.6 L511.2,1054.0 L511.5,1054.4 L511.8,1054.8 L512.1,1055.1 L512.4,1055.5 L512.7,1055.9 L513.0,1056.2 L513.2,1056.5 L513.4,1056.8 L513.6,1057.2 L513.8,1057.4 L513.9,1057.7 L514.1,1058.0 L514.2,1058.2 L514.3,1058.4 L514.4,1058.6 L514.5,1058.7 L514.5,1058.8 L514.6,1058.9 L514.6,1059.0 L514.6,1059.1 L514.6,1059.1 L514.6,1059.1" fill="none" stroke="#4479e6" stroke-width="6.0" stroke-linecap="round"/>
<path d="M466,1068 C475,1069 482,1066 489,1058" fill="none" stroke="#4479e6" stroke-width="2.3"/>
<text x="61" y="776.9" font-size="45" font-weight="bold" fill="#b01030" textLength="176" lengthAdjust="spacingAndGlyphs" font-family="Liberation Sans, sans-serif">ipTM=0.81</text>
<text x="336.5" y="854" font-size="45" font-weight="bold" fill="#3f6fd8" textLength="180" lengthAdjust="spacingAndGlyphs" font-family="Liberation Sans, sans-serif">ipTM=0.65</text>
<text x="223.5" y="954.7" font-size="46" font-weight="bold" fill="#e8940a" textLength="159.5" lengthAdjust="spacingAndGlyphs" font-family="Liberation Sans, sans-serif">14_6KPB</text>
<path d="M198,1069 L302,966.7 L408,1053" fill="none" stroke="#000" stroke-width="2.2"/>
<g font-family="Liberation Sans, sans-serif">
<text x="611" y="700.5" font-size="47" font-weight="bold" fill="#000">c</text>
<line x1="857.2" y1="730.5" x2="857.2" y2="1305.5" stroke="#d4d4d4" stroke-width="1.6"/>
<line x1="737.0" y1="1190.5" x2="1338.0" y2="1190.5" stroke="#d4d4d4" stroke-width="1.6"/>
<line x1="977.4" y1="730.5" x2="977.4" y2="1305.5" stroke="#d4d4d4" stroke-width="1.6"/>
<line x1="737.0" y1="1075.5" x2="1338.0" y2="1075.5" stroke="#d4d4d4" stroke-width="1.6"/>
<line x1="1097.6" y1="730.5" x2="1097.6" y2="1305.5" stroke="#d4d4d4" stroke-width="1.6"/>
<line x1="737.0" y1="960.5" x2="1338.0" y2="960.5" stroke="#d4d4d4" stroke-width="1.6"/>
<line x1="1217.8" y1="730.5" x2="1217.8" y2="1305.5" stroke="#d4d4d4" stroke-width="1.6"/>
<line x1="737.0" y1="845.5" x2="1338.0" y2="845.5" stroke="#d4d4d4" stroke-width="1.6"/>
<line x1="737.0" y1="1305.5" x2="1338.0" y2="730.5" stroke="#000" stroke-width="3.6"/>
<path d="M891.6,785.6L878.2,799.0L864.8,785.6L878.2,772.2Z" fill="#000" opacity="0.70"/>
<path d="M808.5,851.6L795.1,865.0L781.7,851.6L795.1,838.2Z" fill="#000" opacity="0.70"/>
<path d="M839.0,892.4L825.6,905.8L812.2,892.4L825.6,879.0Z" fill="#000" opacity="0.70"/>
<path d="M880.1,886.7L866.7,900.1L853.3,886.7L866.7,873.3Z" fill="#000" opacity="0.70"/>
<path d="M830.7,935.6L817.3,949.0L803.9,935.6L817.3,922.2Z" fill="#000" opacity="0.70"/>
<path d="M881.8,1024.4L868.4,1037.8L855.0,1024.4L868.4,1011.0Z" fill="#000" opacity="0.70"/>
<path d="M865.6,1154.4L852.2,1167.8L838.8,1154.4L852.2,1141.0Z" fill="#000" opacity="0.70"/>
<path d="M859.0,1230.7L845.6,1244.1L832.2,1230.7L845.6,1217.3Z" fill="#000" opacity="0.70"/>
<path d="M962.7,1192.2L949.3,1205.6L935.9,1192.2L949.3,1178.8Z" fill="#000" opacity="0.70"/>
<path d="M1019.6,1221.6L1006.2,1235.0L992.8,1221.6L1006.2,1208.2Z" fill="#000" opacity="0.70"/>
<path d="M1029.4,1004.0L1016.0,1017.4L1002.6,1004.0L1016.0,990.6Z" fill="#000" opacity="0.70"/>
<path d="M979.0,851.1L965.6,864.5L952.2,851.1L965.6,837.7Z" fill="#000" opacity="0.70"/>
<path d="M981.2,877.8L967.8,891.2L954.4,877.8L967.8,864.4Z" fill="#000" opacity="0.70"/>
<path d="M1021.2,894.0L1007.8,907.4L994.4,894.0L1007.8,880.6Z" fill="#000" opacity="0.70"/>
<path d="M1027.6,810.7L1014.2,824.1L1000.8,810.7L1014.2,797.3Z" fill="#000" opacity="0.70"/>
<path d="M1046.3,927.8L1032.9,941.2L1019.5,927.8L1032.9,914.4Z" fill="#000" opacity="0.70"/>
<path d="M1063.0,798.5L1049.6,811.9L1036.2,798.5L1049.6,785.1Z" fill="#000" opacity="0.70"/>
<path d="M1062.1,802.5L1048.7,815.9L1035.3,802.5L1048.7,789.1Z" fill="#000" opacity="0.70"/>
<path d="M1066.3,830.4L1052.9,843.8L1039.5,830.4L1052.9,817.0Z" fill="#000" opacity="0.70"/>
<path d="M1097.9,897.6L1084.5,911.0L1071.1,897.6L1084.5,884.2Z" fill="#000" opacity="0.70"/>
<path d="M1089.6,904.7L1076.2,918.1L1062.8,904.7L1076.2,891.3Z" fill="#000" opacity="0.70"/>
<path d="M1112.5,857.0L1099.1,870.4L1085.7,857.0L1099.1,843.6Z" fill="#000" opacity="0.70"/>
<path d="M1123.7,780.0L1110.3,793.4L1096.9,780.0L1110.3,766.6Z" fill="#000" opacity="0.70"/>
<path d="M1140.9,838.3L1127.5,851.7L1114.1,838.3L1127.5,824.9Z" fill="#000" opacity="0.70"/>
<path d="M1146.5,905.9L1133.1,919.3L1119.7,905.9L1133.1,892.5Z" fill="#000" opacity="0.70"/>
<path d="M1162.6,890.5L1149.2,903.9L1135.8,890.5L1149.2,877.1Z" fill="#000" opacity="0.70"/>
<path d="M1169.4,787.5L1156.0,800.9L1142.6,787.5L1156.0,774.1Z" fill="#000" opacity="0.70"/>
<path d="M1180.4,821.0L1167.0,834.4L1153.6,821.0L1167.0,807.6Z" fill="#000" opacity="0.70"/>
<path d="M1182.4,824.0L1169.0,837.4L1155.6,824.0L1169.0,810.6Z" fill="#000" opacity="0.70"/>
<path d="M1188.6,841.0L1175.2,854.4L1161.8,841.0L1175.2,827.6Z" fill="#000" opacity="0.70"/>
<path d="M1177.3,933.7L1163.9,947.1L1150.5,933.7L1163.9,920.3Z" fill="#000" opacity="0.70"/>
<path d="M1236.8,797.6L1223.4,811.0L1210.0,797.6L1223.4,784.2Z" fill="#000" opacity="0.70"/>
<path d="M1250.3,817.7L1236.9,831.1L1223.5,817.7L1236.9,804.3Z" fill="#000" opacity="0.70"/>
<path d="M1270.0,807.1L1256.6,820.5L1243.2,807.1L1256.6,793.7Z" fill="#000" opacity="0.70"/>
<path d="M1291.3,778.6L1277.9,792.0L1264.5,778.6L1277.9,765.2Z" fill="#000" opacity="0.70"/>
<rect x="737.0" y="730.5" width="601.0" height="575.0" fill="none" stroke="#000" stroke-width="2"/>
<line x1="1161.5" y1="933.7" x2="1209.6" y2="917.3" stroke="#000" stroke-width="2"/>
<text x="1215.5" y="924.4" font-size="34" fill="#000" textLength="116.5" lengthAdjust="spacingAndGlyphs">39_7O6N</text>
<text x="730" y="1312.5" font-size="21.5" fill="#2b4673" text-anchor="end" textLength="13.5" lengthAdjust="spacingAndGlyphs">0</text>
<text x="730" y="1197.8" font-size="21.5" fill="#000" text-anchor="end" textLength="35" lengthAdjust="spacingAndGlyphs">0.2</text>
<text x="730" y="1082.8" font-size="21.5" fill="#000" text-anchor="end" textLength="35" lengthAdjust="spacingAndGlyphs">0.4</text>
<text x="730" y="967.8" font-size="21.5" fill="#000" text-anchor="end" textLength="35" lengthAdjust="spacingAndGlyphs">0.6</text>
<text x="730" y="852.8" font-size="21.5" fill="#000" text-anchor="end" textLength="35" lengthAdjust="spacingAndGlyphs">0.8</text>
<text x="730" y="737.5" font-size="21.5" fill="#2b4673" text-anchor="end" textLength="12.5" lengthAdjust="spacingAndGlyphs">1</text>
<text x="737.0" y="1333.3" font-size="21.5" fill="#000" text-anchor="middle" textLength="12.5" lengthAdjust="spacingAndGlyphs">0</text>
<text x="857.2" y="1333.3" font-size="21.5" fill="#000" text-anchor="middle" textLength="35" lengthAdjust="spacingAndGlyphs">0.2</text>
<text x="977.4" y="1333.3" font-size="21.5" fill="#000" text-anchor="middle" textLength="35" lengthAdjust="spacingAndGlyphs">0.4</text>
<text x="1097.6" y="1333.3" font-size="21.5" fill="#000" text-anchor="middle" textLength="35" lengthAdjust="spacingAndGlyphs">0.6</text>
<text x="1217.8" y="1333.3" font-size="21.5" fill="#000" text-anchor="middle" textLength="35" lengthAdjust="spacingAndGlyphs">0.8</text>
<text x="1339.5" y="1333.3" font-size="21.5" fill="#000" text-anchor="middle" textLength="12.5" lengthAdjust="spacingAndGlyphs">1</text>
<text x="740" y="1372.9" font-size="31" fill="#000" textLength="609.5" lengthAdjust="spacingAndGlyphs">Best ipTM of Non Overlapping Fragment</text>
<text transform="translate(670.8,1280.5) rotate(-90)" x="0" y="0" font-size="31" fill="#000" textLength="537.5" lengthAdjust="spacingAndGlyphs">Best ipTM of Overlapping Fragment</text>
</g>
<g font-family="Liberation Sans, sans-serif">
<text x="9.5" y="1412.5" font-size="47" font-weight="bold" fill="#000">d</text>
<line x1="180.4" y1="1414.5" x2="180.4" y2="1948.5" stroke="#d4d4d4" stroke-width="1.7"/>
<line x1="208.1" y1="1414.5" x2="208.1" y2="1948.5" stroke="#d4d4d4" stroke-width="1.7"/>
<line x1="235.8" y1="1414.5" x2="235.8" y2="1948.5" stroke="#d4d4d4" stroke-width="1.7"/>
<line x1="263.4" y1="1414.5" x2="263.4" y2="1948.5" stroke="#d4d4d4" stroke-width="1.7"/>
<line x1="291.1" y1="1414.5" x2="291.1" y2="1948.5" stroke="#d4d4d4" stroke-width="1.7"/>
<line x1="318.8" y1="1414.5" x2="318.8" y2="1948.5" stroke="#d4d4d4" stroke-width="1.7"/>
<line x1="346.5" y1="1414.5" x2="346.5" y2="1948.5" stroke="#d4d4d4" stroke-width="1.7"/>
<line x1="374.2" y1="1414.5" x2="374.2" y2="1948.5" stroke="#d4d4d4" stroke-width="1.7"/>
<line x1="401.8" y1="1414.5" x2="401.8" y2="1948.5" stroke="#d4d4d4" stroke-width="1.7"/>
<line x1="429.5" y1="1414.5" x2="429.5" y2="1948.5" stroke="#d4d4d4" stroke-width="1.7"/>
<line x1="457.2" y1="1414.5" x2="457.2" y2="1948.5" stroke="#d4d4d4" stroke-width="1.7"/>
<line x1="484.9" y1="1414.5" x2="484.9" y2="1948.5" stroke="#d4d4d4" stroke-width="1.7"/>
<line x1="512.6" y1="1414.5" x2="512.6" y2="1948.5" stroke="#d4d4d4" stroke-width="1.7"/>
<line x1="540.2" y1="1414.5" x2="540.2" y2="1948.5" stroke="#d4d4d4" stroke-width="1.7"/>
<line x1="567.9" y1="1414.5" x2="567.9" y2="1948.5" stroke="#d4d4d4" stroke-width="1.7"/>
<line x1="595.6" y1="1414.5" x2="595.6" y2="1948.5" stroke="#d4d4d4" stroke-width="1.7"/>
<line x1="623.3" y1="1414.5" x2="623.3" y2="1948.5" stroke="#d4d4d4" stroke-width="1.7"/>
<line x1="651.0" y1="1414.5" x2="651.0" y2="1948.5" stroke="#d4d4d4" stroke-width="1.7"/>
<line x1="678.6" y1="1414.5" x2="678.6" y2="1948.5" stroke="#d4d4d4" stroke-width="1.7"/>
<line x1="706.3" y1="1414.5" x2="706.3" y2="1948.5" stroke="#d4d4d4" stroke-width="1.7"/>
<line x1="734.0" y1="1414.5" x2="734.0" y2="1948.5" stroke="#d4d4d4" stroke-width="1.7"/>
<line x1="761.7" y1="1414.5" x2="761.7" y2="1948.5" stroke="#d4d4d4" stroke-width="1.7"/>
<line x1="789.4" y1="1414.5" x2="789.4" y2="1948.5" stroke="#d4d4d4" stroke-width="1.7"/>
<line x1="817.0" y1="1414.5" x2="817.0" y2="1948.5" stroke="#d4d4d4" stroke-width="1.7"/>
<line x1="844.7" y1="1414.5" x2="844.7" y2="1948.5" stroke="#d4d4d4" stroke-width="1.7"/>
<line x1="872.4" y1="1414.5" x2="872.4" y2="1948.5" stroke="#d4d4d4" stroke-width="1.7"/>
<line x1="900.1" y1="1414.5" x2="900.1" y2="1948.5" stroke="#d4d4d4" stroke-width="1.7"/>
<line x1="927.8" y1="1414.5" x2="927.8" y2="1948.5" stroke="#d4d4d4" stroke-width="1.7"/>
<line x1="955.4" y1="1414.5" x2="955.4" y2="1948.5" stroke="#d4d4d4" stroke-width="1.7"/>
<line x1="983.1" y1="1414.5" x2="983.1" y2="1948.5" stroke="#d4d4d4" stroke-width="1.7"/>
<line x1="1010.8" y1="1414.5" x2="1010.8" y2="1948.5" stroke="#d4d4d4" stroke-width="1.7"/>
<line x1="1038.5" y1="1414.5" x2="1038.5" y2="1948.5" stroke="#d4d4d4" stroke-width="1.7"/>
<line x1="1066.2" y1="1414.5" x2="1066.2" y2="1948.5" stroke="#d4d4d4" stroke-width="1.7"/>
<line x1="1093.8" y1="1414.5" x2="1093.8" y2="1948.5" stroke="#d4d4d4" stroke-width="1.7"/>
<line x1="1121.5" y1="1414.5" x2="1121.5" y2="1948.5" stroke="#d4d4d4" stroke-width="1.7"/>
<line x1="1149.2" y1="1414.5" x2="1149.2" y2="1948.5" stroke="#d4d4d4" stroke-width="1.7"/>
<line x1="1176.9" y1="1414.5" x2="1176.9" y2="1948.5" stroke="#d4d4d4" stroke-width="1.7"/>
<line x1="1204.6" y1="1414.5" x2="1204.6" y2="1948.5" stroke="#d4d4d4" stroke-width="1.7"/>
<line x1="1232.2" y1="1414.5" x2="1232.2" y2="1948.5" stroke="#d4d4d4" stroke-width="1.7"/>
<line x1="1259.9" y1="1414.5" x2="1259.9" y2="1948.5" stroke="#d4d4d4" stroke-width="1.7"/>
<line x1="1287.6" y1="1414.5" x2="1287.6" y2="1948.5" stroke="#d4d4d4" stroke-width="1.7"/>
<line x1="1315.3" y1="1414.5" x2="1315.3" y2="1948.5" stroke="#d4d4d4" stroke-width="1.7"/>
<line x1="157.7" y1="1841.7" x2="1338.4" y2="1841.7" stroke="#d4d4d4" stroke-width="1.7"/>
<line x1="157.7" y1="1734.9" x2="1338.4" y2="1734.9" stroke="#d4d4d4" stroke-width="1.7"/>
<line x1="157.7" y1="1628.1" x2="1338.4" y2="1628.1" stroke="#d4d4d4" stroke-width="1.7"/>
<line x1="157.7" y1="1521.3" x2="1338.4" y2="1521.3" stroke="#d4d4d4" stroke-width="1.7"/>
<path d="M190.8,1580.0L180.4,1590.4L170.0,1580.0L180.4,1569.6Z" fill="#00f" stroke="#808080" stroke-width="2.1" opacity="0.72"/>
<path d="M190.8,1583.2L180.4,1593.6L170.0,1583.2L180.4,1572.8Z" fill="#00f" stroke="#808080" stroke-width="2.1" opacity="0.72"/>
<path d="M190.8,1586.4L180.4,1596.8L170.0,1586.4L180.4,1576.0Z" fill="#00f" stroke="#808080" stroke-width="2.1" opacity="0.72"/>
<path d="M190.8,1589.7L180.4,1600.1L170.0,1589.7L180.4,1579.3Z" fill="#00f" stroke="#808080" stroke-width="2.1" opacity="0.72"/>
<path d="M190.8,1592.9L180.4,1603.3L170.0,1592.9L180.4,1582.5Z" fill="#00f" stroke="#808080" stroke-width="2.1" opacity="0.72"/>
<path d="M190.8,1596.1L180.4,1606.5L170.0,1596.1L180.4,1585.7Z" fill="#00f" stroke="#808080" stroke-width="2.1" opacity="0.72"/>
<path d="M190.8,1599.3L180.4,1609.7L170.0,1599.3L180.4,1588.9Z" fill="#00f" stroke="#808080" stroke-width="2.1" opacity="0.72"/>
<path d="M190.8,1602.5L180.4,1612.9L170.0,1602.5L180.4,1592.1Z" fill="#00f" stroke="#808080" stroke-width="2.1" opacity="0.72"/>
<path d="M190.8,1605.7L180.4,1616.1L170.0,1605.7L180.4,1595.3Z" fill="#00f" stroke="#808080" stroke-width="2.1" opacity="0.72"/>
<path d="M190.8,1609.9L180.4,1620.3L170.0,1609.9L180.4,1599.5Z" fill="#00f" stroke="#808080" stroke-width="2.1" opacity="0.72"/>
<path d="M190.8,1613.1L180.4,1623.5L170.0,1613.1L180.4,1602.7Z" fill="#00f" stroke="#808080" stroke-width="2.1" opacity="0.72"/>
<path d="M190.8,1615.3L180.4,1625.7L170.0,1615.3L180.4,1604.9Z" fill="#00f" stroke="#808080" stroke-width="2.1" opacity="0.72"/>
<path d="M218.5,1745.3L208.1,1755.7L197.7,1745.3L208.1,1734.9Z" fill="#00f" stroke="#808080" stroke-width="2.1" opacity="0.72"/>
<path d="M218.5,1753.1L208.1,1763.5L197.7,1753.1L208.1,1742.7Z" fill="#00f" stroke="#808080" stroke-width="2.1" opacity="0.72"/>
<path d="M218.5,1781.0L208.1,1791.4L197.7,1781.0L208.1,1770.6Z" fill="#00f" stroke="#808080" stroke-width="2.1" opacity="0.72"/>
<path d="M218.5,1829.3L208.1,1839.7L197.7,1829.3L208.1,1818.9Z" fill="#00f" stroke="#808080" stroke-width="2.1" opacity="0.72"/>
<path d="M356.9,1844.4L346.5,1854.8L336.1,1844.4L346.5,1834.0Z" fill="#00f" stroke="#808080" stroke-width="2.1" opacity="0.72"/>
<path d="M356.9,1847.0L346.5,1857.4L336.1,1847.0L346.5,1836.6Z" fill="#00f" stroke="#808080" stroke-width="2.1" opacity="0.72"/>
<path d="M356.9,1851.1L346.5,1861.5L336.1,1851.1L346.5,1840.7Z" fill="#00f" stroke="#808080" stroke-width="2.1" opacity="0.72"/>
<path d="M384.6,1596.6L374.2,1607.0L363.8,1596.6L374.2,1586.2Z" fill="#00f" stroke="#808080" stroke-width="2.1" opacity="0.72"/>
<path d="M384.6,1757.9L374.2,1768.3L363.8,1757.9L374.2,1747.5Z" fill="#00f" stroke="#808080" stroke-width="2.1" opacity="0.72"/>
<path d="M384.6,1787.2L374.2,1797.6L363.8,1787.2L374.2,1776.8Z" fill="#00f" stroke="#808080" stroke-width="2.1" opacity="0.72"/>
<path d="M384.6,1804.3L374.2,1814.7L363.8,1804.3L374.2,1793.9Z" fill="#00f" stroke="#808080" stroke-width="2.1" opacity="0.72"/>
<path d="M384.6,1825.1L374.2,1835.5L363.8,1825.1L374.2,1814.7Z" fill="#00f" stroke="#808080" stroke-width="2.1" opacity="0.72"/>
<path d="M384.6,1838.7L374.2,1849.1L363.8,1838.7L374.2,1828.3Z" fill="#00f" stroke="#808080" stroke-width="2.1" opacity="0.72"/>
<path d="M384.6,1862.5L374.2,1872.9L363.8,1862.5L374.2,1852.1Z" fill="#00f" stroke="#808080" stroke-width="2.1" opacity="0.72"/>
<path d="M384.6,1866.8L374.2,1877.2L363.8,1866.8L374.2,1856.4Z" fill="#00f" stroke="#808080" stroke-width="2.1" opacity="0.72"/>
<path d="M384.6,1870.8L374.2,1881.2L363.8,1870.8L374.2,1860.4Z" fill="#00f" stroke="#808080" stroke-width="2.1" opacity="0.72"/>
<path d="M384.6,1876.9L374.2,1887.3L363.8,1876.9L374.2,1866.5Z" fill="#00f" stroke="#808080" stroke-width="2.1" opacity="0.72"/>
<path d="M384.6,1882.3L374.2,1892.7L363.8,1882.3L374.2,1871.9Z" fill="#00f" stroke="#808080" stroke-width="2.1" opacity="0.72"/>
<path d="M384.6,1887.4L374.2,1897.8L363.8,1887.4L374.2,1877.0Z" fill="#00f" stroke="#808080" stroke-width="2.1" opacity="0.72"/>
<path d="M384.6,1891.5L374.2,1901.9L363.8,1891.5L374.2,1881.1Z" fill="#00f" stroke="#808080" stroke-width="2.1" opacity="0.72"/>
<path d="M384.6,1897.8L374.2,1908.2L363.8,1897.8L374.2,1887.4Z" fill="#00f" stroke="#808080" stroke-width="2.1" opacity="0.72"/>
<path d="M384.6,1902.0L374.2,1912.4L363.8,1902.0L374.2,1891.6Z" fill="#00f" stroke="#808080" stroke-width="2.1" opacity="0.72"/>
<path d="M412.2,1708.2L401.8,1718.6L391.4,1708.2L401.8,1697.8Z" fill="#00f" stroke="#808080" stroke-width="2.1" opacity="0.72"/>
<path d="M412.2,1802.7L401.8,1813.1L391.4,1802.7L401.8,1792.3Z" fill="#00f" stroke="#808080" stroke-width="2.1" opacity="0.72"/>
<path d="M412.2,1814.5L401.8,1824.9L391.4,1814.5L401.8,1804.1Z" fill="#00f" stroke="#808080" stroke-width="2.1" opacity="0.72"/>
<path d="M412.2,1834.5L401.8,1844.9L391.4,1834.5L401.8,1824.1Z" fill="#00f" stroke="#808080" stroke-width="2.1" opacity="0.72"/>
<path d="M412.2,1841.7L401.8,1852.1L391.4,1841.7L401.8,1831.3Z" fill="#00f" stroke="#808080" stroke-width="2.1" opacity="0.72"/>
<path d="M412.2,1851.1L401.8,1861.5L391.4,1851.1L401.8,1840.7Z" fill="#00f" stroke="#808080" stroke-width="2.1" opacity="0.72"/>
<path d="M412.2,1880.7L401.8,1891.1L391.4,1880.7L401.8,1870.3Z" fill="#00f" stroke="#808080" stroke-width="2.1" opacity="0.72"/>
<path d="M412.2,1882.3L401.8,1892.7L391.4,1882.3L401.8,1871.9Z" fill="#00f" stroke="#808080" stroke-width="2.1" opacity="0.72"/>
<path d="M439.9,1876.0L429.5,1886.4L419.1,1876.0L429.5,1865.6Z" fill="#00f" stroke="#808080" stroke-width="2.1" opacity="0.72"/>
<path d="M439.9,1881.2L429.5,1891.6L419.1,1881.2L429.5,1870.8Z" fill="#00f" stroke="#808080" stroke-width="2.1" opacity="0.72"/>
<path d="M439.9,1885.5L429.5,1895.9L419.1,1885.5L429.5,1875.1Z" fill="#00f" stroke="#808080" stroke-width="2.1" opacity="0.72"/>
<path d="M439.9,1895.1L429.5,1905.5L419.1,1895.1L429.5,1884.7Z" fill="#00f" stroke="#808080" stroke-width="2.1" opacity="0.72"/>
<path d="M439.9,1898.8L429.5,1909.2L419.1,1898.8L429.5,1888.4Z" fill="#00f" stroke="#808080" stroke-width="2.1" opacity="0.72"/>
<path d="M467.6,1648.4L457.2,1658.8L446.8,1648.4L457.2,1638.0Z" fill="#00f" stroke="#808080" stroke-width="2.1" opacity="0.72"/>
<path d="M467.6,1649.5L457.2,1659.9L446.8,1649.5L457.2,1639.1Z" fill="#00f" stroke="#808080" stroke-width="2.1" opacity="0.72"/>
<path d="M467.6,1795.2L457.2,1805.6L446.8,1795.2L457.2,1784.8Z" fill="#00f" stroke="#808080" stroke-width="2.1" opacity="0.72"/>
<path d="M467.6,1809.7L457.2,1820.1L446.8,1809.7L457.2,1799.3Z" fill="#00f" stroke="#808080" stroke-width="2.1" opacity="0.72"/>
<path d="M467.6,1839.6L457.2,1850.0L446.8,1839.6L457.2,1829.2Z" fill="#00f" stroke="#808080" stroke-width="2.1" opacity="0.72"/>
<path d="M467.6,1852.4L457.2,1862.8L446.8,1852.4L457.2,1842.0Z" fill="#00f" stroke="#808080" stroke-width="2.1" opacity="0.72"/>
<path d="M467.6,1867.9L457.2,1878.3L446.8,1867.9L457.2,1857.5Z" fill="#00f" stroke="#808080" stroke-width="2.1" opacity="0.72"/>
<path d="M467.6,1873.7L457.2,1884.1L446.8,1873.7L457.2,1863.3Z" fill="#00f" stroke="#808080" stroke-width="2.1" opacity="0.72"/>
<path d="M467.6,1879.1L457.2,1889.5L446.8,1879.1L457.2,1868.7Z" fill="#00f" stroke="#808080" stroke-width="2.1" opacity="0.72"/>
<path d="M467.6,1884.4L457.2,1894.8L446.8,1884.4L457.2,1874.0Z" fill="#00f" stroke="#808080" stroke-width="2.1" opacity="0.72"/>
<path d="M467.6,1889.8L457.2,1900.2L446.8,1889.8L457.2,1879.4Z" fill="#00f" stroke="#808080" stroke-width="2.1" opacity="0.72"/>
<path d="M467.6,1895.6L457.2,1906.0L446.8,1895.6L457.2,1885.2Z" fill="#00f" stroke="#808080" stroke-width="2.1" opacity="0.72"/>
<path d="M467.6,1903.1L457.2,1913.5L446.8,1903.1L457.2,1892.7Z" fill="#00f" stroke="#808080" stroke-width="2.1" opacity="0.72"/>
<path d="M495.3,1869.2L484.9,1879.6L474.5,1869.2L484.9,1858.8Z" fill="#00f" stroke="#808080" stroke-width="2.1" opacity="0.72"/>
<path d="M523.0,1671.4L512.6,1681.8L502.2,1671.4L512.6,1661.0Z" fill="#00f" stroke="#808080" stroke-width="2.1" opacity="0.72"/>
<path d="M523.0,1825.8L512.6,1836.2L502.2,1825.8L512.6,1815.4Z" fill="#00f" stroke="#808080" stroke-width="2.1" opacity="0.72"/>
<path d="M523.0,1848.1L512.6,1858.5L502.2,1848.1L512.6,1837.7Z" fill="#00f" stroke="#808080" stroke-width="2.1" opacity="0.72"/>
<path d="M550.6,1601.9L540.2,1612.3L529.8,1601.9L540.2,1591.5Z" fill="#00f" stroke="#808080" stroke-width="2.1" opacity="0.72"/>
<path d="M550.6,1630.8L540.2,1641.2L529.8,1630.8L540.2,1620.4Z" fill="#00f" stroke="#808080" stroke-width="2.1" opacity="0.72"/>
<path d="M550.6,1668.2L540.2,1678.6L529.8,1668.2L540.2,1657.8Z" fill="#00f" stroke="#808080" stroke-width="2.1" opacity="0.72"/>
<path d="M550.6,1775.0L540.2,1785.4L529.8,1775.0L540.2,1764.5Z" fill="#00f" stroke="#808080" stroke-width="2.1" opacity="0.72"/>
<path d="M550.6,1827.9L540.2,1838.3L529.8,1827.9L540.2,1817.5Z" fill="#00f" stroke="#808080" stroke-width="2.1" opacity="0.72"/>
<path d="M578.3,1626.5L567.9,1636.9L557.5,1626.5L567.9,1616.1Z" fill="#00f" stroke="#808080" stroke-width="2.1" opacity="0.72"/>
<path d="M578.3,1741.3L567.9,1751.7L557.5,1741.3L567.9,1730.9Z" fill="#00f" stroke="#808080" stroke-width="2.1" opacity="0.72"/>
<path d="M578.3,1864.1L567.9,1874.5L557.5,1864.1L567.9,1853.7Z" fill="#00f" stroke="#808080" stroke-width="2.1" opacity="0.72"/>
<path d="M606.0,1701.8L595.6,1712.2L585.2,1701.8L595.6,1691.4Z" fill="#00f" stroke="#808080" stroke-width="2.1" opacity="0.72"/>
<path d="M606.0,1747.4L595.6,1757.8L585.2,1747.4L595.6,1737.0Z" fill="#00f" stroke="#808080" stroke-width="2.1" opacity="0.72"/>
<path d="M606.0,1786.2L595.6,1796.6L585.2,1786.2L595.6,1775.8Z" fill="#00f" stroke="#808080" stroke-width="2.1" opacity="0.72"/>
<path d="M606.0,1808.6L595.6,1819.0L585.2,1808.6L595.6,1798.2Z" fill="#00f" stroke="#808080" stroke-width="2.1" opacity="0.72"/>
<path d="M606.0,1812.9L595.6,1823.3L585.2,1812.9L595.6,1802.5Z" fill="#00f" stroke="#808080" stroke-width="2.1" opacity="0.72"/>
<path d="M606.0,1872.9L595.6,1883.3L585.2,1872.9L595.6,1862.5Z" fill="#00f" stroke="#808080" stroke-width="2.1" opacity="0.72"/>
<path d="M606.0,1880.1L595.6,1890.5L585.2,1880.1L595.6,1869.7Z" fill="#00f" stroke="#808080" stroke-width="2.1" opacity="0.72"/>
<path d="M606.0,1885.5L595.6,1895.9L585.2,1885.5L595.6,1875.1Z" fill="#00f" stroke="#808080" stroke-width="2.1" opacity="0.72"/>
<path d="M606.0,1891.6L595.6,1902.0L585.2,1891.6L595.6,1881.2Z" fill="#00f" stroke="#808080" stroke-width="2.1" opacity="0.72"/>
<path d="M661.4,1822.7L651.0,1833.1L640.6,1822.7L651.0,1812.3Z" fill="#00f" stroke="#808080" stroke-width="2.1" opacity="0.72"/>
<path d="M661.4,1868.4L651.0,1878.8L640.6,1868.4L651.0,1858.0Z" fill="#00f" stroke="#808080" stroke-width="2.1" opacity="0.72"/>
<path d="M661.4,1883.4L651.0,1893.8L640.6,1883.4L651.0,1873.0Z" fill="#00f" stroke="#808080" stroke-width="2.1" opacity="0.72"/>
<path d="M689.0,1742.9L678.6,1753.3L668.2,1742.9L678.6,1732.5Z" fill="#00f" stroke="#808080" stroke-width="2.1" opacity="0.72"/>
<path d="M689.0,1749.5L678.6,1759.9L668.2,1749.5L678.6,1739.1Z" fill="#00f" stroke="#808080" stroke-width="2.1" opacity="0.72"/>
<path d="M689.0,1754.7L678.6,1765.1L668.2,1754.7L678.6,1744.3Z" fill="#00f" stroke="#808080" stroke-width="2.1" opacity="0.72"/>
<path d="M689.0,1761.1L678.6,1771.5L668.2,1761.1L678.6,1750.7Z" fill="#00f" stroke="#808080" stroke-width="2.1" opacity="0.72"/>
<path d="M772.1,1617.4L761.7,1627.8L751.3,1617.4L761.7,1607.0Z" fill="#00f" stroke="#808080" stroke-width="2.1" opacity="0.72"/>
<path d="M772.1,1650.5L761.7,1660.9L751.3,1650.5L761.7,1640.1Z" fill="#00f" stroke="#808080" stroke-width="2.1" opacity="0.72"/>
<path d="M772.1,1661.7L761.7,1672.1L751.3,1661.7L761.7,1651.3Z" fill="#00f" stroke="#808080" stroke-width="2.1" opacity="0.72"/>
<path d="M772.1,1668.2L761.7,1678.6L751.3,1668.2L761.7,1657.8Z" fill="#00f" stroke="#808080" stroke-width="2.1" opacity="0.72"/>
<path d="M772.1,1672.4L761.7,1682.8L751.3,1672.4L761.7,1662.0Z" fill="#00f" stroke="#808080" stroke-width="2.1" opacity="0.72"/>
<path d="M799.8,1851.8L789.4,1862.2L779.0,1851.8L789.4,1841.4Z" fill="#00f" stroke="#808080" stroke-width="2.1" opacity="0.72"/>
<path d="M799.8,1889.9L789.4,1900.3L779.0,1889.9L789.4,1879.5Z" fill="#00f" stroke="#808080" stroke-width="2.1" opacity="0.72"/>
<path d="M799.8,1910.2L789.4,1920.6L779.0,1910.2L789.4,1899.8Z" fill="#00f" stroke="#808080" stroke-width="2.1" opacity="0.72"/>
<path d="M827.4,1667.1L817.0,1677.5L806.6,1667.1L817.0,1656.7Z" fill="#00f" stroke="#808080" stroke-width="2.1" opacity="0.72"/>
<path d="M827.4,1676.4L817.0,1686.8L806.6,1676.4L817.0,1666.0Z" fill="#00f" stroke="#808080" stroke-width="2.1" opacity="0.72"/>
<path d="M827.4,1747.4L817.0,1757.8L806.6,1747.4L817.0,1737.0Z" fill="#00f" stroke="#808080" stroke-width="2.1" opacity="0.72"/>
<path d="M827.4,1851.1L817.0,1861.5L806.6,1851.1L817.0,1840.7Z" fill="#00f" stroke="#808080" stroke-width="2.1" opacity="0.72"/>
<path d="M827.4,1856.3L817.0,1866.7L806.6,1856.3L817.0,1845.9Z" fill="#00f" stroke="#808080" stroke-width="2.1" opacity="0.72"/>
<path d="M827.4,1861.5L817.0,1871.9L806.6,1861.5L817.0,1851.1Z" fill="#00f" stroke="#808080" stroke-width="2.1" opacity="0.72"/>
<path d="M855.1,1760.0L844.7,1770.4L834.3,1760.0L844.7,1749.6Z" fill="#00f" stroke="#808080" stroke-width="2.1" opacity="0.72"/>
<path d="M855.1,1813.9L844.7,1824.3L834.3,1813.9L844.7,1803.5Z" fill="#00f" stroke="#808080" stroke-width="2.1" opacity="0.72"/>
<path d="M855.1,1860.4L844.7,1870.8L834.3,1860.4L844.7,1850.0Z" fill="#00f" stroke="#808080" stroke-width="2.1" opacity="0.72"/>
<path d="M855.1,1870.0L844.7,1880.4L834.3,1870.0L844.7,1859.6Z" fill="#00f" stroke="#808080" stroke-width="2.1" opacity="0.72"/>
<path d="M882.8,1567.2L872.4,1577.6L862.0,1567.2L872.4,1556.8Z" fill="#00f" stroke="#808080" stroke-width="2.1" opacity="0.72"/>
<path d="M882.8,1608.9L872.4,1619.3L862.0,1608.9L872.4,1598.5Z" fill="#00f" stroke="#808080" stroke-width="2.1" opacity="0.72"/>
<path d="M882.8,1638.0L872.4,1648.4L862.0,1638.0L872.4,1627.6Z" fill="#00f" stroke="#808080" stroke-width="2.1" opacity="0.72"/>
<path d="M882.8,1644.1L872.4,1654.5L862.0,1644.1L872.4,1633.7Z" fill="#00f" stroke="#808080" stroke-width="2.1" opacity="0.72"/>
<path d="M882.8,1654.6L872.4,1665.0L862.0,1654.6L872.4,1644.2Z" fill="#00f" stroke="#808080" stroke-width="2.1" opacity="0.72"/>
<path d="M882.8,1661.7L872.4,1672.1L862.0,1661.7L872.4,1651.3Z" fill="#00f" stroke="#808080" stroke-width="2.1" opacity="0.72"/>
<path d="M882.8,1667.1L872.4,1677.5L862.0,1667.1L872.4,1656.7Z" fill="#00f" stroke="#808080" stroke-width="2.1" opacity="0.72"/>
<path d="M882.8,1671.9L872.4,1682.3L862.0,1671.9L872.4,1661.5Z" fill="#00f" stroke="#808080" stroke-width="2.1" opacity="0.72"/>
<path d="M882.8,1676.4L872.4,1686.8L862.0,1676.4L872.4,1666.0Z" fill="#00f" stroke="#808080" stroke-width="2.1" opacity="0.72"/>
<path d="M882.8,1681.0L872.4,1691.4L862.0,1681.0L872.4,1670.6Z" fill="#00f" stroke="#808080" stroke-width="2.1" opacity="0.72"/>
<path d="M910.5,1639.8L900.1,1650.2L889.7,1639.8L900.1,1629.4Z" fill="#00f" stroke="#808080" stroke-width="2.1" opacity="0.72"/>
<path d="M910.5,1685.8L900.1,1696.2L889.7,1685.8L900.1,1675.4Z" fill="#00f" stroke="#808080" stroke-width="2.1" opacity="0.72"/>
<path d="M910.5,1750.4L900.1,1760.8L889.7,1750.4L900.1,1740.0Z" fill="#00f" stroke="#808080" stroke-width="2.1" opacity="0.72"/>
<path d="M910.5,1779.2L900.1,1789.6L889.7,1779.2L900.1,1768.8Z" fill="#00f" stroke="#808080" stroke-width="2.1" opacity="0.72"/>
<path d="M910.5,1818.5L900.1,1828.9L889.7,1818.5L900.1,1808.1Z" fill="#00f" stroke="#808080" stroke-width="2.1" opacity="0.72"/>
<path d="M910.5,1842.2L900.1,1852.6L889.7,1842.2L900.1,1831.8Z" fill="#00f" stroke="#808080" stroke-width="2.1" opacity="0.72"/>
<path d="M910.5,1861.5L900.1,1871.9L889.7,1861.5L900.1,1851.1Z" fill="#00f" stroke="#808080" stroke-width="2.1" opacity="0.72"/>
<path d="M910.5,1864.7L900.1,1875.1L889.7,1864.7L900.1,1854.3Z" fill="#00f" stroke="#808080" stroke-width="2.1" opacity="0.72"/>
<path d="M910.5,1880.1L900.1,1890.5L889.7,1880.1L900.1,1869.7Z" fill="#00f" stroke="#808080" stroke-width="2.1" opacity="0.72"/>
<path d="M910.5,1889.9L900.1,1900.3L889.7,1889.9L900.1,1879.5Z" fill="#00f" stroke="#808080" stroke-width="2.1" opacity="0.72"/>
<path d="M938.2,1565.6L927.8,1576.0L917.4,1565.6L927.8,1555.2Z" fill="#00f" stroke="#808080" stroke-width="2.1" opacity="0.72"/>
<path d="M938.2,1609.4L927.8,1619.8L917.4,1609.4L927.8,1599.0Z" fill="#00f" stroke="#808080" stroke-width="2.1" opacity="0.72"/>
<path d="M938.2,1763.2L927.8,1773.6L917.4,1763.2L927.8,1752.8Z" fill="#00f" stroke="#808080" stroke-width="2.1" opacity="0.72"/>
<path d="M938.2,1768.0L927.8,1778.4L917.4,1768.0L927.8,1757.6Z" fill="#00f" stroke="#808080" stroke-width="2.1" opacity="0.72"/>
<path d="M938.2,1783.5L927.8,1793.9L917.4,1783.5L927.8,1773.1Z" fill="#00f" stroke="#808080" stroke-width="2.1" opacity="0.72"/>
<path d="M938.2,1815.0L927.8,1825.4L917.4,1815.0L927.8,1804.6Z" fill="#00f" stroke="#808080" stroke-width="2.1" opacity="0.72"/>
<path d="M938.2,1880.1L927.8,1890.5L917.4,1880.1L927.8,1869.7Z" fill="#00f" stroke="#808080" stroke-width="2.1" opacity="0.72"/>
<path d="M965.8,1709.0L955.4,1719.4L945.0,1709.0L955.4,1698.6Z" fill="#00f" stroke="#808080" stroke-width="2.1" opacity="0.72"/>
<path d="M965.8,1746.1L955.4,1756.5L945.0,1746.1L955.4,1735.7Z" fill="#00f" stroke="#808080" stroke-width="2.1" opacity="0.72"/>
<path d="M965.8,1863.6L955.4,1874.0L945.0,1863.6L955.4,1853.2Z" fill="#00f" stroke="#808080" stroke-width="2.1" opacity="0.72"/>
<path d="M965.8,1876.9L955.4,1887.3L945.0,1876.9L955.4,1866.5Z" fill="#00f" stroke="#808080" stroke-width="2.1" opacity="0.72"/>
<path d="M965.8,1886.4L955.4,1896.8L945.0,1886.4L955.4,1876.0Z" fill="#00f" stroke="#808080" stroke-width="2.1" opacity="0.72"/>
<path d="M993.5,1896.7L983.1,1907.1L972.7,1896.7L983.1,1886.3Z" fill="#00f" stroke="#808080" stroke-width="2.1" opacity="0.72"/>
<path d="M993.5,1912.2L983.1,1922.6L972.7,1912.2L983.1,1901.8Z" fill="#00f" stroke="#808080" stroke-width="2.1" opacity="0.72"/>
<path d="M993.5,1916.5L983.1,1926.9L972.7,1916.5L983.1,1906.1Z" fill="#00f" stroke="#808080" stroke-width="2.1" opacity="0.72"/>
<path d="M993.5,1927.9L983.1,1938.3L972.7,1927.9L983.1,1917.5Z" fill="#00f" stroke="#808080" stroke-width="2.1" opacity="0.72"/>
<path d="M1021.2,1559.7L1010.8,1570.1L1000.4,1559.7L1010.8,1549.3Z" fill="#00f" stroke="#808080" stroke-width="2.1" opacity="0.72"/>
<path d="M1021.2,1729.8L1010.8,1740.2L1000.4,1729.8L1010.8,1719.4Z" fill="#00f" stroke="#808080" stroke-width="2.1" opacity="0.72"/>
<path d="M1021.2,1837.6L1010.8,1848.0L1000.4,1837.6L1010.8,1827.2Z" fill="#00f" stroke="#808080" stroke-width="2.1" opacity="0.72"/>
<path d="M1021.2,1840.6L1010.8,1851.0L1000.4,1840.6L1010.8,1830.2Z" fill="#00f" stroke="#808080" stroke-width="2.1" opacity="0.72"/>
<path d="M1021.2,1852.1L1010.8,1862.5L1000.4,1852.1L1010.8,1841.7Z" fill="#00f" stroke="#808080" stroke-width="2.1" opacity="0.72"/>
<path d="M1021.2,1858.3L1010.8,1868.7L1000.4,1858.3L1010.8,1847.9Z" fill="#00f" stroke="#808080" stroke-width="2.1" opacity="0.72"/>
<path d="M1021.2,1869.8L1010.8,1880.2L1000.4,1869.8L1010.8,1859.4Z" fill="#00f" stroke="#808080" stroke-width="2.1" opacity="0.72"/>
<path d="M1048.9,1505.3L1038.5,1515.7L1028.1,1505.3L1038.5,1494.9Z" fill="#00f" stroke="#808080" stroke-width="2.1" opacity="0.72"/>
<path d="M1048.9,1560.3L1038.5,1570.7L1028.1,1560.3L1038.5,1549.9Z" fill="#00f" stroke="#808080" stroke-width="2.1" opacity="0.72"/>
<path d="M1048.9,1739.2L1038.5,1749.6L1028.1,1739.2L1038.5,1728.8Z" fill="#00f" stroke="#808080" stroke-width="2.1" opacity="0.72"/>
<path d="M1048.9,1771.2L1038.5,1781.6L1028.1,1771.2L1038.5,1760.8Z" fill="#00f" stroke="#808080" stroke-width="2.1" opacity="0.72"/>
<path d="M1048.9,1882.3L1038.5,1892.7L1028.1,1882.3L1038.5,1871.9Z" fill="#00f" stroke="#808080" stroke-width="2.1" opacity="0.72"/>
<path d="M1076.6,1516.5L1066.2,1526.9L1055.8,1516.5L1066.2,1506.1Z" fill="#00f" stroke="#808080" stroke-width="2.1" opacity="0.72"/>
<path d="M1076.6,1534.1L1066.2,1544.5L1055.8,1534.1L1066.2,1523.7Z" fill="#00f" stroke="#808080" stroke-width="2.1" opacity="0.72"/>
<path d="M1076.6,1607.3L1066.2,1617.7L1055.8,1607.3L1066.2,1596.9Z" fill="#00f" stroke="#808080" stroke-width="2.1" opacity="0.72"/>
<path d="M1076.6,1629.7L1066.2,1640.1L1055.8,1629.7L1066.2,1619.3Z" fill="#00f" stroke="#808080" stroke-width="2.1" opacity="0.72"/>
<path d="M1076.6,1713.2L1066.2,1723.6L1055.8,1713.2L1066.2,1702.8Z" fill="#00f" stroke="#808080" stroke-width="2.1" opacity="0.72"/>
<path d="M1076.6,1823.7L1066.2,1834.1L1055.8,1823.7L1066.2,1813.3Z" fill="#00f" stroke="#808080" stroke-width="2.1" opacity="0.72"/>
<path d="M1076.6,1860.4L1066.2,1870.8L1055.8,1860.4L1066.2,1850.0Z" fill="#00f" stroke="#808080" stroke-width="2.1" opacity="0.72"/>
<path d="M1076.6,1873.9L1066.2,1884.3L1055.8,1873.9L1066.2,1863.5Z" fill="#00f" stroke="#808080" stroke-width="2.1" opacity="0.72"/>
<path d="M1076.6,1882.3L1066.2,1892.7L1055.8,1882.3L1066.2,1871.9Z" fill="#00f" stroke="#808080" stroke-width="2.1" opacity="0.72"/>
<path d="M1076.6,1885.5L1066.2,1895.9L1055.8,1885.5L1066.2,1875.1Z" fill="#00f" stroke="#808080" stroke-width="2.1" opacity="0.72"/>
<path d="M1076.6,1903.1L1066.2,1913.5L1055.8,1903.1L1066.2,1892.7Z" fill="#00f" stroke="#808080" stroke-width="2.1" opacity="0.72"/>
<path d="M1104.2,1700.3L1093.8,1710.7L1083.4,1700.3L1093.8,1689.9Z" fill="#00f" stroke="#808080" stroke-width="2.1" opacity="0.72"/>
<path d="M1104.2,1713.2L1093.8,1723.6L1083.4,1713.2L1093.8,1702.8Z" fill="#00f" stroke="#808080" stroke-width="2.1" opacity="0.72"/>
<path d="M1104.2,1735.6L1093.8,1746.0L1083.4,1735.6L1093.8,1725.2Z" fill="#00f" stroke="#808080" stroke-width="2.1" opacity="0.72"/>
<path d="M1104.2,1756.8L1093.8,1767.2L1083.4,1756.8L1093.8,1746.4Z" fill="#00f" stroke="#808080" stroke-width="2.1" opacity="0.72"/>
<path d="M1104.2,1779.8L1093.8,1790.2L1083.4,1779.8L1093.8,1769.4Z" fill="#00f" stroke="#808080" stroke-width="2.1" opacity="0.72"/>
<path d="M1104.2,1803.8L1093.8,1814.2L1083.4,1803.8L1093.8,1793.4Z" fill="#00f" stroke="#808080" stroke-width="2.1" opacity="0.72"/>
<path d="M1104.2,1832.1L1093.8,1842.5L1083.4,1832.1L1093.8,1821.7Z" fill="#00f" stroke="#808080" stroke-width="2.1" opacity="0.72"/>
<path d="M1104.2,1843.8L1093.8,1854.2L1083.4,1843.8L1093.8,1833.4Z" fill="#00f" stroke="#808080" stroke-width="2.1" opacity="0.72"/>
<path d="M1104.2,1850.2L1093.8,1860.6L1083.4,1850.2L1093.8,1839.8Z" fill="#00f" stroke="#808080" stroke-width="2.1" opacity="0.72"/>
<path d="M1104.2,1860.4L1093.8,1870.8L1083.4,1860.4L1093.8,1850.0Z" fill="#00f" stroke="#808080" stroke-width="2.1" opacity="0.72"/>
<path d="M1104.2,1870.0L1093.8,1880.4L1083.4,1870.0L1093.8,1859.6Z" fill="#00f" stroke="#808080" stroke-width="2.1" opacity="0.72"/>
<path d="M1104.2,1875.3L1093.8,1885.7L1083.4,1875.3L1093.8,1864.9Z" fill="#00f" stroke="#808080" stroke-width="2.1" opacity="0.72"/>
<path d="M1104.2,1887.6L1093.8,1898.0L1083.4,1887.6L1093.8,1877.2Z" fill="#00f" stroke="#808080" stroke-width="2.1" opacity="0.72"/>
<path d="M1104.2,1891.4L1093.8,1901.8L1083.4,1891.4L1093.8,1881.0Z" fill="#00f" stroke="#808080" stroke-width="2.1" opacity="0.72"/>
<path d="M1104.2,1896.7L1093.8,1907.1L1083.4,1896.7L1093.8,1886.3Z" fill="#00f" stroke="#808080" stroke-width="2.1" opacity="0.72"/>
<path d="M1104.2,1902.0L1093.8,1912.4L1083.4,1902.0L1093.8,1891.6Z" fill="#00f" stroke="#808080" stroke-width="2.1" opacity="0.72"/>
<path d="M1104.2,1908.2L1093.8,1918.6L1083.4,1908.2L1093.8,1897.8Z" fill="#00f" stroke="#808080" stroke-width="2.1" opacity="0.72"/>
<path d="M1131.9,1832.4L1121.5,1842.8L1111.1,1832.4L1121.5,1822.0Z" fill="#00f" stroke="#808080" stroke-width="2.1" opacity="0.72"/>
<path d="M1131.9,1832.4L1121.5,1842.8L1111.1,1832.4L1121.5,1822.0Z" fill="#00f" stroke="#808080" stroke-width="2.1" opacity="0.72"/>
<path d="M1159.6,1671.9L1149.2,1682.3L1138.8,1671.9L1149.2,1661.5Z" fill="#00f" stroke="#808080" stroke-width="2.1" opacity="0.72"/>
<path d="M1159.6,1871.2L1149.2,1881.6L1138.8,1871.2L1149.2,1860.8Z" fill="#00f" stroke="#808080" stroke-width="2.1" opacity="0.72"/>
<path d="M1187.3,1833.2L1176.9,1843.6L1166.5,1833.2L1176.9,1822.8Z" fill="#00f" stroke="#808080" stroke-width="2.1" opacity="0.72"/>
<path d="M1215.0,1468.4L1204.6,1478.8L1194.2,1468.4L1204.6,1458.0Z" fill="#00f" stroke="#808080" stroke-width="2.1" opacity="0.72"/>
<path d="M1215.0,1477.0L1204.6,1487.4L1194.2,1477.0L1204.6,1466.6Z" fill="#00f" stroke="#808080" stroke-width="2.1" opacity="0.72"/>
<path d="M1242.6,1569.5L1232.2,1579.9L1221.8,1569.5L1232.2,1559.1Z" fill="#00f" stroke="#808080" stroke-width="2.1" opacity="0.72"/>
<path d="M1242.6,1638.0L1232.2,1648.4L1221.8,1638.0L1232.2,1627.6Z" fill="#00f" stroke="#808080" stroke-width="2.1" opacity="0.72"/>
<path d="M1242.6,1857.3L1232.2,1867.7L1221.8,1857.3L1232.2,1846.9Z" fill="#00f" stroke="#808080" stroke-width="2.1" opacity="0.72"/>
<path d="M1270.3,1576.4L1259.9,1586.8L1249.5,1576.4L1259.9,1566.0Z" fill="#00f" stroke="#808080" stroke-width="2.1" opacity="0.72"/>
<path d="M1270.3,1595.5L1259.9,1605.9L1249.5,1595.5L1259.9,1585.1Z" fill="#00f" stroke="#808080" stroke-width="2.1" opacity="0.72"/>
<path d="M1270.3,1604.6L1259.9,1615.0L1249.5,1604.6L1259.9,1594.2Z" fill="#00f" stroke="#808080" stroke-width="2.1" opacity="0.72"/>
<path d="M1270.3,1611.0L1259.9,1621.4L1249.5,1611.0L1259.9,1600.6Z" fill="#00f" stroke="#808080" stroke-width="2.1" opacity="0.72"/>
<path d="M1270.3,1614.8L1259.9,1625.2L1249.5,1614.8L1259.9,1604.3Z" fill="#00f" stroke="#808080" stroke-width="2.1" opacity="0.72"/>
<path d="M1270.3,1618.5L1259.9,1628.9L1249.5,1618.5L1259.9,1608.1Z" fill="#00f" stroke="#808080" stroke-width="2.1" opacity="0.72"/>
<path d="M1270.3,1623.8L1259.9,1634.2L1249.5,1623.8L1259.9,1613.4Z" fill="#00f" stroke="#808080" stroke-width="2.1" opacity="0.72"/>
<path d="M1270.3,1628.1L1259.9,1638.5L1249.5,1628.1L1259.9,1617.7Z" fill="#00f" stroke="#808080" stroke-width="2.1" opacity="0.72"/>
<path d="M1270.3,1635.6L1259.9,1646.0L1249.5,1635.6L1259.9,1625.2Z" fill="#00f" stroke="#808080" stroke-width="2.1" opacity="0.72"/>
<path d="M1270.3,1637.2L1259.9,1647.6L1249.5,1637.2L1259.9,1626.8Z" fill="#00f" stroke="#808080" stroke-width="2.1" opacity="0.72"/>
<path d="M1298.0,1485.9L1287.6,1496.3L1277.2,1485.9L1287.6,1475.5Z" fill="#00f" stroke="#808080" stroke-width="2.1" opacity="0.72"/>
<path d="M1298.0,1638.0L1287.6,1648.4L1277.2,1638.0L1287.6,1627.6Z" fill="#00f" stroke="#808080" stroke-width="2.1" opacity="0.72"/>
<path d="M1298.0,1679.9L1287.6,1690.3L1277.2,1679.9L1287.6,1669.5Z" fill="#00f" stroke="#808080" stroke-width="2.1" opacity="0.72"/>
<path d="M1298.0,1695.4L1287.6,1705.8L1277.2,1695.4L1287.6,1685.0Z" fill="#00f" stroke="#808080" stroke-width="2.1" opacity="0.72"/>
<path d="M1298.0,1794.7L1287.6,1805.1L1277.2,1794.7L1287.6,1784.3Z" fill="#00f" stroke="#808080" stroke-width="2.1" opacity="0.72"/>
<path d="M1298.0,1833.7L1287.6,1844.1L1277.2,1833.7L1287.6,1823.3Z" fill="#00f" stroke="#808080" stroke-width="2.1" opacity="0.72"/>
<path d="M1298.0,1862.8L1287.6,1873.2L1277.2,1862.8L1287.6,1852.4Z" fill="#00f" stroke="#808080" stroke-width="2.1" opacity="0.72"/>
<path d="M1298.0,1866.0L1287.6,1876.4L1277.2,1866.0L1287.6,1855.6Z" fill="#00f" stroke="#808080" stroke-width="2.1" opacity="0.72"/>
<path d="M1298.0,1876.9L1287.6,1887.3L1277.2,1876.9L1287.6,1866.5Z" fill="#00f" stroke="#808080" stroke-width="2.1" opacity="0.72"/>
<path d="M1298.0,1894.6L1287.6,1905.0L1277.2,1894.6L1287.6,1884.2Z" fill="#00f" stroke="#808080" stroke-width="2.1" opacity="0.72"/>
<path d="M1325.7,1685.8L1315.3,1696.2L1304.9,1685.8L1315.3,1675.4Z" fill="#00f" stroke="#808080" stroke-width="2.1" opacity="0.72"/>
<path d="M1325.7,1706.6L1315.3,1717.0L1304.9,1706.6L1315.3,1696.2Z" fill="#00f" stroke="#808080" stroke-width="2.1" opacity="0.72"/>
<path d="M1325.7,1735.1L1315.3,1745.5L1304.9,1735.1L1315.3,1724.7Z" fill="#00f" stroke="#808080" stroke-width="2.1" opacity="0.72"/>
<path d="M1325.7,1737.6L1315.3,1748.0L1304.9,1737.6L1315.3,1727.2Z" fill="#00f" stroke="#808080" stroke-width="2.1" opacity="0.72"/>
<path d="M1325.7,1740.8L1315.3,1751.2L1304.9,1740.8L1315.3,1730.4Z" fill="#00f" stroke="#808080" stroke-width="2.1" opacity="0.72"/>
<path d="M1325.7,1744.8L1315.3,1755.2L1304.9,1744.8L1315.3,1734.4Z" fill="#00f" stroke="#808080" stroke-width="2.1" opacity="0.72"/>
<path d="M1325.7,1748.8L1315.3,1759.2L1304.9,1748.8L1315.3,1738.4Z" fill="#00f" stroke="#808080" stroke-width="2.1" opacity="0.72"/>
<path d="M1325.7,1752.6L1315.3,1763.0L1304.9,1752.6L1315.3,1742.2Z" fill="#00f" stroke="#808080" stroke-width="2.1" opacity="0.72"/>
<path d="M1325.7,1756.3L1315.3,1766.7L1304.9,1756.3L1315.3,1745.9Z" fill="#00f" stroke="#808080" stroke-width="2.1" opacity="0.72"/>
<path d="M1325.7,1760.5L1315.3,1770.9L1304.9,1760.5L1315.3,1750.1Z" fill="#00f" stroke="#808080" stroke-width="2.1" opacity="0.72"/>
<path d="M1325.7,1770.7L1315.3,1781.1L1304.9,1770.7L1315.3,1760.3Z" fill="#00f" stroke="#808080" stroke-width="2.1" opacity="0.72"/>
<path d="M190.7,1563.0L180.4,1573.2L170.2,1563.0L180.4,1552.7Z" fill="#f00" stroke="#000" stroke-width="4" opacity="0.72"/>
<path d="M218.3,1527.2L208.1,1537.4L197.8,1527.2L208.1,1516.9Z" fill="#f00" stroke="#000" stroke-width="4" opacity="0.72"/>
<path d="M246.0,1502.1L235.8,1512.3L225.5,1502.1L235.8,1491.8Z" fill="#f00" stroke="#000" stroke-width="4" opacity="0.72"/>
<path d="M273.7,1858.4L263.4,1868.7L253.2,1858.4L263.4,1848.2Z" fill="#f00" stroke="#000" stroke-width="4" opacity="0.72"/>
<path d="M301.4,1792.6L291.1,1802.8L280.9,1792.6L291.1,1782.3Z" fill="#f00" stroke="#000" stroke-width="4" opacity="0.72"/>
<path d="M329.1,1494.1L318.8,1504.3L308.6,1494.1L318.8,1483.8Z" fill="#f00" stroke="#000" stroke-width="4" opacity="0.72"/>
<path d="M356.7,1808.6L346.5,1818.8L336.2,1808.6L346.5,1798.3Z" fill="#f00" stroke="#000" stroke-width="4" opacity="0.72"/>
<path d="M384.4,1576.8L374.2,1587.1L363.9,1576.8L374.2,1566.6Z" fill="#f00" stroke="#000" stroke-width="4" opacity="0.72"/>
<path d="M412.1,1566.4L401.8,1576.7L391.6,1566.4L401.8,1556.2Z" fill="#f00" stroke="#000" stroke-width="4" opacity="0.72"/>
<path d="M439.8,1604.8L429.5,1615.1L419.3,1604.8L429.5,1594.6Z" fill="#f00" stroke="#000" stroke-width="4" opacity="0.72"/>
<path d="M467.5,1575.8L457.2,1586.0L447.0,1575.8L457.2,1565.5Z" fill="#f00" stroke="#000" stroke-width="4" opacity="0.72"/>
<path d="M495.1,1564.8L484.9,1575.1L474.6,1564.8L484.9,1554.6Z" fill="#f00" stroke="#000" stroke-width="4" opacity="0.72"/>
<path d="M522.8,1477.7L512.6,1488.0L502.3,1477.7L512.6,1467.5Z" fill="#f00" stroke="#000" stroke-width="4" opacity="0.72"/>
<path d="M550.5,1514.6L540.2,1524.9L530.0,1514.6L540.2,1504.4Z" fill="#f00" stroke="#000" stroke-width="4" opacity="0.72"/>
<path d="M578.2,1532.0L567.9,1542.2L557.7,1532.0L567.9,1521.7Z" fill="#f00" stroke="#000" stroke-width="4" opacity="0.72"/>
<path d="M605.9,1488.7L595.6,1499.0L585.4,1488.7L595.6,1478.5Z" fill="#f00" stroke="#000" stroke-width="4" opacity="0.72"/>
<path d="M633.5,1459.9L623.3,1470.1L613.0,1459.9L623.3,1449.6Z" fill="#f00" stroke="#000" stroke-width="4" opacity="0.72"/>
<path d="M661.2,1465.2L651.0,1475.5L640.7,1465.2L651.0,1455.0Z" fill="#f00" stroke="#000" stroke-width="4" opacity="0.72"/>
<path d="M688.9,1550.9L678.6,1561.1L668.4,1550.9L678.6,1540.6Z" fill="#f00" stroke="#000" stroke-width="4" opacity="0.72"/>
<path d="M716.6,1735.0L706.3,1745.3L696.1,1735.0L706.3,1724.8Z" fill="#f00" stroke="#000" stroke-width="4" opacity="0.72"/>
<path d="M744.2,1459.6L734.0,1469.9L723.8,1459.6L734.0,1449.4Z" fill="#f00" stroke="#000" stroke-width="4" opacity="0.72"/>
<path d="M771.9,1459.6L761.7,1469.9L751.4,1459.6L761.7,1449.4Z" fill="#f00" stroke="#000" stroke-width="4" opacity="0.72"/>
<path d="M799.6,1878.7L789.4,1889.0L779.1,1878.7L789.4,1868.5Z" fill="#f00" stroke="#000" stroke-width="4" opacity="0.72"/>
<path d="M827.3,1506.9L817.0,1517.1L806.8,1506.9L817.0,1496.6Z" fill="#f00" stroke="#000" stroke-width="4" opacity="0.72"/>
<path d="M855.0,1842.8L844.7,1853.0L834.5,1842.8L844.7,1832.5Z" fill="#f00" stroke="#000" stroke-width="4" opacity="0.72"/>
<path d="M882.6,1500.1L872.4,1510.4L862.1,1500.1L872.4,1489.9Z" fill="#f00" stroke="#000" stroke-width="4" opacity="0.72"/>
<path d="M910.3,1570.6L900.1,1580.8L889.8,1570.6L900.1,1560.3Z" fill="#f00" stroke="#000" stroke-width="4" opacity="0.72"/>
<path d="M938.0,1502.1L927.8,1512.3L917.5,1502.1L927.8,1491.8Z" fill="#f00" stroke="#000" stroke-width="4" opacity="0.72"/>
<path d="M965.7,1870.5L955.4,1880.8L945.2,1870.5L955.4,1860.3Z" fill="#f00" stroke="#000" stroke-width="4" opacity="0.72"/>
<path d="M993.4,1527.2L983.1,1537.4L972.9,1527.2L983.1,1516.9Z" fill="#f00" stroke="#000" stroke-width="4" opacity="0.72"/>
<path d="M1021.0,1516.7L1010.8,1527.0L1000.5,1516.7L1010.8,1506.5Z" fill="#f00" stroke="#000" stroke-width="4" opacity="0.72"/>
<path d="M1048.7,1495.7L1038.5,1505.9L1028.2,1495.7L1038.5,1485.4Z" fill="#f00" stroke="#000" stroke-width="4" opacity="0.72"/>
<path d="M1076.4,1476.6L1066.2,1486.9L1055.9,1476.6L1066.2,1466.4Z" fill="#f00" stroke="#000" stroke-width="4" opacity="0.72"/>
<path d="M1104.1,1668.7L1093.8,1678.9L1083.6,1668.7L1093.8,1658.4Z" fill="#f00" stroke="#000" stroke-width="4" opacity="0.72"/>
<path d="M1131.8,1687.9L1121.5,1698.2L1111.3,1687.9L1121.5,1677.7Z" fill="#f00" stroke="#000" stroke-width="4" opacity="0.72"/>
<path d="M1159.5,1481.4L1149.2,1491.7L1139.0,1481.4L1149.2,1471.2Z" fill="#f00" stroke="#000" stroke-width="4" opacity="0.72"/>
<path d="M1187.1,1559.7L1176.9,1570.0L1166.6,1559.7L1176.9,1549.5Z" fill="#f00" stroke="#000" stroke-width="4" opacity="0.72"/>
<path d="M1214.8,1459.6L1204.6,1469.9L1194.3,1459.6L1204.6,1449.4Z" fill="#f00" stroke="#000" stroke-width="4" opacity="0.72"/>
<path d="M1242.5,1603.2L1232.2,1613.5L1222.0,1603.2L1232.2,1593.0Z" fill="#f00" stroke="#000" stroke-width="4" opacity="0.72"/>
<path d="M1270.2,1467.9L1259.9,1478.2L1249.7,1467.9L1259.9,1457.7Z" fill="#f00" stroke="#000" stroke-width="4" opacity="0.72"/>
<path d="M1297.9,1485.9L1287.6,1496.1L1277.4,1485.9L1287.6,1475.6Z" fill="#f00" stroke="#000" stroke-width="4" opacity="0.72"/>
<path d="M1325.5,1597.4L1315.3,1607.6L1305.0,1597.4L1315.3,1587.1Z" fill="#f00" stroke="#000" stroke-width="4" opacity="0.72"/>
<rect x="157.7" y="1414.5" width="1180.7" height="534.0" fill="none" stroke="#000" stroke-width="2"/>
<text x="146.5" y="1958.2" font-size="30.5" fill="#000" text-anchor="end" textLength="15.5" lengthAdjust="spacingAndGlyphs">0</text>
<text x="149.5" y="1851.4" font-size="30.5" fill="#000" text-anchor="end" textLength="45" lengthAdjust="spacingAndGlyphs">0.2</text>
<text x="149.5" y="1744.6" font-size="30.5" fill="#000" text-anchor="end" textLength="45" lengthAdjust="spacingAndGlyphs">0.4</text>
<text x="149.5" y="1637.8" font-size="30.5" fill="#000" text-anchor="end" textLength="45" lengthAdjust="spacingAndGlyphs">0.6</text>
<text x="149.5" y="1531.0" font-size="30.5" fill="#000" text-anchor="end" textLength="45" lengthAdjust="spacingAndGlyphs">0.8</text>
<text x="146.5" y="1424.2" font-size="30.5" fill="#000" text-anchor="end" textLength="15.5" lengthAdjust="spacingAndGlyphs">1</text>
<text transform="translate(78.1,1760.5) rotate(-90)" font-size="30.5" fill="#000" textLength="183.5" lengthAdjust="spacingAndGlyphs">ipTM Scores</text>
<text transform="translate(169.0,1957.5) rotate(90)" font-size="23.3" fill="#000" textLength="92.6" lengthAdjust="spacingAndGlyphs">1_5NCL</text>
<text transform="translate(196.7,1957.5) rotate(90)" font-size="23.3" fill="#000" textLength="91.1" lengthAdjust="spacingAndGlyphs">2_5OJR</text>
<text transform="translate(224.4,1957.5) rotate(90)" font-size="23.3" fill="#000" textLength="108.6" lengthAdjust="spacingAndGlyphs">3_5V1U*</text>
<text transform="translate(252.0,1957.5) rotate(90)" font-size="23.3" fill="#000" textLength="106.3" lengthAdjust="spacingAndGlyphs">4_6A30*</text>
<text transform="translate(279.7,1957.5) rotate(90)" font-size="23.3" fill="#000" textLength="111.9" lengthAdjust="spacingAndGlyphs">5_6DO3*</text>
<text transform="translate(307.4,1957.5) rotate(90)" font-size="23.3" fill="#000" textLength="108.5" lengthAdjust="spacingAndGlyphs">6_6G04*</text>
<text transform="translate(335.1,1957.5) rotate(90)" font-size="23.3" fill="#000" textLength="88.0" lengthAdjust="spacingAndGlyphs">7_6ICV</text>
<text transform="translate(362.8,1957.5) rotate(90)" font-size="23.3" fill="#000" textLength="89.7" lengthAdjust="spacingAndGlyphs">8_6IDX</text>
<text transform="translate(390.4,1957.5) rotate(90)" font-size="23.3" fill="#000" textLength="90.1" lengthAdjust="spacingAndGlyphs">9_6IXQ</text>
<text transform="translate(418.1,1957.5) rotate(90)" font-size="23.3" fill="#000" textLength="109.2" lengthAdjust="spacingAndGlyphs">10_6J0W</text>
<text transform="translate(445.8,1957.5) rotate(90)" font-size="23.3" fill="#000" textLength="102.2" lengthAdjust="spacingAndGlyphs">11_6J0X</text>
<text transform="translate(473.5,1957.5) rotate(90)" font-size="23.3" fill="#000" textLength="101.9" lengthAdjust="spacingAndGlyphs">12_6JLH</text>
<text transform="translate(501.2,1957.5) rotate(90)" font-size="23.3" fill="#000" textLength="105.0" lengthAdjust="spacingAndGlyphs">13_6JWJ</text>
<text transform="translate(528.8,1957.5) rotate(90)" font-size="23.3" fill="#000" textLength="107.0" lengthAdjust="spacingAndGlyphs">14_6KPB</text>
<text transform="translate(556.5,1957.5) rotate(90)" font-size="23.3" fill="#000" textLength="104.5" lengthAdjust="spacingAndGlyphs">15_6L0V</text>
<text transform="translate(584.2,1957.5) rotate(90)" font-size="23.3" fill="#000" textLength="105.3" lengthAdjust="spacingAndGlyphs">16_6LPH</text>
<text transform="translate(611.9,1957.5) rotate(90)" font-size="23.3" fill="#000" textLength="113.4" lengthAdjust="spacingAndGlyphs">17_6OCG</text>
<text transform="translate(639.6,1957.5) rotate(90)" font-size="23.3" fill="#000" textLength="108.7" lengthAdjust="spacingAndGlyphs">18_6PSD</text>
<text transform="translate(667.2,1957.5) rotate(90)" font-size="23.3" fill="#000" textLength="105.5" lengthAdjust="spacingAndGlyphs">19_6PSE</text>
<text transform="translate(694.9,1957.5) rotate(90)" font-size="23.3" fill="#000" textLength="126.3" lengthAdjust="spacingAndGlyphs">20_6RKO*</text>
<text transform="translate(722.6,1957.5) rotate(90)" font-size="23.3" fill="#000" textLength="126.3" lengthAdjust="spacingAndGlyphs">21_6RKO*</text>
<text transform="translate(750.3,1957.5) rotate(90)" font-size="23.3" fill="#000" textLength="107.0" lengthAdjust="spacingAndGlyphs">22_6SAT</text>
<text transform="translate(778.0,1957.5) rotate(90)" font-size="23.3" fill="#000" textLength="115.6" lengthAdjust="spacingAndGlyphs">23_6TWN</text>
<text transform="translate(805.6,1957.5) rotate(90)" font-size="23.3" fill="#000" textLength="106.3" lengthAdjust="spacingAndGlyphs">24_6XFK</text>
<text transform="translate(833.3,1957.5) rotate(90)" font-size="23.3" fill="#000" textLength="107.4" lengthAdjust="spacingAndGlyphs">25_6YN0</text>
<text transform="translate(861.0,1957.5) rotate(90)" font-size="23.3" fill="#000" textLength="102.2" lengthAdjust="spacingAndGlyphs">26_7B1J</text>
<text transform="translate(888.7,1957.5) rotate(90)" font-size="23.3" fill="#000" textLength="106.7" lengthAdjust="spacingAndGlyphs">27_7CFC</text>
<text transform="translate(916.4,1957.5) rotate(90)" font-size="23.3" fill="#000" textLength="112.6" lengthAdjust="spacingAndGlyphs">28_7CZM</text>
<text transform="translate(944.0,1957.5) rotate(90)" font-size="23.3" fill="#000" textLength="107.0" lengthAdjust="spacingAndGlyphs">29_7F2D</text>
<text transform="translate(971.7,1957.5) rotate(90)" font-size="23.3" fill="#000" textLength="112.7" lengthAdjust="spacingAndGlyphs">30_7MKK</text>
<text transform="translate(999.4,1957.5) rotate(90)" font-size="23.3" fill="#000" textLength="112.3" lengthAdjust="spacingAndGlyphs">31_7MU2</text>
<text transform="translate(1027.1,1957.5) rotate(90)" font-size="23.3" fill="#000" textLength="116.1" lengthAdjust="spacingAndGlyphs">32_7NW1</text>
<text transform="translate(1054.8,1957.5) rotate(90)" font-size="23.3" fill="#000" textLength="120.1" lengthAdjust="spacingAndGlyphs">33_7QDW</text>
<text transform="translate(1082.4,1957.5) rotate(90)" font-size="23.3" fill="#000" textLength="111.3" lengthAdjust="spacingAndGlyphs">34_7RXQ</text>
<text transform="translate(1110.1,1957.5) rotate(90)" font-size="23.3" fill="#000" textLength="104.5" lengthAdjust="spacingAndGlyphs">35_7SID</text>
<text transform="translate(1137.8,1957.5) rotate(90)" font-size="23.3" fill="#000" textLength="101.0" lengthAdjust="spacingAndGlyphs">36_6J08</text>
<text transform="translate(1165.5,1957.5) rotate(90)" font-size="23.3" fill="#000" textLength="114.6" lengthAdjust="spacingAndGlyphs">37_6ZW0</text>
<text transform="translate(1193.2,1957.5) rotate(90)" font-size="23.3" fill="#000" textLength="107.8" lengthAdjust="spacingAndGlyphs">38_7N40</text>
<text transform="translate(1220.8,1957.5) rotate(90)" font-size="23.3" fill="#000" textLength="111.4" lengthAdjust="spacingAndGlyphs">39_7O6N</text>
<text transform="translate(1248.5,1957.5) rotate(90)" font-size="23.3" fill="#000" textLength="117.0" lengthAdjust="spacingAndGlyphs">40_5OW5</text>
<text transform="translate(1276.2,1957.5) rotate(90)" font-size="23.3" fill="#000" textLength="105.4" lengthAdjust="spacingAndGlyphs">41_6JMT</text>
<text transform="translate(1303.9,1957.5) rotate(90)" font-size="23.3" fill="#000" textLength="107.7" lengthAdjust="spacingAndGlyphs">42_6GP7</text>
</g>
</svg>
</body></html>
